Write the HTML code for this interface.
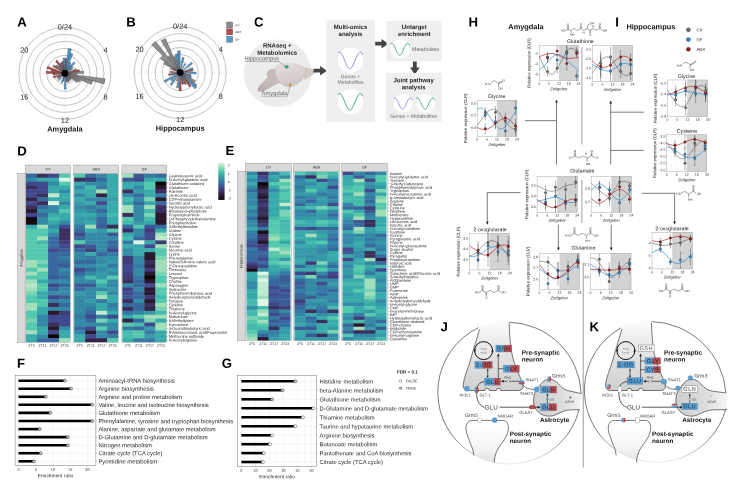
<!DOCTYPE html>
<html lang="en"><head><meta charset="utf-8"><title>Figure</title>
<style>
html,body{margin:0;padding:0;background:#fff;}
body{width:737px;height:491px;overflow:hidden;font-family:"Liberation Sans",sans-serif;}
svg{display:block;font-family:"Liberation Sans",sans-serif;text-rendering:geometricPrecision;}
</style></head><body>
<svg width="737" height="491" viewBox="0 0 737 491" style="will-change:transform">
<rect width="737" height="491" fill="#fff"/>
<line x1="64.9" y1="73.4" x2="64.9" y2="27.4" stroke="#e8e8e8" stroke-width="0.35"/>
<line x1="64.9" y1="73.4" x2="87.9" y2="33.56" stroke="#e8e8e8" stroke-width="0.35"/>
<line x1="64.9" y1="73.4" x2="104.74" y2="50.4" stroke="#e8e8e8" stroke-width="0.35"/>
<line x1="64.9" y1="73.4" x2="110.9" y2="73.4" stroke="#e8e8e8" stroke-width="0.35"/>
<line x1="64.9" y1="73.4" x2="104.74" y2="96.4" stroke="#e8e8e8" stroke-width="0.35"/>
<line x1="64.9" y1="73.4" x2="87.9" y2="113.24" stroke="#e8e8e8" stroke-width="0.35"/>
<line x1="64.9" y1="73.4" x2="64.9" y2="119.4" stroke="#e8e8e8" stroke-width="0.35"/>
<line x1="64.9" y1="73.4" x2="41.9" y2="113.24" stroke="#e8e8e8" stroke-width="0.35"/>
<line x1="64.9" y1="73.4" x2="25.06" y2="96.4" stroke="#e8e8e8" stroke-width="0.35"/>
<line x1="64.9" y1="73.4" x2="18.9" y2="73.4" stroke="#e8e8e8" stroke-width="0.35"/>
<line x1="64.9" y1="73.4" x2="25.06" y2="50.4" stroke="#e8e8e8" stroke-width="0.35"/>
<line x1="64.9" y1="73.4" x2="41.9" y2="33.56" stroke="#e8e8e8" stroke-width="0.35"/>
<circle cx="64.9" cy="73.4" r="11" fill="none" stroke="#555" stroke-width="0.35"/>
<circle cx="64.9" cy="73.4" r="18" fill="none" stroke="#555" stroke-width="0.35"/>
<circle cx="64.9" cy="73.4" r="25" fill="none" stroke="#555" stroke-width="0.35"/>
<circle cx="64.9" cy="73.4" r="32" fill="none" stroke="#555" stroke-width="0.35"/>
<circle cx="64.9" cy="73.4" r="39" fill="none" stroke="#555" stroke-width="0.35"/>
<circle cx="64.9" cy="73.4" r="46" fill="none" stroke="#555" stroke-width="0.35"/>
<path d="M64.9 73.4L105.15 78.7A40.6 40.6 0 0 1 104.12 83.91Z" fill="#8c8c8c" stroke="#222" stroke-width="0.3" stroke-linejoin="round"/>
<path d="M64.9 73.4L92.62 80.83A28.7 28.7 0 0 1 91.42 84.38Z" fill="#8c8c8c" stroke="#222" stroke-width="0.3" stroke-linejoin="round"/>
<path d="M64.9 73.4L80.61 79.91A17 17 0 0 1 79.62 81.9Z" fill="#8c8c8c" stroke="#222" stroke-width="0.3" stroke-linejoin="round"/>
<path d="M64.9 73.4L78.06 81A15.2 15.2 0 0 1 76.96 82.65Z" fill="#8c8c8c" stroke="#222" stroke-width="0.3" stroke-linejoin="round"/>
<path d="M64.9 73.4L83.44 70.96A18.7 18.7 0 0 1 83.6 73.4Z" fill="#8c8c8c" stroke="#222" stroke-width="0.3" stroke-linejoin="round"/>
<path d="M64.9 73.4L76.26 68.69A12.3 12.3 0 0 1 76.78 70.22Z" fill="#8c8c8c" stroke="#222" stroke-width="0.3" stroke-linejoin="round"/>
<path d="M64.9 73.4L76.9 73.4A12 12 0 0 1 76.8 74.97Z" fill="#8c8c8c" stroke="#222" stroke-width="0.3" stroke-linejoin="round"/>
<path d="M64.9 73.4L55.46 66.16A11.9 11.9 0 0 1 56.49 64.99Z" fill="#8c8c8c" stroke="#222" stroke-width="0.3" stroke-linejoin="round"/>
<path d="M64.9 73.4L57.83 66.33A10 10 0 0 1 58.81 65.47Z" fill="#8c8c8c" stroke="#222" stroke-width="0.3" stroke-linejoin="round"/>
<path d="M64.9 73.4L71.26 79.76A9 9 0 0 1 70.38 80.54Z" fill="#8c8c8c" stroke="#222" stroke-width="0.3" stroke-linejoin="round"/>
<path d="M64.9 73.4L72.04 67.92A9 9 0 0 1 72.69 68.9Z" fill="#8c8c8c" stroke="#222" stroke-width="0.3" stroke-linejoin="round"/>
<path d="M64.9 73.4L61.46 65.09A9 9 0 0 1 62.57 64.71Z" fill="#8c8c8c" stroke="#222" stroke-width="0.3" stroke-linejoin="round"/>
<path d="M64.9 73.4L46.74 68.53A18.8 18.8 0 0 1 47.53 66.21Z" fill="#b5494a" stroke="#222" stroke-width="0.3" stroke-linejoin="round"/>
<path d="M64.9 73.4L46.2 73.4A18.7 18.7 0 0 1 46.36 70.96Z" fill="#b5494a" stroke="#222" stroke-width="0.3" stroke-linejoin="round"/>
<path d="M64.9 73.4L51.02 71.57A14 14 0 0 1 51.38 69.78Z" fill="#b5494a" stroke="#222" stroke-width="0.3" stroke-linejoin="round"/>
<path d="M64.9 73.4L53 74.97A12 12 0 0 1 52.9 73.4Z" fill="#b5494a" stroke="#222" stroke-width="0.3" stroke-linejoin="round"/>
<path d="M64.9 73.4L53.54 78.11A12.3 12.3 0 0 1 53.02 76.58Z" fill="#b5494a" stroke="#222" stroke-width="0.3" stroke-linejoin="round"/>
<path d="M64.9 73.4L52.78 66.4A14 14 0 0 1 53.79 64.88Z" fill="#b5494a" stroke="#222" stroke-width="0.3" stroke-linejoin="round"/>
<path d="M64.9 73.4L55.53 61.18A15.4 15.4 0 0 1 57.2 60.06Z" fill="#b5494a" stroke="#222" stroke-width="0.3" stroke-linejoin="round"/>
<path d="M64.9 73.4L61.74 61.62A12.2 12.2 0 0 1 63.31 61.3Z" fill="#b5494a" stroke="#222" stroke-width="0.3" stroke-linejoin="round"/>
<path d="M64.9 73.4L64.9 58.4A15 15 0 0 1 66.86 58.53Z" fill="#b5494a" stroke="#222" stroke-width="0.3" stroke-linejoin="round"/>
<path d="M64.9 73.4L79.2 69.57A14.8 14.8 0 0 1 79.57 71.47Z" fill="#b5494a" stroke="#222" stroke-width="0.3" stroke-linejoin="round"/>
<path d="M64.9 73.4L59.4 63.87A11 11 0 0 1 60.69 63.24Z" fill="#b5494a" stroke="#222" stroke-width="0.3" stroke-linejoin="round"/>
<path d="M64.9 73.4L57.76 78.88A9 9 0 0 1 57.11 77.9Z" fill="#b5494a" stroke="#222" stroke-width="0.3" stroke-linejoin="round"/>
<path d="M64.9 73.4L69.4 81.19A9 9 0 0 1 68.34 81.71Z" fill="#b5494a" stroke="#222" stroke-width="0.3" stroke-linejoin="round"/>
<path d="M64.9 73.4L71.25 78.27A8 8 0 0 1 70.56 79.06Z" fill="#b5494a" stroke="#222" stroke-width="0.3" stroke-linejoin="round"/>
<path d="M64.9 73.4L67.1 81.61A8.5 8.5 0 0 1 66.01 81.83Z" fill="#b5494a" stroke="#222" stroke-width="0.3" stroke-linejoin="round"/>
<path d="M64.9 73.4L68.19 48.42A25.2 25.2 0 0 1 71.42 49.06Z" fill="#4f9ad0" stroke="#222" stroke-width="0.3" stroke-linejoin="round"/>
<path d="M64.9 73.4L70.34 53.12A21 21 0 0 1 72.94 54Z" fill="#4f9ad0" stroke="#222" stroke-width="0.3" stroke-linejoin="round"/>
<path d="M64.9 73.4L62.89 58.13A15.4 15.4 0 0 1 64.9 58Z" fill="#4f9ad0" stroke="#222" stroke-width="0.3" stroke-linejoin="round"/>
<path d="M64.9 73.4L73.73 61.9A14.5 14.5 0 0 1 75.15 63.15Z" fill="#4f9ad0" stroke="#222" stroke-width="0.3" stroke-linejoin="round"/>
<path d="M64.9 73.4L69.9 64.74A10 10 0 0 1 70.99 65.47Z" fill="#4f9ad0" stroke="#222" stroke-width="0.3" stroke-linejoin="round"/>
<path d="M64.9 73.4L71.97 66.33A10 10 0 0 1 72.83 67.31Z" fill="#4f9ad0" stroke="#222" stroke-width="0.3" stroke-linejoin="round"/>
<path d="M64.9 73.4L66.35 89.23A15.9 15.9 0 0 1 64.28 89.29Z" fill="#4f9ad0" stroke="#222" stroke-width="0.3" stroke-linejoin="round"/>
<path d="M64.9 73.4L68.46 81.99A9.3 9.3 0 0 1 67.31 82.38Z" fill="#4f9ad0" stroke="#222" stroke-width="0.3" stroke-linejoin="round"/>
<path d="M64.9 73.4L62.36 82.87A9.8 9.8 0 0 1 61.15 82.45Z" fill="#4f9ad0" stroke="#222" stroke-width="0.3" stroke-linejoin="round"/>
<path d="M64.9 73.4L59.24 80.78A9.3 9.3 0 0 1 58.32 79.98Z" fill="#4f9ad0" stroke="#222" stroke-width="0.3" stroke-linejoin="round"/>
<path d="M64.9 73.4L63.86 81.33A8 8 0 0 1 62.83 81.13Z" fill="#4f9ad0" stroke="#222" stroke-width="0.3" stroke-linejoin="round"/>
<path d="M64.9 73.4L60.69 63.24A11 11 0 0 1 62.05 62.77Z" fill="#4f9ad0" stroke="#222" stroke-width="0.3" stroke-linejoin="round"/>
<path d="M64.9 73.4L69.77 79.75A8 8 0 0 1 68.9 80.33Z" fill="#4f9ad0" stroke="#222" stroke-width="0.3" stroke-linejoin="round"/>
<path d="M64.9 73.4L57.97 77.4A8 8 0 0 1 57.51 76.46Z" fill="#4f9ad0" stroke="#222" stroke-width="0.3" stroke-linejoin="round"/>
<path d="M64.9 73.4L69.49 62.31A12 12 0 0 1 70.9 63.01Z" fill="#4f9ad0" stroke="#222" stroke-width="0.3" stroke-linejoin="round"/>
<circle cx="64.9" cy="73.4" r="3.3" fill="#000"/>
<text transform="translate(64.9 29.5) rotate(0.03)" font-size="7.4" text-anchor="middle" fill="#222">0/24</text>
<text transform="translate(105.5 52.6) rotate(0.03)" font-size="7.4" text-anchor="middle" fill="#222">4</text>
<text transform="translate(105.5 99.6) rotate(0.03)" font-size="7.4" text-anchor="middle" fill="#222">8</text>
<text transform="translate(64.9 122.7) rotate(0.03)" font-size="7.4" text-anchor="middle" fill="#222">12</text>
<text transform="translate(24.3 99.6) rotate(0.03)" font-size="7.4" text-anchor="middle" fill="#222">16</text>
<text transform="translate(24.3 52.6) rotate(0.03)" font-size="7.4" text-anchor="middle" fill="#222">20</text>
<text transform="translate(64.9 131.6) rotate(0.03)" font-size="7.4" text-anchor="middle" font-weight="bold" fill="#111">Amygdala</text>
<line x1="180.2" y1="72.6" x2="180.2" y2="26.6" stroke="#e8e8e8" stroke-width="0.35"/>
<line x1="180.2" y1="72.6" x2="203.2" y2="32.76" stroke="#e8e8e8" stroke-width="0.35"/>
<line x1="180.2" y1="72.6" x2="220.04" y2="49.6" stroke="#e8e8e8" stroke-width="0.35"/>
<line x1="180.2" y1="72.6" x2="226.2" y2="72.6" stroke="#e8e8e8" stroke-width="0.35"/>
<line x1="180.2" y1="72.6" x2="220.04" y2="95.6" stroke="#e8e8e8" stroke-width="0.35"/>
<line x1="180.2" y1="72.6" x2="203.2" y2="112.44" stroke="#e8e8e8" stroke-width="0.35"/>
<line x1="180.2" y1="72.6" x2="180.2" y2="118.6" stroke="#e8e8e8" stroke-width="0.35"/>
<line x1="180.2" y1="72.6" x2="157.2" y2="112.44" stroke="#e8e8e8" stroke-width="0.35"/>
<line x1="180.2" y1="72.6" x2="140.36" y2="95.6" stroke="#e8e8e8" stroke-width="0.35"/>
<line x1="180.2" y1="72.6" x2="134.2" y2="72.6" stroke="#e8e8e8" stroke-width="0.35"/>
<line x1="180.2" y1="72.6" x2="140.36" y2="49.6" stroke="#e8e8e8" stroke-width="0.35"/>
<line x1="180.2" y1="72.6" x2="157.2" y2="32.76" stroke="#e8e8e8" stroke-width="0.35"/>
<circle cx="180.2" cy="72.6" r="11" fill="none" stroke="#555" stroke-width="0.35"/>
<circle cx="180.2" cy="72.6" r="18" fill="none" stroke="#555" stroke-width="0.35"/>
<circle cx="180.2" cy="72.6" r="25" fill="none" stroke="#555" stroke-width="0.35"/>
<circle cx="180.2" cy="72.6" r="32" fill="none" stroke="#555" stroke-width="0.35"/>
<circle cx="180.2" cy="72.6" r="39" fill="none" stroke="#555" stroke-width="0.35"/>
<circle cx="180.2" cy="72.6" r="46" fill="none" stroke="#555" stroke-width="0.35"/>
<path d="M180.2 72.6L151.62 44.76A39.9 39.9 0 0 1 155.5 41.27Z" fill="#8c8c8c" stroke="#222" stroke-width="0.3" stroke-linejoin="round"/>
<path d="M180.2 72.6L161.18 40.63A37.2 37.2 0 0 1 165.52 38.42Z" fill="#8c8c8c" stroke="#222" stroke-width="0.3" stroke-linejoin="round"/>
<path d="M180.2 72.6L160.44 58.63A24.2 24.2 0 0 1 162.43 56.17Z" fill="#8c8c8c" stroke="#222" stroke-width="0.3" stroke-linejoin="round"/>
<path d="M180.2 72.6L163.65 63.89A18.7 18.7 0 0 1 164.93 61.81Z" fill="#8c8c8c" stroke="#222" stroke-width="0.3" stroke-linejoin="round"/>
<path d="M180.2 72.6L167.82 56.89A20 20 0 0 1 169.97 55.41Z" fill="#8c8c8c" stroke="#222" stroke-width="0.3" stroke-linejoin="round"/>
<path d="M180.2 72.6L173.49 56.98A17 17 0 0 1 175.59 56.24Z" fill="#8c8c8c" stroke="#222" stroke-width="0.3" stroke-linejoin="round"/>
<path d="M180.2 72.6L196.95 84.77A20.7 20.7 0 0 1 195.22 86.85Z" fill="#8c8c8c" stroke="#222" stroke-width="0.3" stroke-linejoin="round"/>
<path d="M180.2 72.6L195.24 80.52A17 17 0 0 1 194.08 82.41Z" fill="#8c8c8c" stroke="#222" stroke-width="0.3" stroke-linejoin="round"/>
<path d="M180.2 72.6L190.23 82.37A14 14 0 0 1 188.87 83.59Z" fill="#8c8c8c" stroke="#222" stroke-width="0.3" stroke-linejoin="round"/>
<path d="M180.2 72.6L170.73 69.39A10 10 0 0 1 171.23 68.18Z" fill="#8c8c8c" stroke="#222" stroke-width="0.3" stroke-linejoin="round"/>
<path d="M180.2 72.6L181.4 90.86A18.3 18.3 0 0 1 179 90.86Z" fill="#b5494a" stroke="#222" stroke-width="0.3" stroke-linejoin="round"/>
<path d="M180.2 72.6L191.07 85.67A17 17 0 0 1 189.27 86.98Z" fill="#b5494a" stroke="#222" stroke-width="0.3" stroke-linejoin="round"/>
<path d="M180.2 72.6L186.55 83.94A13 13 0 0 1 185.02 84.67Z" fill="#b5494a" stroke="#222" stroke-width="0.3" stroke-linejoin="round"/>
<path d="M180.2 72.6L168.76 75.5A11.8 11.8 0 0 1 168.48 73.99Z" fill="#b5494a" stroke="#222" stroke-width="0.3" stroke-linejoin="round"/>
<path d="M180.2 72.6L170.2 72.47A10 10 0 0 1 170.3 71.17Z" fill="#b5494a" stroke="#222" stroke-width="0.3" stroke-linejoin="round"/>
<path d="M180.2 72.6L192.8 69.4A13 13 0 0 1 193.11 71.07Z" fill="#b5494a" stroke="#222" stroke-width="0.3" stroke-linejoin="round"/>
<path d="M180.2 72.6L190.99 74.75A11 11 0 0 1 190.62 76.14Z" fill="#b5494a" stroke="#222" stroke-width="0.3" stroke-linejoin="round"/>
<path d="M180.2 72.6L183.46 84.15A12 12 0 0 1 181.92 84.48Z" fill="#b5494a" stroke="#222" stroke-width="0.3" stroke-linejoin="round"/>
<path d="M180.2 72.6L173.03 69.06A8 8 0 0 1 173.55 68.16Z" fill="#b5494a" stroke="#222" stroke-width="0.3" stroke-linejoin="round"/>
<path d="M180.2 72.6L177.31 81.12A9 9 0 0 1 176.22 80.67Z" fill="#b5494a" stroke="#222" stroke-width="0.3" stroke-linejoin="round"/>
<path d="M180.2 72.6L177.35 50.99A21.8 21.8 0 0 1 180.2 50.8Z" fill="#4f9ad0" stroke="#222" stroke-width="0.3" stroke-linejoin="round"/>
<path d="M180.2 72.6L175.28 54.25A19 19 0 0 1 177.72 53.76Z" fill="#4f9ad0" stroke="#222" stroke-width="0.3" stroke-linejoin="round"/>
<path d="M180.2 72.6L182.22 57.23A15.5 15.5 0 0 1 184.21 57.63Z" fill="#4f9ad0" stroke="#222" stroke-width="0.3" stroke-linejoin="round"/>
<path d="M180.2 72.6L191.36 62.28A15.2 15.2 0 0 1 192.61 63.83Z" fill="#4f9ad0" stroke="#222" stroke-width="0.3" stroke-linejoin="round"/>
<path d="M180.2 72.6L196.09 71.98A15.9 15.9 0 0 1 196.03 74.05Z" fill="#4f9ad0" stroke="#222" stroke-width="0.3" stroke-linejoin="round"/>
<path d="M180.2 72.6L192.65 67.63A13.4 13.4 0 0 1 193.19 69.3Z" fill="#4f9ad0" stroke="#222" stroke-width="0.3" stroke-linejoin="round"/>
<path d="M180.2 72.6L165.23 82.6A18 18 0 0 1 164.06 80.56Z" fill="#4f9ad0" stroke="#222" stroke-width="0.3" stroke-linejoin="round"/>
<path d="M180.2 72.6L171.59 85.49A15.5 15.5 0 0 1 169.98 84.25Z" fill="#4f9ad0" stroke="#222" stroke-width="0.3" stroke-linejoin="round"/>
<path d="M180.2 72.6L178.38 87.99A15.5 15.5 0 0 1 176.38 87.62Z" fill="#4f9ad0" stroke="#222" stroke-width="0.3" stroke-linejoin="round"/>
<path d="M180.2 72.6L196.93 86.89A22 22 0 0 1 194.92 88.95Z" fill="#4f9ad0" stroke="#222" stroke-width="0.3" stroke-linejoin="round"/>
<path d="M180.2 72.6L184.62 63.63A10 10 0 0 1 185.76 64.29Z" fill="#4f9ad0" stroke="#222" stroke-width="0.3" stroke-linejoin="round"/>
<path d="M180.2 72.6L191.56 76.46A12 12 0 0 1 190.96 77.91Z" fill="#4f9ad0" stroke="#222" stroke-width="0.3" stroke-linejoin="round"/>
<path d="M180.2 72.6L171.6 80.97A12 12 0 0 1 170.58 79.78Z" fill="#4f9ad0" stroke="#222" stroke-width="0.3" stroke-linejoin="round"/>
<path d="M180.2 72.6L184.28 82.82A11 11 0 0 1 182.91 83.26Z" fill="#4f9ad0" stroke="#222" stroke-width="0.3" stroke-linejoin="round"/>
<path d="M180.2 72.6L171.68 75.49A9 9 0 0 1 171.37 74.36Z" fill="#4f9ad0" stroke="#222" stroke-width="0.3" stroke-linejoin="round"/>
<circle cx="180.2" cy="72.6" r="3.3" fill="#000"/>
<text transform="translate(180.2 28.7) rotate(0.03)" font-size="7.4" text-anchor="middle" fill="#222">0/24</text>
<text transform="translate(220.8 51.8) rotate(0.03)" font-size="7.4" text-anchor="middle" fill="#222">4</text>
<text transform="translate(220.8 98.8) rotate(0.03)" font-size="7.4" text-anchor="middle" fill="#222">8</text>
<text transform="translate(180.2 121.9) rotate(0.03)" font-size="7.4" text-anchor="middle" fill="#222">12</text>
<text transform="translate(139.6 98.8) rotate(0.03)" font-size="7.4" text-anchor="middle" fill="#222">16</text>
<text transform="translate(139.6 51.8) rotate(0.03)" font-size="7.4" text-anchor="middle" fill="#222">20</text>
<text transform="translate(180.2 130.8) rotate(0.03)" font-size="7.4" text-anchor="middle" font-weight="bold" fill="#111">Hippocampus</text>
<rect x="226.6" y="22" width="6.1" height="6" fill="#8c8c8c" stroke="#444" stroke-width="0.3"/>
<text transform="translate(235.2 26.2) rotate(0.03)" font-size="3.1" fill="#222">CV</text>
<rect x="226.6" y="28.9" width="6.1" height="6" fill="#b5494a" stroke="#444" stroke-width="0.3"/>
<text transform="translate(235.2 33.1) rotate(0.03)" font-size="3.1" fill="#222">ABX</text>
<rect x="226.6" y="36.3" width="6.1" height="6" fill="#4f9ad0" stroke="#444" stroke-width="0.3"/>
<text transform="translate(235.2 40.5) rotate(0.03)" font-size="3.1" fill="#222">GF</text>
<circle cx="277.7" cy="73.2" r="33.8" fill="#ececec"/>
<defs><linearGradient id="brn" x1="0" y1="0" x2="0.3" y2="1"><stop offset="0" stop-color="#e6e0de"/><stop offset="1" stop-color="#cfc7c4"/></linearGradient><linearGradient id="brn2" x1="0" y1="0" x2="0" y2="1"><stop offset="0" stop-color="#d3cbc8"/><stop offset="1" stop-color="#b5aca9"/></linearGradient></defs>
<path d="M258 91 C256.5 89.5 258.5 86.5 262 83 C266 79 269 75.5 272 73.5 L281 82.5 C276 84 270 87.5 265 90.5 C262 92.3 259.3 92.3 258 91 Z" fill="url(#brn2)"/>
<path d="M266.8 75 C266.5 71 270 68.6 274 69.2 C278 69.8 280 73 279 77 C278 80.5 273.5 81 270.5 79.8 C268.3 78.9 267 77.2 266.8 75 Z" fill="#c4bbb8"/>
<path d="M303 68 C308 67.2 313 68.5 315 70.6 C316 72 314.5 74 311 76 C308.5 77.5 306 79 304.5 80 Z" fill="#d2cac7"/>
<path d="M275.9 66.5 C279 63.3 285 62.2 290.4 62.4 C296.5 62.6 302.5 64.6 305.6 68 C306.3 72.5 304.4 77.2 301.1 80.8 C298 84.3 294.5 86.8 290.4 87 C285.5 87.2 281 84.3 278.2 80.8 C275.5 77.2 274.3 71 275.9 66.5 Z" fill="url(#brn)"/>
<path d="M275.9 66.5 C274.3 71 275.5 77.2 278.2 80.8 C281 84.3 285.5 87.2 290.4 87" fill="none" stroke="#b5aca9" stroke-width="0.35"/>
<path d="M305.6 68 C306.3 72.5 304.4 77.2 301.1 80.8" fill="none" stroke="#b5aca9" stroke-width="0.35"/>
<ellipse cx="286.6" cy="66.8" rx="2.1" ry="1.6" fill="#2fa07d"/>
<circle cx="290.1" cy="85" r="1.4" fill="#e08a3c"/>
<text transform="translate(277.2 47.6) rotate(0.03)" font-size="6" text-anchor="middle" font-weight="bold" fill="#222">RNAseq +</text>
<text transform="translate(277.2 54.8) rotate(0.03)" font-size="6" text-anchor="middle" font-weight="bold" fill="#222">Metabolomics</text>
<text transform="translate(244.4 60.2) rotate(0.03)" font-size="5.7" fill="#666">Hippocampus</text>
<path d="M244.6 61.4L278.2 61.4L285.6 66.2" fill="none" stroke="#555" stroke-width="0.4"/>
<text transform="translate(261.6 94.9) rotate(0.03)" font-size="5.8" fill="#666">Amygdala</text>
<path d="M261.4 96.2L287.4 96.2L290.1 86.2" fill="none" stroke="#555" stroke-width="0.4"/>
<path d="M313.5 68.8L320.1 68.8L320.1 65.9L327 70.7L320.1 75.5L320.1 72.6L313.5 72.6Z" fill="#444"/>
<rect x="326.2" y="20.3" width="48.8" height="101.4" fill="#efefef"/>
<text transform="translate(350.5 29) rotate(0.03)" font-size="6.05" text-anchor="middle" font-weight="bold" fill="#222">Multi-omics</text>
<text transform="translate(350.5 36) rotate(0.03)" font-size="6.05" text-anchor="middle" font-weight="bold" fill="#222">analysis</text>
<circle cx="350.6" cy="60.2" r="12.7" fill="#fff"/>
<path d="M338.35 52.7C338.52 52.62 339.03 52.24 339.37 52.21C339.71 52.17 340.05 52.27 340.39 52.49C340.73 52.71 341.07 53.07 341.41 53.53C341.75 53.98 342.09 54.57 342.43 55.21C342.77 55.85 343.11 56.61 343.45 57.39C343.79 58.16 344.13 59.02 344.48 59.85C344.82 60.68 345.16 61.56 345.5 62.36C345.84 63.17 346.18 63.98 346.52 64.69C346.86 65.4 347.2 66.07 347.54 66.61C347.88 67.15 348.22 67.62 348.56 67.95C348.9 68.27 349.24 68.49 349.58 68.56C349.92 68.64 350.26 68.59 350.6 68.41C350.94 68.23 351.28 67.91 351.62 67.5C351.96 67.08 352.3 66.53 352.64 65.91C352.98 65.3 353.32 64.56 353.66 63.81C354 63.05 354.34 62.2 354.68 61.38C355.02 60.55 355.36 59.67 355.7 58.86C356.04 58.04 356.38 57.21 356.73 56.48C357.07 55.75 357.41 55.05 357.75 54.48C358.09 53.9 358.43 53.4 358.77 53.03C359.11 52.67 359.45 52.41 359.79 52.29C360.13 52.17 360.47 52.17 360.81 52.31C361.15 52.44 361.49 52.72 361.83 53.1C362.17 53.47 362.68 54.33 362.85 54.58" fill="none" stroke="#8b7fd0" stroke-width="0.9" stroke-linecap="round"/>
<text transform="translate(350.5 78.3) rotate(0.03)" font-size="5.1" text-anchor="middle" fill="#666">Genes +</text>
<text transform="translate(350.5 83.8) rotate(0.03)" font-size="5.1" text-anchor="middle" fill="#666">Metabolites</text>
<circle cx="350.6" cy="101.6" r="12.7" fill="#fff"/>
<path d="M338.35 94.1C338.52 94.02 339.03 93.64 339.37 93.61C339.71 93.57 340.05 93.67 340.39 93.89C340.73 94.11 341.07 94.47 341.41 94.93C341.75 95.38 342.09 95.97 342.43 96.61C342.77 97.25 343.11 98.01 343.45 98.79C343.79 99.56 344.13 100.42 344.48 101.25C344.82 102.08 345.16 102.96 345.5 103.76C345.84 104.57 346.18 105.38 346.52 106.09C346.86 106.8 347.2 107.47 347.54 108.01C347.88 108.55 348.22 109.02 348.56 109.35C348.9 109.67 349.24 109.89 349.58 109.96C349.92 110.04 350.26 109.99 350.6 109.81C350.94 109.63 351.28 109.31 351.62 108.9C351.96 108.48 352.3 107.93 352.64 107.31C352.98 106.7 353.32 105.96 353.66 105.21C354 104.45 354.34 103.6 354.68 102.78C355.02 101.95 355.36 101.07 355.7 100.26C356.04 99.44 356.38 98.61 356.73 97.88C357.07 97.15 357.41 96.45 357.75 95.88C358.09 95.3 358.43 94.8 358.77 94.43C359.11 94.07 359.45 93.81 359.79 93.69C360.13 93.57 360.47 93.57 360.81 93.71C361.15 93.84 361.49 94.12 361.83 94.5C362.17 94.87 362.68 95.73 362.85 95.98" fill="none" stroke="#2fa07d" stroke-width="0.9" stroke-linecap="round"/>
<path d="M375.2 41.8L381.5 41.8L381.5 38.9L388.4 43.7L381.5 48.5L381.5 45.6L375.2 45.6Z" fill="#444"/>
<rect x="386.5" y="21" width="55.2" height="40.3" fill="#efefef"/>
<text transform="translate(414.3 29) rotate(0.03)" font-size="6.05" text-anchor="middle" font-weight="bold" fill="#222">Untarget</text>
<text transform="translate(414.3 36) rotate(0.03)" font-size="6.05" text-anchor="middle" font-weight="bold" fill="#222">enrichment</text>
<circle cx="400.2" cy="49.1" r="9.7" fill="#fff"/>
<path d="M390.95 43.66C391.08 43.6 391.46 43.33 391.72 43.31C391.98 43.28 392.23 43.35 392.49 43.51C392.75 43.67 393.01 43.94 393.26 44.27C393.52 44.6 393.78 45.03 394.03 45.5C394.29 45.97 394.55 46.53 394.8 47.1C395.06 47.66 395.32 48.29 395.57 48.9C395.83 49.5 396.09 50.15 396.35 50.74C396.6 51.33 396.86 51.92 397.12 52.44C397.37 52.96 397.63 53.45 397.89 53.85C398.14 54.24 398.4 54.58 398.66 54.82C398.92 55.06 399.17 55.22 399.43 55.27C399.69 55.33 399.94 55.29 400.2 55.16C400.46 55.03 400.71 54.8 400.97 54.49C401.23 54.19 401.48 53.78 401.74 53.33C402 52.88 402.26 52.35 402.51 51.79C402.77 51.24 403.03 50.62 403.28 50.02C403.54 49.41 403.8 48.77 404.05 48.17C404.31 47.57 404.57 46.97 404.82 46.43C405.08 45.9 405.34 45.39 405.6 44.97C405.85 44.55 406.11 44.18 406.37 43.91C406.62 43.64 406.88 43.45 407.14 43.36C407.39 43.28 407.65 43.28 407.91 43.38C408.17 43.48 408.42 43.68 408.68 43.96C408.94 44.23 409.32 44.86 409.45 45.04" fill="none" stroke="#2fa07d" stroke-width="0.8" stroke-linecap="round"/>
<text transform="translate(412 51) rotate(0.03)" font-size="5.3" fill="#666">Metabolites</text>
<path d="M412.9 61.6L412.9 67.5L410 67.5L414.8 74.4L419.6 67.5L416.7 67.5L416.7 61.6Z" fill="#444"/>
<rect x="386" y="73" width="55.7" height="48.7" fill="#efefef"/>
<text transform="translate(413.6 82.3) rotate(0.03)" font-size="6.05" text-anchor="middle" font-weight="bold" fill="#222">Joint pathway</text>
<text transform="translate(413.6 89.3) rotate(0.03)" font-size="6.05" text-anchor="middle" font-weight="bold" fill="#222">analysis</text>
<circle cx="403.1" cy="103.4" r="9.4" fill="#fff"/>
<path d="M394.1 98.34C394.23 98.28 394.6 98.03 394.85 98C395.1 97.98 395.35 98.05 395.6 98.2C395.85 98.35 396.1 98.6 396.35 98.91C396.6 99.22 396.85 99.62 397.1 100.06C397.35 100.5 397.6 101.01 397.85 101.54C398.1 102.07 398.35 102.66 398.6 103.22C398.85 103.79 399.1 104.39 399.35 104.94C399.6 105.49 399.85 106.05 400.1 106.53C400.35 107.01 400.6 107.47 400.85 107.84C401.1 108.21 401.35 108.53 401.6 108.75C401.85 108.98 402.1 109.12 402.35 109.18C402.6 109.23 402.85 109.19 403.1 109.07C403.35 108.95 403.6 108.73 403.85 108.45C404.1 108.16 404.35 107.79 404.6 107.37C404.85 106.95 405.1 106.44 405.35 105.93C405.6 105.41 405.85 104.83 406.1 104.27C406.35 103.7 406.6 103.1 406.85 102.55C407.1 101.99 407.35 101.42 407.6 100.92C407.85 100.43 408.1 99.95 408.35 99.55C408.6 99.16 408.85 98.82 409.1 98.57C409.35 98.32 409.6 98.14 409.85 98.06C410.1 97.98 410.35 97.98 410.6 98.07C410.85 98.17 411.1 98.35 411.35 98.61C411.6 98.87 411.98 99.45 412.1 99.62" fill="none" stroke="#8b7fd0" stroke-width="0.8" stroke-linecap="round"/>
<circle cx="425.6" cy="103.4" r="9.4" fill="#fff"/>
<path d="M416.6 98.34C416.73 98.28 417.1 98.03 417.35 98C417.6 97.98 417.85 98.05 418.1 98.2C418.35 98.35 418.6 98.6 418.85 98.91C419.1 99.22 419.35 99.62 419.6 100.06C419.85 100.5 420.1 101.01 420.35 101.54C420.6 102.07 420.85 102.66 421.1 103.22C421.35 103.79 421.6 104.39 421.85 104.94C422.1 105.49 422.35 106.05 422.6 106.53C422.85 107.01 423.1 107.47 423.35 107.84C423.6 108.21 423.85 108.53 424.1 108.75C424.35 108.98 424.6 109.12 424.85 109.18C425.1 109.23 425.35 109.19 425.6 109.07C425.85 108.95 426.1 108.73 426.35 108.45C426.6 108.16 426.85 107.79 427.1 107.37C427.35 106.95 427.6 106.44 427.85 105.93C428.1 105.41 428.35 104.83 428.6 104.27C428.85 103.7 429.1 103.1 429.35 102.55C429.6 101.99 429.85 101.42 430.1 100.92C430.35 100.43 430.6 99.95 430.85 99.55C431.1 99.16 431.35 98.82 431.6 98.57C431.85 98.32 432.1 98.14 432.35 98.06C432.6 97.98 432.85 97.98 433.1 98.07C433.35 98.17 433.6 98.35 433.85 98.61C434.1 98.87 434.48 99.45 434.6 99.62" fill="none" stroke="#2fa07d" stroke-width="0.8" stroke-linecap="round"/>
<text transform="translate(413.6 117.8) rotate(0.03)" font-size="5.1" text-anchor="middle" fill="#666">Genes + Metabolites</text>
<rect x="17.6" y="173.5" width="7.5" height="168.94" fill="#d9d9d9" stroke="#7a7a7a" stroke-width="0.35"/>
<text transform="translate(22.65 257.97) rotate(-89.97)" font-size="3.9" text-anchor="middle" fill="#222">Amygdala</text>
<rect x="25.5" y="165" width="45.1" height="8.5" fill="#d9d9d9" stroke="#7a7a7a" stroke-width="0.35"/>
<text transform="translate(48.05 170.5) rotate(0.03)" font-size="3.7" text-anchor="middle" fill="#222">CV</text>
<rect x="25.5" y="173.5" width="45.1" height="168.94" fill="#fff" stroke="#7a7a7a" stroke-width="0.35"/>
<rect x="25.95" y="173.8" width="11.45" height="4.32" fill="#366a9f"/>
<rect x="37" y="173.8" width="11.45" height="4.32" fill="#3b2f5e"/>
<rect x="48.05" y="173.8" width="11.45" height="4.32" fill="#40498e"/>
<rect x="59.1" y="173.8" width="11.05" height="4.32" fill="#54c9ad"/>
<rect x="25.95" y="177.72" width="11.45" height="4.32" fill="#348aa6"/>
<rect x="37" y="177.72" width="11.45" height="4.32" fill="#38aaac"/>
<rect x="48.05" y="177.72" width="11.45" height="4.32" fill="#38aaac"/>
<rect x="59.1" y="177.72" width="11.05" height="4.32" fill="#DEF5E5"/>
<rect x="25.95" y="181.63" width="11.45" height="4.32" fill="#40498e"/>
<rect x="37" y="181.63" width="11.45" height="4.32" fill="#40498e"/>
<rect x="48.05" y="181.63" width="11.45" height="4.32" fill="#348aa6"/>
<rect x="59.1" y="181.63" width="11.05" height="4.32" fill="#54c9ad"/>
<rect x="25.95" y="185.55" width="11.45" height="4.32" fill="#3b2f5e"/>
<rect x="37" y="185.55" width="11.45" height="4.32" fill="#40498e"/>
<rect x="48.05" y="185.55" width="11.45" height="4.32" fill="#38aaac"/>
<rect x="59.1" y="185.55" width="11.05" height="4.32" fill="#38aaac"/>
<rect x="25.95" y="189.46" width="11.45" height="4.32" fill="#40498e"/>
<rect x="37" y="189.46" width="11.45" height="4.32" fill="#40498e"/>
<rect x="48.05" y="189.46" width="11.45" height="4.32" fill="#38aaac"/>
<rect x="59.1" y="189.46" width="11.05" height="4.32" fill="#348aa6"/>
<rect x="25.95" y="193.38" width="11.45" height="4.32" fill="#40498e"/>
<rect x="37" y="193.38" width="11.45" height="4.32" fill="#3b2f5e"/>
<rect x="48.05" y="193.38" width="11.45" height="4.32" fill="#bfeacf"/>
<rect x="59.1" y="193.38" width="11.05" height="4.32" fill="#38aaac"/>
<rect x="25.95" y="197.29" width="11.45" height="4.32" fill="#322446"/>
<rect x="37" y="197.29" width="11.45" height="4.32" fill="#366a9f"/>
<rect x="48.05" y="197.29" width="11.45" height="4.32" fill="#38aaac"/>
<rect x="59.1" y="197.29" width="11.05" height="4.32" fill="#38aaac"/>
<rect x="25.95" y="201.21" width="11.45" height="4.32" fill="#40498e"/>
<rect x="37" y="201.21" width="11.45" height="4.32" fill="#3b2f5e"/>
<rect x="48.05" y="201.21" width="11.45" height="4.32" fill="#DEF5E5"/>
<rect x="59.1" y="201.21" width="11.05" height="4.32" fill="#348aa6"/>
<rect x="25.95" y="205.12" width="11.45" height="4.32" fill="#3b2f5e"/>
<rect x="37" y="205.12" width="11.45" height="4.32" fill="#366a9f"/>
<rect x="48.05" y="205.12" width="11.45" height="4.32" fill="#348aa6"/>
<rect x="59.1" y="205.12" width="11.05" height="4.32" fill="#38aaac"/>
<rect x="25.95" y="209.04" width="11.45" height="4.32" fill="#28192f"/>
<rect x="37" y="209.04" width="11.45" height="4.32" fill="#348aa6"/>
<rect x="48.05" y="209.04" width="11.45" height="4.32" fill="#348aa6"/>
<rect x="59.1" y="209.04" width="11.05" height="4.32" fill="#54c9ad"/>
<rect x="25.95" y="212.95" width="11.45" height="4.32" fill="#40498e"/>
<rect x="37" y="212.95" width="11.45" height="4.32" fill="#366a9f"/>
<rect x="48.05" y="212.95" width="11.45" height="4.32" fill="#38aaac"/>
<rect x="59.1" y="212.95" width="11.05" height="4.32" fill="#38aaac"/>
<rect x="25.95" y="216.87" width="11.45" height="4.32" fill="#140a12"/>
<rect x="37" y="216.87" width="11.45" height="4.32" fill="#348aa6"/>
<rect x="48.05" y="216.87" width="11.45" height="4.32" fill="#46baac"/>
<rect x="59.1" y="216.87" width="11.05" height="4.32" fill="#38aaac"/>
<rect x="25.95" y="220.78" width="11.45" height="4.32" fill="#140a12"/>
<rect x="37" y="220.78" width="11.45" height="4.32" fill="#348aa6"/>
<rect x="48.05" y="220.78" width="11.45" height="4.32" fill="#38aaac"/>
<rect x="59.1" y="220.78" width="11.05" height="4.32" fill="#348aa6"/>
<rect x="25.95" y="224.7" width="11.45" height="4.32" fill="#38aaac"/>
<rect x="37" y="224.7" width="11.45" height="4.32" fill="#a0dfb9"/>
<rect x="48.05" y="224.7" width="11.45" height="4.32" fill="#348aa6"/>
<rect x="59.1" y="224.7" width="11.05" height="4.32" fill="#40498e"/>
<rect x="25.95" y="228.61" width="11.45" height="4.32" fill="#54c9ad"/>
<rect x="37" y="228.61" width="11.45" height="4.32" fill="#54c9ad"/>
<rect x="48.05" y="228.61" width="11.45" height="4.32" fill="#38aaac"/>
<rect x="59.1" y="228.61" width="11.05" height="4.32" fill="#3b2f5e"/>
<rect x="25.95" y="232.53" width="11.45" height="4.32" fill="#54c9ad"/>
<rect x="37" y="232.53" width="11.45" height="4.32" fill="#54c9ad"/>
<rect x="48.05" y="232.53" width="11.45" height="4.32" fill="#348aa6"/>
<rect x="59.1" y="232.53" width="11.05" height="4.32" fill="#3b2f5e"/>
<rect x="25.95" y="236.44" width="11.45" height="4.32" fill="#54c9ad"/>
<rect x="37" y="236.44" width="11.45" height="4.32" fill="#a0dfb9"/>
<rect x="48.05" y="236.44" width="11.45" height="4.32" fill="#366a9f"/>
<rect x="59.1" y="236.44" width="11.05" height="4.32" fill="#3b2f5e"/>
<rect x="25.95" y="240.36" width="11.45" height="4.32" fill="#54c9ad"/>
<rect x="37" y="240.36" width="11.45" height="4.32" fill="#46baac"/>
<rect x="48.05" y="240.36" width="11.45" height="4.32" fill="#366a9f"/>
<rect x="59.1" y="240.36" width="11.05" height="4.32" fill="#3e3c76"/>
<rect x="25.95" y="244.27" width="11.45" height="4.32" fill="#54c9ad"/>
<rect x="37" y="244.27" width="11.45" height="4.32" fill="#54c9ad"/>
<rect x="48.05" y="244.27" width="11.45" height="4.32" fill="#366a9f"/>
<rect x="59.1" y="244.27" width="11.05" height="4.32" fill="#40498e"/>
<rect x="25.95" y="248.19" width="11.45" height="4.32" fill="#54c9ad"/>
<rect x="37" y="248.19" width="11.45" height="4.32" fill="#54c9ad"/>
<rect x="48.05" y="248.19" width="11.45" height="4.32" fill="#40498e"/>
<rect x="59.1" y="248.19" width="11.05" height="4.32" fill="#3b5a96"/>
<rect x="25.95" y="252.1" width="11.45" height="4.32" fill="#54c9ad"/>
<rect x="37" y="252.1" width="11.45" height="4.32" fill="#54c9ad"/>
<rect x="48.05" y="252.1" width="11.45" height="4.32" fill="#366a9f"/>
<rect x="59.1" y="252.1" width="11.05" height="4.32" fill="#366a9f"/>
<rect x="25.95" y="256.01" width="11.45" height="4.32" fill="#54c9ad"/>
<rect x="37" y="256.01" width="11.45" height="4.32" fill="#54c9ad"/>
<rect x="48.05" y="256.01" width="11.45" height="4.32" fill="#366a9f"/>
<rect x="59.1" y="256.01" width="11.05" height="4.32" fill="#357aa2"/>
<rect x="25.95" y="259.93" width="11.45" height="4.32" fill="#a0dfb9"/>
<rect x="37" y="259.93" width="11.45" height="4.32" fill="#7ad4b3"/>
<rect x="48.05" y="259.93" width="11.45" height="4.32" fill="#366a9f"/>
<rect x="59.1" y="259.93" width="11.05" height="4.32" fill="#366a9f"/>
<rect x="25.95" y="263.85" width="11.45" height="4.32" fill="#a0dfb9"/>
<rect x="37" y="263.85" width="11.45" height="4.32" fill="#54c9ad"/>
<rect x="48.05" y="263.85" width="11.45" height="4.32" fill="#366a9f"/>
<rect x="59.1" y="263.85" width="11.05" height="4.32" fill="#3b5a96"/>
<rect x="25.95" y="267.76" width="11.45" height="4.32" fill="#54c9ad"/>
<rect x="37" y="267.76" width="11.45" height="4.32" fill="#a0dfb9"/>
<rect x="48.05" y="267.76" width="11.45" height="4.32" fill="#366a9f"/>
<rect x="59.1" y="267.76" width="11.05" height="4.32" fill="#348aa6"/>
<rect x="25.95" y="271.68" width="11.45" height="4.32" fill="#a0dfb9"/>
<rect x="37" y="271.68" width="11.45" height="4.32" fill="#54c9ad"/>
<rect x="48.05" y="271.68" width="11.45" height="4.32" fill="#366a9f"/>
<rect x="59.1" y="271.68" width="11.05" height="4.32" fill="#357aa2"/>
<rect x="25.95" y="275.59" width="11.45" height="4.32" fill="#54c9ad"/>
<rect x="37" y="275.59" width="11.45" height="4.32" fill="#54c9ad"/>
<rect x="48.05" y="275.59" width="11.45" height="4.32" fill="#3b5a96"/>
<rect x="59.1" y="275.59" width="11.05" height="4.32" fill="#366a9f"/>
<rect x="25.95" y="279.5" width="11.45" height="4.32" fill="#a0dfb9"/>
<rect x="37" y="279.5" width="11.45" height="4.32" fill="#38aaac"/>
<rect x="48.05" y="279.5" width="11.45" height="4.32" fill="#348aa6"/>
<rect x="59.1" y="279.5" width="11.05" height="4.32" fill="#348aa6"/>
<rect x="25.95" y="283.42" width="11.45" height="4.32" fill="#b3e6c6"/>
<rect x="37" y="283.42" width="11.45" height="4.32" fill="#54c9ad"/>
<rect x="48.05" y="283.42" width="11.45" height="4.32" fill="#40498e"/>
<rect x="59.1" y="283.42" width="11.05" height="4.32" fill="#366a9f"/>
<rect x="25.95" y="287.34" width="11.45" height="4.32" fill="#a0dfb9"/>
<rect x="37" y="287.34" width="11.45" height="4.32" fill="#54c9ad"/>
<rect x="48.05" y="287.34" width="11.45" height="4.32" fill="#366a9f"/>
<rect x="59.1" y="287.34" width="11.05" height="4.32" fill="#348aa6"/>
<rect x="25.95" y="291.25" width="11.45" height="4.32" fill="#7ad4b3"/>
<rect x="37" y="291.25" width="11.45" height="4.32" fill="#38aaac"/>
<rect x="48.05" y="291.25" width="11.45" height="4.32" fill="#348aa6"/>
<rect x="59.1" y="291.25" width="11.05" height="4.32" fill="#348aa6"/>
<rect x="25.95" y="295.17" width="11.45" height="4.32" fill="#54c9ad"/>
<rect x="37" y="295.17" width="11.45" height="4.32" fill="#38aaac"/>
<rect x="48.05" y="295.17" width="11.45" height="4.32" fill="#40498e"/>
<rect x="59.1" y="295.17" width="11.05" height="4.32" fill="#3b5a96"/>
<rect x="25.95" y="299.08" width="11.45" height="4.32" fill="#54c9ad"/>
<rect x="37" y="299.08" width="11.45" height="4.32" fill="#54c9ad"/>
<rect x="48.05" y="299.08" width="11.45" height="4.32" fill="#357aa2"/>
<rect x="59.1" y="299.08" width="11.05" height="4.32" fill="#348aa6"/>
<rect x="25.95" y="303" width="11.45" height="4.32" fill="#a0dfb9"/>
<rect x="37" y="303" width="11.45" height="4.32" fill="#54c9ad"/>
<rect x="48.05" y="303" width="11.45" height="4.32" fill="#3b2f5e"/>
<rect x="59.1" y="303" width="11.05" height="4.32" fill="#366a9f"/>
<rect x="25.95" y="306.91" width="11.45" height="4.32" fill="#a0dfb9"/>
<rect x="37" y="306.91" width="11.45" height="4.32" fill="#38aaac"/>
<rect x="48.05" y="306.91" width="11.45" height="4.32" fill="#348aa6"/>
<rect x="59.1" y="306.91" width="11.05" height="4.32" fill="#348aa6"/>
<rect x="25.95" y="310.83" width="11.45" height="4.32" fill="#54c9ad"/>
<rect x="37" y="310.83" width="11.45" height="4.32" fill="#38aaac"/>
<rect x="48.05" y="310.83" width="11.45" height="4.32" fill="#28192f"/>
<rect x="59.1" y="310.83" width="11.05" height="4.32" fill="#3e3c76"/>
<rect x="25.95" y="314.74" width="11.45" height="4.32" fill="#54c9ad"/>
<rect x="37" y="314.74" width="11.45" height="4.32" fill="#348aa6"/>
<rect x="48.05" y="314.74" width="11.45" height="4.32" fill="#40498e"/>
<rect x="59.1" y="314.74" width="11.05" height="4.32" fill="#40498e"/>
<rect x="25.95" y="318.65" width="11.45" height="4.32" fill="#7ad4b3"/>
<rect x="37" y="318.65" width="11.45" height="4.32" fill="#348aa6"/>
<rect x="48.05" y="318.65" width="11.45" height="4.32" fill="#40498e"/>
<rect x="59.1" y="318.65" width="11.05" height="4.32" fill="#40498e"/>
<rect x="25.95" y="322.57" width="11.45" height="4.32" fill="#54c9ad"/>
<rect x="37" y="322.57" width="11.45" height="4.32" fill="#348aa6"/>
<rect x="48.05" y="322.57" width="11.45" height="4.32" fill="#3b2f5e"/>
<rect x="59.1" y="322.57" width="11.05" height="4.32" fill="#40498e"/>
<rect x="25.95" y="326.49" width="11.45" height="4.32" fill="#54c9ad"/>
<rect x="37" y="326.49" width="11.45" height="4.32" fill="#38aaac"/>
<rect x="48.05" y="326.49" width="11.45" height="4.32" fill="#28192f"/>
<rect x="59.1" y="326.49" width="11.05" height="4.32" fill="#348aa6"/>
<rect x="25.95" y="330.4" width="11.45" height="4.32" fill="#a0dfb9"/>
<rect x="37" y="330.4" width="11.45" height="4.32" fill="#38aaac"/>
<rect x="48.05" y="330.4" width="11.45" height="4.32" fill="#40498e"/>
<rect x="59.1" y="330.4" width="11.05" height="4.32" fill="#38aaac"/>
<rect x="25.95" y="334.32" width="11.45" height="4.32" fill="#38aaac"/>
<rect x="37" y="334.32" width="11.45" height="4.32" fill="#348aa6"/>
<rect x="48.05" y="334.32" width="11.45" height="4.32" fill="#0b0405"/>
<rect x="59.1" y="334.32" width="11.05" height="4.32" fill="#38aaac"/>
<rect x="25.95" y="338.23" width="11.45" height="3.92" fill="#38aaac"/>
<rect x="37" y="338.23" width="11.45" height="3.92" fill="#366a9f"/>
<rect x="48.05" y="338.23" width="11.45" height="3.92" fill="#366a9f"/>
<rect x="59.1" y="338.23" width="11.05" height="3.92" fill="#a0dfb9"/>
<line x1="31.47" y1="342.44" x2="31.47" y2="343.34" stroke="#333" stroke-width="0.3"/>
<text transform="translate(31.47 346.75) rotate(0.03)" font-size="3.5" text-anchor="middle" fill="#333">ZT5</text>
<line x1="42.52" y1="342.44" x2="42.52" y2="343.34" stroke="#333" stroke-width="0.3"/>
<text transform="translate(42.52 346.75) rotate(0.03)" font-size="3.5" text-anchor="middle" fill="#333">ZT11</text>
<line x1="53.57" y1="342.44" x2="53.57" y2="343.34" stroke="#333" stroke-width="0.3"/>
<text transform="translate(53.57 346.75) rotate(0.03)" font-size="3.5" text-anchor="middle" fill="#333">ZT17</text>
<line x1="64.62" y1="342.44" x2="64.62" y2="343.34" stroke="#333" stroke-width="0.3"/>
<text transform="translate(64.62 346.75) rotate(0.03)" font-size="3.5" text-anchor="middle" fill="#333">ZT23</text>
<rect x="73.7" y="165" width="44.9" height="8.5" fill="#d9d9d9" stroke="#7a7a7a" stroke-width="0.35"/>
<text transform="translate(96.15 170.5) rotate(0.03)" font-size="3.7" text-anchor="middle" fill="#222">ABX</text>
<rect x="73.7" y="173.5" width="44.9" height="168.94" fill="#fff" stroke="#7a7a7a" stroke-width="0.35"/>
<rect x="74.15" y="173.8" width="11.4" height="4.32" fill="#54c9ad"/>
<rect x="85.15" y="173.8" width="11.4" height="4.32" fill="#366a9f"/>
<rect x="96.15" y="173.8" width="11.4" height="4.32" fill="#348aa6"/>
<rect x="107.15" y="173.8" width="11" height="4.32" fill="#38aaac"/>
<rect x="74.15" y="177.72" width="11.4" height="4.32" fill="#3b2f5e"/>
<rect x="85.15" y="177.72" width="11.4" height="4.32" fill="#3e3c76"/>
<rect x="96.15" y="177.72" width="11.4" height="4.32" fill="#366a9f"/>
<rect x="107.15" y="177.72" width="11" height="4.32" fill="#38aaac"/>
<rect x="74.15" y="181.63" width="11.4" height="4.32" fill="#38aaac"/>
<rect x="85.15" y="181.63" width="11.4" height="4.32" fill="#348aa6"/>
<rect x="96.15" y="181.63" width="11.4" height="4.32" fill="#348aa6"/>
<rect x="107.15" y="181.63" width="11" height="4.32" fill="#38aaac"/>
<rect x="74.15" y="185.55" width="11.4" height="4.32" fill="#348aa6"/>
<rect x="85.15" y="185.55" width="11.4" height="4.32" fill="#46baac"/>
<rect x="96.15" y="185.55" width="11.4" height="4.32" fill="#357aa2"/>
<rect x="107.15" y="185.55" width="11" height="4.32" fill="#38aaac"/>
<rect x="74.15" y="189.46" width="11.4" height="4.32" fill="#38aaac"/>
<rect x="85.15" y="189.46" width="11.4" height="4.32" fill="#38aaac"/>
<rect x="96.15" y="189.46" width="11.4" height="4.32" fill="#a0dfb9"/>
<rect x="107.15" y="189.46" width="11" height="4.32" fill="#38aaac"/>
<rect x="74.15" y="193.38" width="11.4" height="4.32" fill="#348aa6"/>
<rect x="85.15" y="193.38" width="11.4" height="4.32" fill="#38aaac"/>
<rect x="96.15" y="193.38" width="11.4" height="4.32" fill="#322446"/>
<rect x="107.15" y="193.38" width="11" height="4.32" fill="#38aaac"/>
<rect x="74.15" y="197.29" width="11.4" height="4.32" fill="#38aaac"/>
<rect x="85.15" y="197.29" width="11.4" height="4.32" fill="#348aa6"/>
<rect x="96.15" y="197.29" width="11.4" height="4.32" fill="#348aa6"/>
<rect x="107.15" y="197.29" width="11" height="4.32" fill="#369aa9"/>
<rect x="74.15" y="201.21" width="11.4" height="4.32" fill="#369aa9"/>
<rect x="85.15" y="201.21" width="11.4" height="4.32" fill="#38aaac"/>
<rect x="96.15" y="201.21" width="11.4" height="4.32" fill="#40498e"/>
<rect x="107.15" y="201.21" width="11" height="4.32" fill="#38aaac"/>
<rect x="74.15" y="205.12" width="11.4" height="4.32" fill="#348aa6"/>
<rect x="85.15" y="205.12" width="11.4" height="4.32" fill="#357aa2"/>
<rect x="96.15" y="205.12" width="11.4" height="4.32" fill="#348aa6"/>
<rect x="107.15" y="205.12" width="11" height="4.32" fill="#38aaac"/>
<rect x="74.15" y="209.04" width="11.4" height="4.32" fill="#369aa9"/>
<rect x="85.15" y="209.04" width="11.4" height="4.32" fill="#348aa6"/>
<rect x="96.15" y="209.04" width="11.4" height="4.32" fill="#366a9f"/>
<rect x="107.15" y="209.04" width="11" height="4.32" fill="#38aaac"/>
<rect x="74.15" y="212.95" width="11.4" height="4.32" fill="#38aaac"/>
<rect x="85.15" y="212.95" width="11.4" height="4.32" fill="#38aaac"/>
<rect x="96.15" y="212.95" width="11.4" height="4.32" fill="#348aa6"/>
<rect x="107.15" y="212.95" width="11" height="4.32" fill="#46baac"/>
<rect x="74.15" y="216.87" width="11.4" height="4.32" fill="#369aa9"/>
<rect x="85.15" y="216.87" width="11.4" height="4.32" fill="#369aa9"/>
<rect x="96.15" y="216.87" width="11.4" height="4.32" fill="#366a9f"/>
<rect x="107.15" y="216.87" width="11" height="4.32" fill="#38aaac"/>
<rect x="74.15" y="220.78" width="11.4" height="4.32" fill="#369aa9"/>
<rect x="85.15" y="220.78" width="11.4" height="4.32" fill="#38aaac"/>
<rect x="96.15" y="220.78" width="11.4" height="4.32" fill="#366a9f"/>
<rect x="107.15" y="220.78" width="11" height="4.32" fill="#38aaac"/>
<rect x="74.15" y="224.7" width="11.4" height="4.32" fill="#357aa2"/>
<rect x="85.15" y="224.7" width="11.4" height="4.32" fill="#a0dfb9"/>
<rect x="96.15" y="224.7" width="11.4" height="4.32" fill="#3b5a96"/>
<rect x="107.15" y="224.7" width="11" height="4.32" fill="#3b2f5e"/>
<rect x="74.15" y="228.61" width="11.4" height="4.32" fill="#366a9f"/>
<rect x="85.15" y="228.61" width="11.4" height="4.32" fill="#38aaac"/>
<rect x="96.15" y="228.61" width="11.4" height="4.32" fill="#369aa9"/>
<rect x="107.15" y="228.61" width="11" height="4.32" fill="#54c9ad"/>
<rect x="74.15" y="232.53" width="11.4" height="4.32" fill="#40498e"/>
<rect x="85.15" y="232.53" width="11.4" height="4.32" fill="#348aa6"/>
<rect x="96.15" y="232.53" width="11.4" height="4.32" fill="#348aa6"/>
<rect x="107.15" y="232.53" width="11" height="4.32" fill="#3b5a96"/>
<rect x="74.15" y="236.44" width="11.4" height="4.32" fill="#366a9f"/>
<rect x="85.15" y="236.44" width="11.4" height="4.32" fill="#348aa6"/>
<rect x="96.15" y="236.44" width="11.4" height="4.32" fill="#348aa6"/>
<rect x="107.15" y="236.44" width="11" height="4.32" fill="#348aa6"/>
<rect x="74.15" y="240.36" width="11.4" height="4.32" fill="#54c9ad"/>
<rect x="85.15" y="240.36" width="11.4" height="4.32" fill="#348aa6"/>
<rect x="96.15" y="240.36" width="11.4" height="4.32" fill="#348aa6"/>
<rect x="107.15" y="240.36" width="11" height="4.32" fill="#366a9f"/>
<rect x="74.15" y="244.27" width="11.4" height="4.32" fill="#40498e"/>
<rect x="85.15" y="244.27" width="11.4" height="4.32" fill="#3b5a96"/>
<rect x="96.15" y="244.27" width="11.4" height="4.32" fill="#348aa6"/>
<rect x="107.15" y="244.27" width="11" height="4.32" fill="#366a9f"/>
<rect x="74.15" y="248.19" width="11.4" height="4.32" fill="#366a9f"/>
<rect x="85.15" y="248.19" width="11.4" height="4.32" fill="#3e4180"/>
<rect x="96.15" y="248.19" width="11.4" height="4.32" fill="#348aa6"/>
<rect x="107.15" y="248.19" width="11" height="4.32" fill="#40498e"/>
<rect x="74.15" y="252.1" width="11.4" height="4.32" fill="#348aa6"/>
<rect x="85.15" y="252.1" width="11.4" height="4.32" fill="#38aaac"/>
<rect x="96.15" y="252.1" width="11.4" height="4.32" fill="#366a9f"/>
<rect x="107.15" y="252.1" width="11" height="4.32" fill="#357aa2"/>
<rect x="74.15" y="256.01" width="11.4" height="4.32" fill="#348aa6"/>
<rect x="85.15" y="256.01" width="11.4" height="4.32" fill="#357aa2"/>
<rect x="96.15" y="256.01" width="11.4" height="4.32" fill="#3590a7"/>
<rect x="107.15" y="256.01" width="11" height="4.32" fill="#3590a7"/>
<rect x="74.15" y="259.93" width="11.4" height="4.32" fill="#366a9f"/>
<rect x="85.15" y="259.93" width="11.4" height="4.32" fill="#366a9f"/>
<rect x="96.15" y="259.93" width="11.4" height="4.32" fill="#348aa6"/>
<rect x="107.15" y="259.93" width="11" height="4.32" fill="#369aa9"/>
<rect x="74.15" y="263.85" width="11.4" height="4.32" fill="#348aa6"/>
<rect x="85.15" y="263.85" width="11.4" height="4.32" fill="#348aa6"/>
<rect x="96.15" y="263.85" width="11.4" height="4.32" fill="#369aa9"/>
<rect x="107.15" y="263.85" width="11" height="4.32" fill="#357aa2"/>
<rect x="74.15" y="267.76" width="11.4" height="4.32" fill="#40498e"/>
<rect x="85.15" y="267.76" width="11.4" height="4.32" fill="#366a9f"/>
<rect x="96.15" y="267.76" width="11.4" height="4.32" fill="#348aa6"/>
<rect x="107.15" y="267.76" width="11" height="4.32" fill="#369aa9"/>
<rect x="74.15" y="271.68" width="11.4" height="4.32" fill="#366a9f"/>
<rect x="85.15" y="271.68" width="11.4" height="4.32" fill="#348aa6"/>
<rect x="96.15" y="271.68" width="11.4" height="4.32" fill="#369aa9"/>
<rect x="107.15" y="271.68" width="11" height="4.32" fill="#348aa6"/>
<rect x="74.15" y="275.59" width="11.4" height="4.32" fill="#348aa6"/>
<rect x="85.15" y="275.59" width="11.4" height="4.32" fill="#46baac"/>
<rect x="96.15" y="275.59" width="11.4" height="4.32" fill="#369aa9"/>
<rect x="107.15" y="275.59" width="11" height="4.32" fill="#54c9ad"/>
<rect x="74.15" y="279.5" width="11.4" height="4.32" fill="#348aa6"/>
<rect x="85.15" y="279.5" width="11.4" height="4.32" fill="#348aa6"/>
<rect x="96.15" y="279.5" width="11.4" height="4.32" fill="#54c9ad"/>
<rect x="107.15" y="279.5" width="11" height="4.32" fill="#348aa6"/>
<rect x="74.15" y="283.42" width="11.4" height="4.32" fill="#3b5a96"/>
<rect x="85.15" y="283.42" width="11.4" height="4.32" fill="#3b5a96"/>
<rect x="96.15" y="283.42" width="11.4" height="4.32" fill="#38aaac"/>
<rect x="107.15" y="283.42" width="11" height="4.32" fill="#348aa6"/>
<rect x="74.15" y="287.34" width="11.4" height="4.32" fill="#366a9f"/>
<rect x="85.15" y="287.34" width="11.4" height="4.32" fill="#348aa6"/>
<rect x="96.15" y="287.34" width="11.4" height="4.32" fill="#348aa6"/>
<rect x="107.15" y="287.34" width="11" height="4.32" fill="#369aa9"/>
<rect x="74.15" y="291.25" width="11.4" height="4.32" fill="#369aa9"/>
<rect x="85.15" y="291.25" width="11.4" height="4.32" fill="#348aa6"/>
<rect x="96.15" y="291.25" width="11.4" height="4.32" fill="#54c9ad"/>
<rect x="107.15" y="291.25" width="11" height="4.32" fill="#348aa6"/>
<rect x="74.15" y="295.17" width="11.4" height="4.32" fill="#348aa6"/>
<rect x="85.15" y="295.17" width="11.4" height="4.32" fill="#348aa6"/>
<rect x="96.15" y="295.17" width="11.4" height="4.32" fill="#a0dfb9"/>
<rect x="107.15" y="295.17" width="11" height="4.32" fill="#38aaac"/>
<rect x="74.15" y="299.08" width="11.4" height="4.32" fill="#348aa6"/>
<rect x="85.15" y="299.08" width="11.4" height="4.32" fill="#369aa9"/>
<rect x="96.15" y="299.08" width="11.4" height="4.32" fill="#357aa2"/>
<rect x="107.15" y="299.08" width="11" height="4.32" fill="#38aaac"/>
<rect x="74.15" y="303" width="11.4" height="4.32" fill="#348aa6"/>
<rect x="85.15" y="303" width="11.4" height="4.32" fill="#348aa6"/>
<rect x="96.15" y="303" width="11.4" height="4.32" fill="#38aaac"/>
<rect x="107.15" y="303" width="11" height="4.32" fill="#357aa2"/>
<rect x="74.15" y="306.91" width="11.4" height="4.32" fill="#348aa6"/>
<rect x="85.15" y="306.91" width="11.4" height="4.32" fill="#357aa2"/>
<rect x="96.15" y="306.91" width="11.4" height="4.32" fill="#38aaac"/>
<rect x="107.15" y="306.91" width="11" height="4.32" fill="#348aa6"/>
<rect x="74.15" y="310.83" width="11.4" height="4.32" fill="#348aa6"/>
<rect x="85.15" y="310.83" width="11.4" height="4.32" fill="#366a9f"/>
<rect x="96.15" y="310.83" width="11.4" height="4.32" fill="#bfeacf"/>
<rect x="107.15" y="310.83" width="11" height="4.32" fill="#38aaac"/>
<rect x="74.15" y="314.74" width="11.4" height="4.32" fill="#357aa2"/>
<rect x="85.15" y="314.74" width="11.4" height="4.32" fill="#40498e"/>
<rect x="96.15" y="314.74" width="11.4" height="4.32" fill="#357aa2"/>
<rect x="107.15" y="314.74" width="11" height="4.32" fill="#40498e"/>
<rect x="74.15" y="318.65" width="11.4" height="4.32" fill="#348aa6"/>
<rect x="85.15" y="318.65" width="11.4" height="4.32" fill="#366a9f"/>
<rect x="96.15" y="318.65" width="11.4" height="4.32" fill="#7ad4b3"/>
<rect x="107.15" y="318.65" width="11" height="4.32" fill="#38aaac"/>
<rect x="74.15" y="322.57" width="11.4" height="4.32" fill="#348aa6"/>
<rect x="85.15" y="322.57" width="11.4" height="4.32" fill="#348aa6"/>
<rect x="96.15" y="322.57" width="11.4" height="4.32" fill="#348aa6"/>
<rect x="107.15" y="322.57" width="11" height="4.32" fill="#348aa6"/>
<rect x="74.15" y="326.49" width="11.4" height="4.32" fill="#366a9f"/>
<rect x="85.15" y="326.49" width="11.4" height="4.32" fill="#40498e"/>
<rect x="96.15" y="326.49" width="11.4" height="4.32" fill="#54c9ad"/>
<rect x="107.15" y="326.49" width="11" height="4.32" fill="#348aa6"/>
<rect x="74.15" y="330.4" width="11.4" height="4.32" fill="#348aa6"/>
<rect x="85.15" y="330.4" width="11.4" height="4.32" fill="#28192f"/>
<rect x="96.15" y="330.4" width="11.4" height="4.32" fill="#348aa6"/>
<rect x="107.15" y="330.4" width="11" height="4.32" fill="#40498e"/>
<rect x="74.15" y="334.32" width="11.4" height="4.32" fill="#38aaac"/>
<rect x="85.15" y="334.32" width="11.4" height="4.32" fill="#40498e"/>
<rect x="96.15" y="334.32" width="11.4" height="4.32" fill="#348aa6"/>
<rect x="107.15" y="334.32" width="11" height="4.32" fill="#357aa2"/>
<rect x="74.15" y="338.23" width="11.4" height="3.92" fill="#38aaac"/>
<rect x="85.15" y="338.23" width="11.4" height="3.92" fill="#322446"/>
<rect x="96.15" y="338.23" width="11.4" height="3.92" fill="#322446"/>
<rect x="107.15" y="338.23" width="11" height="3.92" fill="#54c9ad"/>
<line x1="79.65" y1="342.44" x2="79.65" y2="343.34" stroke="#333" stroke-width="0.3"/>
<text transform="translate(79.65 346.75) rotate(0.03)" font-size="3.5" text-anchor="middle" fill="#333">ZT5</text>
<line x1="90.65" y1="342.44" x2="90.65" y2="343.34" stroke="#333" stroke-width="0.3"/>
<text transform="translate(90.65 346.75) rotate(0.03)" font-size="3.5" text-anchor="middle" fill="#333">ZT11</text>
<line x1="101.65" y1="342.44" x2="101.65" y2="343.34" stroke="#333" stroke-width="0.3"/>
<text transform="translate(101.65 346.75) rotate(0.03)" font-size="3.5" text-anchor="middle" fill="#333">ZT17</text>
<line x1="112.65" y1="342.44" x2="112.65" y2="343.34" stroke="#333" stroke-width="0.3"/>
<text transform="translate(112.65 346.75) rotate(0.03)" font-size="3.5" text-anchor="middle" fill="#333">ZT23</text>
<rect x="121.9" y="165" width="44.9" height="8.5" fill="#d9d9d9" stroke="#7a7a7a" stroke-width="0.35"/>
<text transform="translate(144.35 170.5) rotate(0.03)" font-size="3.7" text-anchor="middle" fill="#222">GF</text>
<rect x="121.9" y="173.5" width="44.9" height="168.94" fill="#fff" stroke="#7a7a7a" stroke-width="0.35"/>
<rect x="122.35" y="173.8" width="11.4" height="4.32" fill="#a0dfb9"/>
<rect x="133.35" y="173.8" width="11.4" height="4.32" fill="#3b5a96"/>
<rect x="144.35" y="173.8" width="11.4" height="4.32" fill="#357aa2"/>
<rect x="155.35" y="173.8" width="11" height="4.32" fill="#366a9f"/>
<rect x="122.35" y="177.72" width="11.4" height="4.32" fill="#3b5a96"/>
<rect x="133.35" y="177.72" width="11.4" height="4.32" fill="#40498e"/>
<rect x="144.35" y="177.72" width="11.4" height="4.32" fill="#38aaac"/>
<rect x="155.35" y="177.72" width="11" height="4.32" fill="#38aaac"/>
<rect x="122.35" y="181.63" width="11.4" height="4.32" fill="#38aaac"/>
<rect x="133.35" y="181.63" width="11.4" height="4.32" fill="#38aaac"/>
<rect x="144.35" y="181.63" width="11.4" height="4.32" fill="#54c9ad"/>
<rect x="155.35" y="181.63" width="11" height="4.32" fill="#0b0405"/>
<rect x="122.35" y="185.55" width="11.4" height="4.32" fill="#38aaac"/>
<rect x="133.35" y="185.55" width="11.4" height="4.32" fill="#348aa6"/>
<rect x="144.35" y="185.55" width="11.4" height="4.32" fill="#54c9ad"/>
<rect x="155.35" y="185.55" width="11" height="4.32" fill="#28192f"/>
<rect x="122.35" y="189.46" width="11.4" height="4.32" fill="#3b2f5e"/>
<rect x="133.35" y="189.46" width="11.4" height="4.32" fill="#369aa9"/>
<rect x="144.35" y="189.46" width="11.4" height="4.32" fill="#38aaac"/>
<rect x="155.35" y="189.46" width="11" height="4.32" fill="#3b2f5e"/>
<rect x="122.35" y="193.38" width="11.4" height="4.32" fill="#348aa6"/>
<rect x="133.35" y="193.38" width="11.4" height="4.32" fill="#366a9f"/>
<rect x="144.35" y="193.38" width="11.4" height="4.32" fill="#38aaac"/>
<rect x="155.35" y="193.38" width="11" height="4.32" fill="#357aa2"/>
<rect x="122.35" y="197.29" width="11.4" height="4.32" fill="#46baac"/>
<rect x="133.35" y="197.29" width="11.4" height="4.32" fill="#348aa6"/>
<rect x="144.35" y="197.29" width="11.4" height="4.32" fill="#7ad4b3"/>
<rect x="155.35" y="197.29" width="11" height="4.32" fill="#28192f"/>
<rect x="122.35" y="201.21" width="11.4" height="4.32" fill="#38aaac"/>
<rect x="133.35" y="201.21" width="11.4" height="4.32" fill="#366a9f"/>
<rect x="144.35" y="201.21" width="11.4" height="4.32" fill="#38aaac"/>
<rect x="155.35" y="201.21" width="11" height="4.32" fill="#366a9f"/>
<rect x="122.35" y="205.12" width="11.4" height="4.32" fill="#a0dfb9"/>
<rect x="133.35" y="205.12" width="11.4" height="4.32" fill="#348aa6"/>
<rect x="144.35" y="205.12" width="11.4" height="4.32" fill="#a0dfb9"/>
<rect x="155.35" y="205.12" width="11" height="4.32" fill="#3b2f5e"/>
<rect x="122.35" y="209.04" width="11.4" height="4.32" fill="#a0dfb9"/>
<rect x="133.35" y="209.04" width="11.4" height="4.32" fill="#348aa6"/>
<rect x="144.35" y="209.04" width="11.4" height="4.32" fill="#46baac"/>
<rect x="155.35" y="209.04" width="11" height="4.32" fill="#3b2f5e"/>
<rect x="122.35" y="212.95" width="11.4" height="4.32" fill="#3b2f5e"/>
<rect x="133.35" y="212.95" width="11.4" height="4.32" fill="#348aa6"/>
<rect x="144.35" y="212.95" width="11.4" height="4.32" fill="#7ad4b3"/>
<rect x="155.35" y="212.95" width="11" height="4.32" fill="#28192f"/>
<rect x="122.35" y="216.87" width="11.4" height="4.32" fill="#54c9ad"/>
<rect x="133.35" y="216.87" width="11.4" height="4.32" fill="#348aa6"/>
<rect x="144.35" y="216.87" width="11.4" height="4.32" fill="#46baac"/>
<rect x="155.35" y="216.87" width="11" height="4.32" fill="#28192f"/>
<rect x="122.35" y="220.78" width="11.4" height="4.32" fill="#46baac"/>
<rect x="133.35" y="220.78" width="11.4" height="4.32" fill="#369aa9"/>
<rect x="144.35" y="220.78" width="11.4" height="4.32" fill="#38aaac"/>
<rect x="155.35" y="220.78" width="11" height="4.32" fill="#28192f"/>
<rect x="122.35" y="224.7" width="11.4" height="4.32" fill="#366a9f"/>
<rect x="133.35" y="224.7" width="11.4" height="4.32" fill="#54c9ad"/>
<rect x="144.35" y="224.7" width="11.4" height="4.32" fill="#3b5a96"/>
<rect x="155.35" y="224.7" width="11" height="4.32" fill="#366a9f"/>
<rect x="122.35" y="228.61" width="11.4" height="4.32" fill="#3b2f5e"/>
<rect x="133.35" y="228.61" width="11.4" height="4.32" fill="#348aa6"/>
<rect x="144.35" y="228.61" width="11.4" height="4.32" fill="#3e3c76"/>
<rect x="155.35" y="228.61" width="11" height="4.32" fill="#38aaac"/>
<rect x="122.35" y="232.53" width="11.4" height="4.32" fill="#38aaac"/>
<rect x="133.35" y="232.53" width="11.4" height="4.32" fill="#348aa6"/>
<rect x="144.35" y="232.53" width="11.4" height="4.32" fill="#40498e"/>
<rect x="155.35" y="232.53" width="11" height="4.32" fill="#a0dfb9"/>
<rect x="122.35" y="236.44" width="11.4" height="4.32" fill="#46baac"/>
<rect x="133.35" y="236.44" width="11.4" height="4.32" fill="#366a9f"/>
<rect x="144.35" y="236.44" width="11.4" height="4.32" fill="#40498e"/>
<rect x="155.35" y="236.44" width="11" height="4.32" fill="#bfeacf"/>
<rect x="122.35" y="240.36" width="11.4" height="4.32" fill="#357aa2"/>
<rect x="133.35" y="240.36" width="11.4" height="4.32" fill="#DEF5E5"/>
<rect x="144.35" y="240.36" width="11.4" height="4.32" fill="#38aaac"/>
<rect x="155.35" y="240.36" width="11" height="4.32" fill="#3e3c76"/>
<rect x="122.35" y="244.27" width="11.4" height="4.32" fill="#38aaac"/>
<rect x="133.35" y="244.27" width="11.4" height="4.32" fill="#38aaac"/>
<rect x="144.35" y="244.27" width="11.4" height="4.32" fill="#40498e"/>
<rect x="155.35" y="244.27" width="11" height="4.32" fill="#a0dfb9"/>
<rect x="122.35" y="248.19" width="11.4" height="4.32" fill="#348aa6"/>
<rect x="133.35" y="248.19" width="11.4" height="4.32" fill="#38aaac"/>
<rect x="144.35" y="248.19" width="11.4" height="4.32" fill="#38aaac"/>
<rect x="155.35" y="248.19" width="11" height="4.32" fill="#54c9ad"/>
<rect x="122.35" y="252.1" width="11.4" height="4.32" fill="#348aa6"/>
<rect x="133.35" y="252.1" width="11.4" height="4.32" fill="#38aaac"/>
<rect x="144.35" y="252.1" width="11.4" height="4.32" fill="#28192f"/>
<rect x="155.35" y="252.1" width="11" height="4.32" fill="#54c9ad"/>
<rect x="122.35" y="256.01" width="11.4" height="4.32" fill="#3e3c76"/>
<rect x="133.35" y="256.01" width="11.4" height="4.32" fill="#348aa6"/>
<rect x="144.35" y="256.01" width="11.4" height="4.32" fill="#28192f"/>
<rect x="155.35" y="256.01" width="11" height="4.32" fill="#7ad4b3"/>
<rect x="122.35" y="259.93" width="11.4" height="4.32" fill="#3e3c76"/>
<rect x="133.35" y="259.93" width="11.4" height="4.32" fill="#348aa6"/>
<rect x="144.35" y="259.93" width="11.4" height="4.32" fill="#3b2f5e"/>
<rect x="155.35" y="259.93" width="11" height="4.32" fill="#a0dfb9"/>
<rect x="122.35" y="263.85" width="11.4" height="4.32" fill="#40498e"/>
<rect x="133.35" y="263.85" width="11.4" height="4.32" fill="#357aa2"/>
<rect x="144.35" y="263.85" width="11.4" height="4.32" fill="#322446"/>
<rect x="155.35" y="263.85" width="11" height="4.32" fill="#a0dfb9"/>
<rect x="122.35" y="267.76" width="11.4" height="4.32" fill="#40498e"/>
<rect x="133.35" y="267.76" width="11.4" height="4.32" fill="#348aa6"/>
<rect x="144.35" y="267.76" width="11.4" height="4.32" fill="#3e3c76"/>
<rect x="155.35" y="267.76" width="11" height="4.32" fill="#a0dfb9"/>
<rect x="122.35" y="271.68" width="11.4" height="4.32" fill="#3e4180"/>
<rect x="133.35" y="271.68" width="11.4" height="4.32" fill="#348aa6"/>
<rect x="144.35" y="271.68" width="11.4" height="4.32" fill="#28192f"/>
<rect x="155.35" y="271.68" width="11" height="4.32" fill="#7ad4b3"/>
<rect x="122.35" y="275.59" width="11.4" height="4.32" fill="#3e3c76"/>
<rect x="133.35" y="275.59" width="11.4" height="4.32" fill="#357aa2"/>
<rect x="144.35" y="275.59" width="11.4" height="4.32" fill="#0b0405"/>
<rect x="155.35" y="275.59" width="11" height="4.32" fill="#54c9ad"/>
<rect x="122.35" y="279.5" width="11.4" height="4.32" fill="#3b2f5e"/>
<rect x="133.35" y="279.5" width="11.4" height="4.32" fill="#366a9f"/>
<rect x="144.35" y="279.5" width="11.4" height="4.32" fill="#28192f"/>
<rect x="155.35" y="279.5" width="11" height="4.32" fill="#54c9ad"/>
<rect x="122.35" y="283.42" width="11.4" height="4.32" fill="#348aa6"/>
<rect x="133.35" y="283.42" width="11.4" height="4.32" fill="#366a9f"/>
<rect x="144.35" y="283.42" width="11.4" height="4.32" fill="#40498e"/>
<rect x="155.35" y="283.42" width="11" height="4.32" fill="#a0dfb9"/>
<rect x="122.35" y="287.34" width="11.4" height="4.32" fill="#3e4180"/>
<rect x="133.35" y="287.34" width="11.4" height="4.32" fill="#348aa6"/>
<rect x="144.35" y="287.34" width="11.4" height="4.32" fill="#28192f"/>
<rect x="155.35" y="287.34" width="11" height="4.32" fill="#54c9ad"/>
<rect x="122.35" y="291.25" width="11.4" height="4.32" fill="#40498e"/>
<rect x="133.35" y="291.25" width="11.4" height="4.32" fill="#366a9f"/>
<rect x="144.35" y="291.25" width="11.4" height="4.32" fill="#28192f"/>
<rect x="155.35" y="291.25" width="11" height="4.32" fill="#54c9ad"/>
<rect x="122.35" y="295.17" width="11.4" height="4.32" fill="#3b5a96"/>
<rect x="133.35" y="295.17" width="11.4" height="4.32" fill="#366a9f"/>
<rect x="144.35" y="295.17" width="11.4" height="4.32" fill="#3e3c76"/>
<rect x="155.35" y="295.17" width="11" height="4.32" fill="#46baac"/>
<rect x="122.35" y="299.08" width="11.4" height="4.32" fill="#3b2f5e"/>
<rect x="133.35" y="299.08" width="11.4" height="4.32" fill="#348aa6"/>
<rect x="144.35" y="299.08" width="11.4" height="4.32" fill="#28192f"/>
<rect x="155.35" y="299.08" width="11" height="4.32" fill="#54c9ad"/>
<rect x="122.35" y="303" width="11.4" height="4.32" fill="#366a9f"/>
<rect x="133.35" y="303" width="11.4" height="4.32" fill="#366a9f"/>
<rect x="144.35" y="303" width="11.4" height="4.32" fill="#3b2f5e"/>
<rect x="155.35" y="303" width="11" height="4.32" fill="#a0dfb9"/>
<rect x="122.35" y="306.91" width="11.4" height="4.32" fill="#3b2f5e"/>
<rect x="133.35" y="306.91" width="11.4" height="4.32" fill="#366a9f"/>
<rect x="144.35" y="306.91" width="11.4" height="4.32" fill="#322446"/>
<rect x="155.35" y="306.91" width="11" height="4.32" fill="#7ad4b3"/>
<rect x="122.35" y="310.83" width="11.4" height="4.32" fill="#357aa2"/>
<rect x="133.35" y="310.83" width="11.4" height="4.32" fill="#348aa6"/>
<rect x="144.35" y="310.83" width="11.4" height="4.32" fill="#369aa9"/>
<rect x="155.35" y="310.83" width="11" height="4.32" fill="#46baac"/>
<rect x="122.35" y="314.74" width="11.4" height="4.32" fill="#38aaac"/>
<rect x="133.35" y="314.74" width="11.4" height="4.32" fill="#54c9ad"/>
<rect x="144.35" y="314.74" width="11.4" height="4.32" fill="#a0dfb9"/>
<rect x="155.35" y="314.74" width="11" height="4.32" fill="#a0dfb9"/>
<rect x="122.35" y="318.65" width="11.4" height="4.32" fill="#322446"/>
<rect x="133.35" y="318.65" width="11.4" height="4.32" fill="#366a9f"/>
<rect x="144.35" y="318.65" width="11.4" height="4.32" fill="#7ad4b3"/>
<rect x="155.35" y="318.65" width="11" height="4.32" fill="#38aaac"/>
<rect x="122.35" y="322.57" width="11.4" height="4.32" fill="#54c9ad"/>
<rect x="133.35" y="322.57" width="11.4" height="4.32" fill="#46baac"/>
<rect x="144.35" y="322.57" width="11.4" height="4.32" fill="#40498e"/>
<rect x="155.35" y="322.57" width="11" height="4.32" fill="#a0dfb9"/>
<rect x="122.35" y="326.49" width="11.4" height="4.32" fill="#357aa2"/>
<rect x="133.35" y="326.49" width="11.4" height="4.32" fill="#366a9f"/>
<rect x="144.35" y="326.49" width="11.4" height="4.32" fill="#369aa9"/>
<rect x="155.35" y="326.49" width="11" height="4.32" fill="#a0dfb9"/>
<rect x="122.35" y="330.4" width="11.4" height="4.32" fill="#46baac"/>
<rect x="133.35" y="330.4" width="11.4" height="4.32" fill="#54c9ad"/>
<rect x="144.35" y="330.4" width="11.4" height="4.32" fill="#357aa2"/>
<rect x="155.35" y="330.4" width="11" height="4.32" fill="#38aaac"/>
<rect x="122.35" y="334.32" width="11.4" height="4.32" fill="#46baac"/>
<rect x="133.35" y="334.32" width="11.4" height="4.32" fill="#54c9ad"/>
<rect x="144.35" y="334.32" width="11.4" height="4.32" fill="#369aa9"/>
<rect x="155.35" y="334.32" width="11" height="4.32" fill="#38aaac"/>
<rect x="122.35" y="338.23" width="11.4" height="3.92" fill="#38aaac"/>
<rect x="133.35" y="338.23" width="11.4" height="3.92" fill="#357aa2"/>
<rect x="144.35" y="338.23" width="11.4" height="3.92" fill="#357aa2"/>
<rect x="155.35" y="338.23" width="11" height="3.92" fill="#38aaac"/>
<line x1="127.85" y1="342.44" x2="127.85" y2="343.34" stroke="#333" stroke-width="0.3"/>
<text transform="translate(127.85 346.75) rotate(0.03)" font-size="3.5" text-anchor="middle" fill="#333">ZT5</text>
<line x1="138.85" y1="342.44" x2="138.85" y2="343.34" stroke="#333" stroke-width="0.3"/>
<text transform="translate(138.85 346.75) rotate(0.03)" font-size="3.5" text-anchor="middle" fill="#333">ZT11</text>
<line x1="149.85" y1="342.44" x2="149.85" y2="343.34" stroke="#333" stroke-width="0.3"/>
<text transform="translate(149.85 346.75) rotate(0.03)" font-size="3.5" text-anchor="middle" fill="#333">ZT17</text>
<line x1="160.85" y1="342.44" x2="160.85" y2="343.34" stroke="#333" stroke-width="0.3"/>
<text transform="translate(160.85 346.75) rotate(0.03)" font-size="3.5" text-anchor="middle" fill="#333">ZT23</text>
<line x1="166.8" y1="175.76" x2="168" y2="175.76" stroke="#333" stroke-width="0.3"/>
<text transform="translate(168.8 177.16) rotate(0.03)" font-size="3.9" fill="#222">Guanidoacetic acid</text>
<line x1="166.8" y1="179.67" x2="168" y2="179.67" stroke="#333" stroke-width="0.3"/>
<text transform="translate(168.8 181.08) rotate(0.03)" font-size="3.9" fill="#222">N-Acetyl-glutamic acid</text>
<line x1="166.8" y1="183.59" x2="168" y2="183.59" stroke="#333" stroke-width="0.3"/>
<text transform="translate(168.8 184.99) rotate(0.03)" font-size="3.9" fill="#222">Glutathione oxidized</text>
<line x1="166.8" y1="187.5" x2="168" y2="187.5" stroke="#333" stroke-width="0.3"/>
<text transform="translate(168.8 188.91) rotate(0.03)" font-size="3.9" fill="#222">Glutathione</text>
<line x1="166.8" y1="191.42" x2="168" y2="191.42" stroke="#333" stroke-width="0.3"/>
<text transform="translate(168.8 192.82) rotate(0.03)" font-size="3.9" fill="#222">Adenine</text>
<line x1="166.8" y1="195.33" x2="168" y2="195.33" stroke="#333" stroke-width="0.3"/>
<text transform="translate(168.8 196.74) rotate(0.03)" font-size="3.9" fill="#222">cis-Aconitic acid</text>
<line x1="166.8" y1="199.25" x2="168" y2="199.25" stroke="#333" stroke-width="0.3"/>
<text transform="translate(168.8 200.65) rotate(0.03)" font-size="3.9" fill="#222">CDP-ethanolamine</text>
<line x1="166.8" y1="203.16" x2="168" y2="203.16" stroke="#333" stroke-width="0.3"/>
<text transform="translate(168.8 204.57) rotate(0.03)" font-size="3.9" fill="#222">Isocitric acid</text>
<line x1="166.8" y1="207.08" x2="168" y2="207.08" stroke="#333" stroke-width="0.3"/>
<text transform="translate(168.8 208.48) rotate(0.03)" font-size="3.9" fill="#222">Hydroxyphenyllactic acid</text>
<line x1="166.8" y1="210.99" x2="168" y2="210.99" stroke="#333" stroke-width="0.3"/>
<text transform="translate(168.8 212.4) rotate(0.03)" font-size="3.9" fill="#222">Ribulose-5-phosphate</text>
<line x1="166.8" y1="214.91" x2="168" y2="214.91" stroke="#333" stroke-width="0.3"/>
<text transform="translate(168.8 216.31) rotate(0.03)" font-size="3.9" fill="#222">Propionylcarnitine</text>
<line x1="166.8" y1="218.82" x2="168" y2="218.82" stroke="#333" stroke-width="0.3"/>
<text transform="translate(168.8 220.23) rotate(0.03)" font-size="3.9" fill="#222">O-Phosphorylethanolamine</text>
<line x1="166.8" y1="222.74" x2="168" y2="222.74" stroke="#333" stroke-width="0.3"/>
<text transform="translate(168.8 224.14) rotate(0.03)" font-size="3.9" fill="#222">Phosphocholine</text>
<line x1="166.8" y1="226.65" x2="168" y2="226.65" stroke="#333" stroke-width="0.3"/>
<text transform="translate(168.8 228.06) rotate(0.03)" font-size="3.9" fill="#222">3-Methylhistidine</text>
<line x1="166.8" y1="230.57" x2="168" y2="230.57" stroke="#333" stroke-width="0.3"/>
<text transform="translate(168.8 231.97) rotate(0.03)" font-size="3.9" fill="#222">Uridine</text>
<line x1="166.8" y1="234.48" x2="168" y2="234.48" stroke="#333" stroke-width="0.3"/>
<text transform="translate(168.8 235.89) rotate(0.03)" font-size="3.9" fill="#222">Glycine</text>
<line x1="166.8" y1="238.4" x2="168" y2="238.4" stroke="#333" stroke-width="0.3"/>
<text transform="translate(168.8 239.8) rotate(0.03)" font-size="3.9" fill="#222">Cystine</text>
<line x1="166.8" y1="242.31" x2="168" y2="242.31" stroke="#333" stroke-width="0.3"/>
<text transform="translate(168.8 243.72) rotate(0.03)" font-size="3.9" fill="#222">Citrulline</text>
<line x1="166.8" y1="246.23" x2="168" y2="246.23" stroke="#333" stroke-width="0.3"/>
<text transform="translate(168.8 247.63) rotate(0.03)" font-size="3.9" fill="#222">Serine</text>
<line x1="166.8" y1="250.14" x2="168" y2="250.14" stroke="#333" stroke-width="0.3"/>
<text transform="translate(168.8 251.55) rotate(0.03)" font-size="3.9" fill="#222">Nicotinic acid</text>
<line x1="166.8" y1="254.06" x2="168" y2="254.06" stroke="#333" stroke-width="0.3"/>
<text transform="translate(168.8 255.46) rotate(0.03)" font-size="3.9" fill="#222">Lysine</text>
<line x1="166.8" y1="257.97" x2="168" y2="257.97" stroke="#333" stroke-width="0.3"/>
<text transform="translate(168.8 259.38) rotate(0.03)" font-size="3.9" fill="#222">Phenylalanine</text>
<line x1="166.8" y1="261.89" x2="168" y2="261.89" stroke="#333" stroke-width="0.3"/>
<text transform="translate(168.8 263.29) rotate(0.03)" font-size="3.9" fill="#222">Valine/5-Amino valeric acid</text>
<line x1="166.8" y1="265.8" x2="168" y2="265.8" stroke="#333" stroke-width="0.3"/>
<text transform="translate(168.8 267.21) rotate(0.03)" font-size="3.9" fill="#222">2'-Deoxycytidine</text>
<line x1="166.8" y1="269.72" x2="168" y2="269.72" stroke="#333" stroke-width="0.3"/>
<text transform="translate(168.8 271.12) rotate(0.03)" font-size="3.9" fill="#222">Threonine</text>
<line x1="166.8" y1="273.63" x2="168" y2="273.63" stroke="#333" stroke-width="0.3"/>
<text transform="translate(168.8 275.04) rotate(0.03)" font-size="3.9" fill="#222">Leucine</text>
<line x1="166.8" y1="277.55" x2="168" y2="277.55" stroke="#333" stroke-width="0.3"/>
<text transform="translate(168.8 278.95) rotate(0.03)" font-size="3.9" fill="#222">Tryptophan</text>
<line x1="166.8" y1="281.46" x2="168" y2="281.46" stroke="#333" stroke-width="0.3"/>
<text transform="translate(168.8 282.87) rotate(0.03)" font-size="3.9" fill="#222">Choline</text>
<line x1="166.8" y1="285.38" x2="168" y2="285.38" stroke="#333" stroke-width="0.3"/>
<text transform="translate(168.8 286.78) rotate(0.03)" font-size="3.9" fill="#222">Asparagine</text>
<line x1="166.8" y1="289.29" x2="168" y2="289.29" stroke="#333" stroke-width="0.3"/>
<text transform="translate(168.8 290.7) rotate(0.03)" font-size="3.9" fill="#222">Isoleucine</text>
<line x1="166.8" y1="293.21" x2="168" y2="293.21" stroke="#333" stroke-width="0.3"/>
<text transform="translate(168.8 294.61) rotate(0.03)" font-size="3.9" fill="#222">Phosphoenolpyruvic acid</text>
<line x1="166.8" y1="297.12" x2="168" y2="297.12" stroke="#333" stroke-width="0.3"/>
<text transform="translate(168.8 298.53) rotate(0.03)" font-size="3.9" fill="#222">4-Hydroxybenzaldehyde</text>
<line x1="166.8" y1="301.04" x2="168" y2="301.04" stroke="#333" stroke-width="0.3"/>
<text transform="translate(168.8 302.44) rotate(0.03)" font-size="3.9" fill="#222">Tyrosine</text>
<line x1="166.8" y1="304.95" x2="168" y2="304.95" stroke="#333" stroke-width="0.3"/>
<text transform="translate(168.8 306.36) rotate(0.03)" font-size="3.9" fill="#222">Cytidine</text>
<line x1="166.8" y1="308.87" x2="168" y2="308.87" stroke="#333" stroke-width="0.3"/>
<text transform="translate(168.8 310.27) rotate(0.03)" font-size="3.9" fill="#222">Thiamine</text>
<line x1="166.8" y1="312.78" x2="168" y2="312.78" stroke="#333" stroke-width="0.3"/>
<text transform="translate(168.8 314.19) rotate(0.03)" font-size="3.9" fill="#222">N-Acetyl-glycine</text>
<line x1="166.8" y1="316.7" x2="168" y2="316.7" stroke="#333" stroke-width="0.3"/>
<text transform="translate(168.8 318.1) rotate(0.03)" font-size="3.9" fill="#222">Maltotriose</text>
<line x1="166.8" y1="320.61" x2="168" y2="320.61" stroke="#333" stroke-width="0.3"/>
<text transform="translate(168.8 322.02) rotate(0.03)" font-size="3.9" fill="#222">6-Methyllysine</text>
<line x1="166.8" y1="324.53" x2="168" y2="324.53" stroke="#333" stroke-width="0.3"/>
<text transform="translate(168.8 325.93) rotate(0.03)" font-size="3.9" fill="#222">Kynurenine</text>
<line x1="166.8" y1="328.44" x2="168" y2="328.44" stroke="#333" stroke-width="0.3"/>
<text transform="translate(168.8 329.85) rotate(0.03)" font-size="3.9" fill="#222">4-Guanidinobutyric acid</text>
<line x1="166.8" y1="332.36" x2="168" y2="332.36" stroke="#333" stroke-width="0.3"/>
<text transform="translate(168.8 333.76) rotate(0.03)" font-size="3.9" fill="#222">8-Aminooctanoic acid/Propranolol</text>
<line x1="166.8" y1="336.27" x2="168" y2="336.27" stroke="#333" stroke-width="0.3"/>
<text transform="translate(168.8 337.68) rotate(0.03)" font-size="3.9" fill="#222">Methionine sulfoxide</text>
<line x1="166.8" y1="340.19" x2="168" y2="340.19" stroke="#333" stroke-width="0.3"/>
<text transform="translate(168.8 341.59) rotate(0.03)" font-size="3.9" fill="#222">N-Acetylarginine</text>
<rect x="237.3" y="171.5" width="7.8" height="169.31" fill="#d9d9d9" stroke="#7a7a7a" stroke-width="0.35"/>
<text transform="translate(242.5 256.15) rotate(-89.97)" font-size="3.9" text-anchor="middle" fill="#222">Hippocampus</text>
<rect x="245.6" y="163.2" width="45.8" height="8.3" fill="#d9d9d9" stroke="#7a7a7a" stroke-width="0.35"/>
<text transform="translate(268.5 168.6) rotate(0.03)" font-size="3.7" text-anchor="middle" fill="#222">CV</text>
<rect x="245.6" y="171.5" width="45.8" height="169.31" fill="#fff" stroke="#7a7a7a" stroke-width="0.35"/>
<rect x="246.5" y="171.8" width="11.4" height="3.84" fill="#348aa6"/>
<rect x="257.5" y="171.8" width="11.4" height="3.84" fill="#3b2f5e"/>
<rect x="268.5" y="171.8" width="11.4" height="3.84" fill="#348aa6"/>
<rect x="279.5" y="171.8" width="11" height="3.84" fill="#46baac"/>
<rect x="246.5" y="175.24" width="11.4" height="3.84" fill="#38aaac"/>
<rect x="257.5" y="175.24" width="11.4" height="3.84" fill="#40498e"/>
<rect x="268.5" y="175.24" width="11.4" height="3.84" fill="#38aaac"/>
<rect x="279.5" y="175.24" width="11" height="3.84" fill="#348aa6"/>
<rect x="246.5" y="178.69" width="11.4" height="3.84" fill="#348aa6"/>
<rect x="257.5" y="178.69" width="11.4" height="3.84" fill="#3b5a96"/>
<rect x="268.5" y="178.69" width="11.4" height="3.84" fill="#369aa9"/>
<rect x="279.5" y="178.69" width="11" height="3.84" fill="#a0dfb9"/>
<rect x="246.5" y="182.13" width="11.4" height="3.84" fill="#38aaac"/>
<rect x="257.5" y="182.13" width="11.4" height="3.84" fill="#0b0405"/>
<rect x="268.5" y="182.13" width="11.4" height="3.84" fill="#54c9ad"/>
<rect x="279.5" y="182.13" width="11" height="3.84" fill="#54c9ad"/>
<rect x="246.5" y="185.57" width="11.4" height="3.84" fill="#348aa6"/>
<rect x="257.5" y="185.57" width="11.4" height="3.84" fill="#28192f"/>
<rect x="268.5" y="185.57" width="11.4" height="3.84" fill="#38aaac"/>
<rect x="279.5" y="185.57" width="11" height="3.84" fill="#7ad4b3"/>
<rect x="246.5" y="189.02" width="11.4" height="3.84" fill="#366a9f"/>
<rect x="257.5" y="189.02" width="11.4" height="3.84" fill="#3b2f5e"/>
<rect x="268.5" y="189.02" width="11.4" height="3.84" fill="#348aa6"/>
<rect x="279.5" y="189.02" width="11" height="3.84" fill="#46baac"/>
<rect x="246.5" y="192.46" width="11.4" height="3.84" fill="#348aa6"/>
<rect x="257.5" y="192.46" width="11.4" height="3.84" fill="#322446"/>
<rect x="268.5" y="192.46" width="11.4" height="3.84" fill="#38aaac"/>
<rect x="279.5" y="192.46" width="11" height="3.84" fill="#54c9ad"/>
<rect x="246.5" y="195.9" width="11.4" height="3.84" fill="#348aa6"/>
<rect x="257.5" y="195.9" width="11.4" height="3.84" fill="#28192f"/>
<rect x="268.5" y="195.9" width="11.4" height="3.84" fill="#38aaac"/>
<rect x="279.5" y="195.9" width="11" height="3.84" fill="#54c9ad"/>
<rect x="246.5" y="199.34" width="11.4" height="3.84" fill="#348aa6"/>
<rect x="257.5" y="199.34" width="11.4" height="3.84" fill="#3b2f5e"/>
<rect x="268.5" y="199.34" width="11.4" height="3.84" fill="#38aaac"/>
<rect x="279.5" y="199.34" width="11" height="3.84" fill="#46baac"/>
<rect x="246.5" y="202.79" width="11.4" height="3.84" fill="#348aa6"/>
<rect x="257.5" y="202.79" width="11.4" height="3.84" fill="#3e3c76"/>
<rect x="268.5" y="202.79" width="11.4" height="3.84" fill="#38aaac"/>
<rect x="279.5" y="202.79" width="11" height="3.84" fill="#bfeacf"/>
<rect x="246.5" y="206.23" width="11.4" height="3.84" fill="#369aa9"/>
<rect x="257.5" y="206.23" width="11.4" height="3.84" fill="#3b2f5e"/>
<rect x="268.5" y="206.23" width="11.4" height="3.84" fill="#38aaac"/>
<rect x="279.5" y="206.23" width="11" height="3.84" fill="#38aaac"/>
<rect x="246.5" y="209.67" width="11.4" height="3.84" fill="#357aa2"/>
<rect x="257.5" y="209.67" width="11.4" height="3.84" fill="#3b2f5e"/>
<rect x="268.5" y="209.67" width="11.4" height="3.84" fill="#38aaac"/>
<rect x="279.5" y="209.67" width="11" height="3.84" fill="#7ad4b3"/>
<rect x="246.5" y="213.12" width="11.4" height="3.84" fill="#348aa6"/>
<rect x="257.5" y="213.12" width="11.4" height="3.84" fill="#3b2f5e"/>
<rect x="268.5" y="213.12" width="11.4" height="3.84" fill="#38aaac"/>
<rect x="279.5" y="213.12" width="11" height="3.84" fill="#7ad4b3"/>
<rect x="246.5" y="216.56" width="11.4" height="3.84" fill="#366a9f"/>
<rect x="257.5" y="216.56" width="11.4" height="3.84" fill="#28192f"/>
<rect x="268.5" y="216.56" width="11.4" height="3.84" fill="#46baac"/>
<rect x="279.5" y="216.56" width="11" height="3.84" fill="#54c9ad"/>
<rect x="246.5" y="220" width="11.4" height="3.84" fill="#348aa6"/>
<rect x="257.5" y="220" width="11.4" height="3.84" fill="#3b2f5e"/>
<rect x="268.5" y="220" width="11.4" height="3.84" fill="#54c9ad"/>
<rect x="279.5" y="220" width="11" height="3.84" fill="#46baac"/>
<rect x="246.5" y="223.45" width="11.4" height="3.84" fill="#348aa6"/>
<rect x="257.5" y="223.45" width="11.4" height="3.84" fill="#3e3c76"/>
<rect x="268.5" y="223.45" width="11.4" height="3.84" fill="#54c9ad"/>
<rect x="279.5" y="223.45" width="11" height="3.84" fill="#46baac"/>
<rect x="246.5" y="226.89" width="11.4" height="3.84" fill="#38aaac"/>
<rect x="257.5" y="226.89" width="11.4" height="3.84" fill="#357aa2"/>
<rect x="268.5" y="226.89" width="11.4" height="3.84" fill="#54c9ad"/>
<rect x="279.5" y="226.89" width="11" height="3.84" fill="#46baac"/>
<rect x="246.5" y="230.33" width="11.4" height="3.84" fill="#357aa2"/>
<rect x="257.5" y="230.33" width="11.4" height="3.84" fill="#1a0e1a"/>
<rect x="268.5" y="230.33" width="11.4" height="3.84" fill="#54c9ad"/>
<rect x="279.5" y="230.33" width="11" height="3.84" fill="#46baac"/>
<rect x="246.5" y="233.77" width="11.4" height="3.84" fill="#357aa2"/>
<rect x="257.5" y="233.77" width="11.4" height="3.84" fill="#3b2f5e"/>
<rect x="268.5" y="233.77" width="11.4" height="3.84" fill="#7ad4b3"/>
<rect x="279.5" y="233.77" width="11" height="3.84" fill="#54c9ad"/>
<rect x="246.5" y="237.22" width="11.4" height="3.84" fill="#366a9f"/>
<rect x="257.5" y="237.22" width="11.4" height="3.84" fill="#3b2f5e"/>
<rect x="268.5" y="237.22" width="11.4" height="3.84" fill="#a0dfb9"/>
<rect x="279.5" y="237.22" width="11" height="3.84" fill="#54c9ad"/>
<rect x="246.5" y="240.66" width="11.4" height="3.84" fill="#3b5a96"/>
<rect x="257.5" y="240.66" width="11.4" height="3.84" fill="#28192f"/>
<rect x="268.5" y="240.66" width="11.4" height="3.84" fill="#54c9ad"/>
<rect x="279.5" y="240.66" width="11" height="3.84" fill="#38aaac"/>
<rect x="246.5" y="244.1" width="11.4" height="3.84" fill="#40498e"/>
<rect x="257.5" y="244.1" width="11.4" height="3.84" fill="#3e3c76"/>
<rect x="268.5" y="244.1" width="11.4" height="3.84" fill="#54c9ad"/>
<rect x="279.5" y="244.1" width="11" height="3.84" fill="#54c9ad"/>
<rect x="246.5" y="247.55" width="11.4" height="3.84" fill="#357aa2"/>
<rect x="257.5" y="247.55" width="11.4" height="3.84" fill="#40498e"/>
<rect x="268.5" y="247.55" width="11.4" height="3.84" fill="#bfeacf"/>
<rect x="279.5" y="247.55" width="11" height="3.84" fill="#7ad4b3"/>
<rect x="246.5" y="250.99" width="11.4" height="3.84" fill="#366a9f"/>
<rect x="257.5" y="250.99" width="11.4" height="3.84" fill="#366a9f"/>
<rect x="268.5" y="250.99" width="11.4" height="3.84" fill="#54c9ad"/>
<rect x="279.5" y="250.99" width="11" height="3.84" fill="#a0dfb9"/>
<rect x="246.5" y="254.43" width="11.4" height="3.84" fill="#366a9f"/>
<rect x="257.5" y="254.43" width="11.4" height="3.84" fill="#39609a"/>
<rect x="268.5" y="254.43" width="11.4" height="3.84" fill="#54c9ad"/>
<rect x="279.5" y="254.43" width="11" height="3.84" fill="#54c9ad"/>
<rect x="246.5" y="257.88" width="11.4" height="3.84" fill="#366a9f"/>
<rect x="257.5" y="257.88" width="11.4" height="3.84" fill="#40498e"/>
<rect x="268.5" y="257.88" width="11.4" height="3.84" fill="#46baac"/>
<rect x="279.5" y="257.88" width="11" height="3.84" fill="#369aa9"/>
<rect x="246.5" y="261.32" width="11.4" height="3.84" fill="#40498e"/>
<rect x="257.5" y="261.32" width="11.4" height="3.84" fill="#366a9f"/>
<rect x="268.5" y="261.32" width="11.4" height="3.84" fill="#54c9ad"/>
<rect x="279.5" y="261.32" width="11" height="3.84" fill="#7ad4b3"/>
<rect x="246.5" y="264.76" width="11.4" height="3.84" fill="#3b2f5e"/>
<rect x="257.5" y="264.76" width="11.4" height="3.84" fill="#40498e"/>
<rect x="268.5" y="264.76" width="11.4" height="3.84" fill="#38aaac"/>
<rect x="279.5" y="264.76" width="11" height="3.84" fill="#46baac"/>
<rect x="246.5" y="268.2" width="11.4" height="3.84" fill="#1a0e1a"/>
<rect x="257.5" y="268.2" width="11.4" height="3.84" fill="#348aa6"/>
<rect x="268.5" y="268.2" width="11.4" height="3.84" fill="#38aaac"/>
<rect x="279.5" y="268.2" width="11" height="3.84" fill="#369aa9"/>
<rect x="246.5" y="271.65" width="11.4" height="3.84" fill="#38aaac"/>
<rect x="257.5" y="271.65" width="11.4" height="3.84" fill="#DEF5E5"/>
<rect x="268.5" y="271.65" width="11.4" height="3.84" fill="#369aa9"/>
<rect x="279.5" y="271.65" width="11" height="3.84" fill="#357aa2"/>
<rect x="246.5" y="275.09" width="11.4" height="3.84" fill="#38aaac"/>
<rect x="257.5" y="275.09" width="11.4" height="3.84" fill="#a0dfb9"/>
<rect x="268.5" y="275.09" width="11.4" height="3.84" fill="#357aa2"/>
<rect x="279.5" y="275.09" width="11" height="3.84" fill="#3b5a96"/>
<rect x="246.5" y="278.53" width="11.4" height="3.84" fill="#369aa9"/>
<rect x="257.5" y="278.53" width="11.4" height="3.84" fill="#DEF5E5"/>
<rect x="268.5" y="278.53" width="11.4" height="3.84" fill="#366a9f"/>
<rect x="279.5" y="278.53" width="11" height="3.84" fill="#3b5a96"/>
<rect x="246.5" y="281.98" width="11.4" height="3.84" fill="#348aa6"/>
<rect x="257.5" y="281.98" width="11.4" height="3.84" fill="#bfeacf"/>
<rect x="268.5" y="281.98" width="11.4" height="3.84" fill="#366a9f"/>
<rect x="279.5" y="281.98" width="11" height="3.84" fill="#366a9f"/>
<rect x="246.5" y="285.42" width="11.4" height="3.84" fill="#348aa6"/>
<rect x="257.5" y="285.42" width="11.4" height="3.84" fill="#bfeacf"/>
<rect x="268.5" y="285.42" width="11.4" height="3.84" fill="#40498e"/>
<rect x="279.5" y="285.42" width="11" height="3.84" fill="#366a9f"/>
<rect x="246.5" y="288.86" width="11.4" height="3.84" fill="#38aaac"/>
<rect x="257.5" y="288.86" width="11.4" height="3.84" fill="#bfeacf"/>
<rect x="268.5" y="288.86" width="11.4" height="3.84" fill="#3b5a96"/>
<rect x="279.5" y="288.86" width="11" height="3.84" fill="#40498e"/>
<rect x="246.5" y="292.31" width="11.4" height="3.84" fill="#38aaac"/>
<rect x="257.5" y="292.31" width="11.4" height="3.84" fill="#bfeacf"/>
<rect x="268.5" y="292.31" width="11.4" height="3.84" fill="#40498e"/>
<rect x="279.5" y="292.31" width="11" height="3.84" fill="#3b5a96"/>
<rect x="246.5" y="295.75" width="11.4" height="3.84" fill="#38aaac"/>
<rect x="257.5" y="295.75" width="11.4" height="3.84" fill="#a0dfb9"/>
<rect x="268.5" y="295.75" width="11.4" height="3.84" fill="#3b5a96"/>
<rect x="279.5" y="295.75" width="11" height="3.84" fill="#3b5a96"/>
<rect x="246.5" y="299.19" width="11.4" height="3.84" fill="#46baac"/>
<rect x="257.5" y="299.19" width="11.4" height="3.84" fill="#DEF5E5"/>
<rect x="268.5" y="299.19" width="11.4" height="3.84" fill="#3b5a96"/>
<rect x="279.5" y="299.19" width="11" height="3.84" fill="#3b5a96"/>
<rect x="246.5" y="302.63" width="11.4" height="3.84" fill="#46baac"/>
<rect x="257.5" y="302.63" width="11.4" height="3.84" fill="#DEF5E5"/>
<rect x="268.5" y="302.63" width="11.4" height="3.84" fill="#40498e"/>
<rect x="279.5" y="302.63" width="11" height="3.84" fill="#3b5a96"/>
<rect x="246.5" y="306.08" width="11.4" height="3.84" fill="#348aa6"/>
<rect x="257.5" y="306.08" width="11.4" height="3.84" fill="#46baac"/>
<rect x="268.5" y="306.08" width="11.4" height="3.84" fill="#3b2f5e"/>
<rect x="279.5" y="306.08" width="11" height="3.84" fill="#3e3c76"/>
<rect x="246.5" y="309.52" width="11.4" height="3.84" fill="#46baac"/>
<rect x="257.5" y="309.52" width="11.4" height="3.84" fill="#a0dfb9"/>
<rect x="268.5" y="309.52" width="11.4" height="3.84" fill="#366a9f"/>
<rect x="279.5" y="309.52" width="11" height="3.84" fill="#348aa6"/>
<rect x="246.5" y="312.96" width="11.4" height="3.84" fill="#46baac"/>
<rect x="257.5" y="312.96" width="11.4" height="3.84" fill="#bfeacf"/>
<rect x="268.5" y="312.96" width="11.4" height="3.84" fill="#40498e"/>
<rect x="279.5" y="312.96" width="11" height="3.84" fill="#366a9f"/>
<rect x="246.5" y="316.41" width="11.4" height="3.84" fill="#7ad4b3"/>
<rect x="257.5" y="316.41" width="11.4" height="3.84" fill="#54c9ad"/>
<rect x="268.5" y="316.41" width="11.4" height="3.84" fill="#357aa2"/>
<rect x="279.5" y="316.41" width="11" height="3.84" fill="#40498e"/>
<rect x="246.5" y="319.85" width="11.4" height="3.84" fill="#54c9ad"/>
<rect x="257.5" y="319.85" width="11.4" height="3.84" fill="#a0dfb9"/>
<rect x="268.5" y="319.85" width="11.4" height="3.84" fill="#3b5a96"/>
<rect x="279.5" y="319.85" width="11" height="3.84" fill="#366a9f"/>
<rect x="246.5" y="323.29" width="11.4" height="3.84" fill="#46baac"/>
<rect x="257.5" y="323.29" width="11.4" height="3.84" fill="#54c9ad"/>
<rect x="268.5" y="323.29" width="11.4" height="3.84" fill="#366a9f"/>
<rect x="279.5" y="323.29" width="11" height="3.84" fill="#366a9f"/>
<rect x="246.5" y="326.74" width="11.4" height="3.84" fill="#46baac"/>
<rect x="257.5" y="326.74" width="11.4" height="3.84" fill="#46baac"/>
<rect x="268.5" y="326.74" width="11.4" height="3.84" fill="#3b2f5e"/>
<rect x="279.5" y="326.74" width="11" height="3.84" fill="#369aa9"/>
<rect x="246.5" y="330.18" width="11.4" height="3.84" fill="#54c9ad"/>
<rect x="257.5" y="330.18" width="11.4" height="3.84" fill="#348aa6"/>
<rect x="268.5" y="330.18" width="11.4" height="3.84" fill="#357aa2"/>
<rect x="279.5" y="330.18" width="11" height="3.84" fill="#369aa9"/>
<rect x="246.5" y="333.62" width="11.4" height="3.84" fill="#7ad4b3"/>
<rect x="257.5" y="333.62" width="11.4" height="3.84" fill="#366a9f"/>
<rect x="268.5" y="333.62" width="11.4" height="3.84" fill="#348aa6"/>
<rect x="279.5" y="333.62" width="11" height="3.84" fill="#38aaac"/>
<rect x="246.5" y="337.06" width="11.4" height="3.44" fill="#a0dfb9"/>
<rect x="257.5" y="337.06" width="11.4" height="3.44" fill="#28192f"/>
<rect x="268.5" y="337.06" width="11.4" height="3.44" fill="#369aa9"/>
<rect x="279.5" y="337.06" width="11" height="3.44" fill="#38aaac"/>
<line x1="252" y1="340.81" x2="252" y2="341.71" stroke="#333" stroke-width="0.3"/>
<text transform="translate(252 345.11) rotate(0.03)" font-size="3.5" text-anchor="middle" fill="#333">ZT5</text>
<line x1="263" y1="340.81" x2="263" y2="341.71" stroke="#333" stroke-width="0.3"/>
<text transform="translate(263 345.11) rotate(0.03)" font-size="3.5" text-anchor="middle" fill="#333">ZT11</text>
<line x1="274" y1="340.81" x2="274" y2="341.71" stroke="#333" stroke-width="0.3"/>
<text transform="translate(274 345.11) rotate(0.03)" font-size="3.5" text-anchor="middle" fill="#333">ZT17</text>
<line x1="285" y1="340.81" x2="285" y2="341.71" stroke="#333" stroke-width="0.3"/>
<text transform="translate(285 345.11) rotate(0.03)" font-size="3.5" text-anchor="middle" fill="#333">ZT23</text>
<rect x="293.6" y="163.2" width="45.8" height="8.3" fill="#d9d9d9" stroke="#7a7a7a" stroke-width="0.35"/>
<text transform="translate(316.5 168.6) rotate(0.03)" font-size="3.7" text-anchor="middle" fill="#222">ABX</text>
<rect x="293.6" y="171.5" width="45.8" height="169.31" fill="#fff" stroke="#7a7a7a" stroke-width="0.35"/>
<rect x="294.5" y="171.8" width="11.4" height="3.84" fill="#54c9ad"/>
<rect x="305.5" y="171.8" width="11.4" height="3.84" fill="#38aaac"/>
<rect x="316.5" y="171.8" width="11.4" height="3.84" fill="#54c9ad"/>
<rect x="327.5" y="171.8" width="11" height="3.84" fill="#46baac"/>
<rect x="294.5" y="175.24" width="11.4" height="3.84" fill="#366a9f"/>
<rect x="305.5" y="175.24" width="11.4" height="3.84" fill="#3b2f5e"/>
<rect x="316.5" y="175.24" width="11.4" height="3.84" fill="#7ad4b3"/>
<rect x="327.5" y="175.24" width="11" height="3.84" fill="#38aaac"/>
<rect x="294.5" y="178.69" width="11.4" height="3.84" fill="#348aa6"/>
<rect x="305.5" y="178.69" width="11.4" height="3.84" fill="#38aaac"/>
<rect x="316.5" y="178.69" width="11.4" height="3.84" fill="#40498e"/>
<rect x="327.5" y="178.69" width="11" height="3.84" fill="#357aa2"/>
<rect x="294.5" y="182.13" width="11.4" height="3.84" fill="#348aa6"/>
<rect x="305.5" y="182.13" width="11.4" height="3.84" fill="#348aa6"/>
<rect x="316.5" y="182.13" width="11.4" height="3.84" fill="#38aaac"/>
<rect x="327.5" y="182.13" width="11" height="3.84" fill="#348aa6"/>
<rect x="294.5" y="185.57" width="11.4" height="3.84" fill="#357aa2"/>
<rect x="305.5" y="185.57" width="11.4" height="3.84" fill="#38aaac"/>
<rect x="316.5" y="185.57" width="11.4" height="3.84" fill="#38aaac"/>
<rect x="327.5" y="185.57" width="11" height="3.84" fill="#40498e"/>
<rect x="294.5" y="189.02" width="11.4" height="3.84" fill="#348aa6"/>
<rect x="305.5" y="189.02" width="11.4" height="3.84" fill="#54c9ad"/>
<rect x="316.5" y="189.02" width="11.4" height="3.84" fill="#369aa9"/>
<rect x="327.5" y="189.02" width="11" height="3.84" fill="#348aa6"/>
<rect x="294.5" y="192.46" width="11.4" height="3.84" fill="#369aa9"/>
<rect x="305.5" y="192.46" width="11.4" height="3.84" fill="#369aa9"/>
<rect x="316.5" y="192.46" width="11.4" height="3.84" fill="#357aa2"/>
<rect x="327.5" y="192.46" width="11" height="3.84" fill="#348aa6"/>
<rect x="294.5" y="195.9" width="11.4" height="3.84" fill="#357aa2"/>
<rect x="305.5" y="195.9" width="11.4" height="3.84" fill="#348aa6"/>
<rect x="316.5" y="195.9" width="11.4" height="3.84" fill="#369aa9"/>
<rect x="327.5" y="195.9" width="11" height="3.84" fill="#357aa2"/>
<rect x="294.5" y="199.34" width="11.4" height="3.84" fill="#348aa6"/>
<rect x="305.5" y="199.34" width="11.4" height="3.84" fill="#366a9f"/>
<rect x="316.5" y="199.34" width="11.4" height="3.84" fill="#369aa9"/>
<rect x="327.5" y="199.34" width="11" height="3.84" fill="#348aa6"/>
<rect x="294.5" y="202.79" width="11.4" height="3.84" fill="#366a9f"/>
<rect x="305.5" y="202.79" width="11.4" height="3.84" fill="#369aa9"/>
<rect x="316.5" y="202.79" width="11.4" height="3.84" fill="#369aa9"/>
<rect x="327.5" y="202.79" width="11" height="3.84" fill="#40498e"/>
<rect x="294.5" y="206.23" width="11.4" height="3.84" fill="#38aaac"/>
<rect x="305.5" y="206.23" width="11.4" height="3.84" fill="#46baac"/>
<rect x="316.5" y="206.23" width="11.4" height="3.84" fill="#7ad4b3"/>
<rect x="327.5" y="206.23" width="11" height="3.84" fill="#46baac"/>
<rect x="294.5" y="209.67" width="11.4" height="3.84" fill="#348aa6"/>
<rect x="305.5" y="209.67" width="11.4" height="3.84" fill="#366a9f"/>
<rect x="316.5" y="209.67" width="11.4" height="3.84" fill="#38aaac"/>
<rect x="327.5" y="209.67" width="11" height="3.84" fill="#348aa6"/>
<rect x="294.5" y="213.12" width="11.4" height="3.84" fill="#348aa6"/>
<rect x="305.5" y="213.12" width="11.4" height="3.84" fill="#348aa6"/>
<rect x="316.5" y="213.12" width="11.4" height="3.84" fill="#369aa9"/>
<rect x="327.5" y="213.12" width="11" height="3.84" fill="#366a9f"/>
<rect x="294.5" y="216.56" width="11.4" height="3.84" fill="#369aa9"/>
<rect x="305.5" y="216.56" width="11.4" height="3.84" fill="#369aa9"/>
<rect x="316.5" y="216.56" width="11.4" height="3.84" fill="#369aa9"/>
<rect x="327.5" y="216.56" width="11" height="3.84" fill="#348aa6"/>
<rect x="294.5" y="220" width="11.4" height="3.84" fill="#46baac"/>
<rect x="305.5" y="220" width="11.4" height="3.84" fill="#38aaac"/>
<rect x="316.5" y="220" width="11.4" height="3.84" fill="#54c9ad"/>
<rect x="327.5" y="220" width="11" height="3.84" fill="#46baac"/>
<rect x="294.5" y="223.45" width="11.4" height="3.84" fill="#38aaac"/>
<rect x="305.5" y="223.45" width="11.4" height="3.84" fill="#38aaac"/>
<rect x="316.5" y="223.45" width="11.4" height="3.84" fill="#46baac"/>
<rect x="327.5" y="223.45" width="11" height="3.84" fill="#38aaac"/>
<rect x="294.5" y="226.89" width="11.4" height="3.84" fill="#3b5a96"/>
<rect x="305.5" y="226.89" width="11.4" height="3.84" fill="#40498e"/>
<rect x="316.5" y="226.89" width="11.4" height="3.84" fill="#366a9f"/>
<rect x="327.5" y="226.89" width="11" height="3.84" fill="#366a9f"/>
<rect x="294.5" y="230.33" width="11.4" height="3.84" fill="#38aaac"/>
<rect x="305.5" y="230.33" width="11.4" height="3.84" fill="#38aaac"/>
<rect x="316.5" y="230.33" width="11.4" height="3.84" fill="#369aa9"/>
<rect x="327.5" y="230.33" width="11" height="3.84" fill="#348aa6"/>
<rect x="294.5" y="233.77" width="11.4" height="3.84" fill="#38aaac"/>
<rect x="305.5" y="233.77" width="11.4" height="3.84" fill="#a0dfb9"/>
<rect x="316.5" y="233.77" width="11.4" height="3.84" fill="#38aaac"/>
<rect x="327.5" y="233.77" width="11" height="3.84" fill="#357aa2"/>
<rect x="294.5" y="237.22" width="11.4" height="3.84" fill="#38aaac"/>
<rect x="305.5" y="237.22" width="11.4" height="3.84" fill="#38aaac"/>
<rect x="316.5" y="237.22" width="11.4" height="3.84" fill="#369aa9"/>
<rect x="327.5" y="237.22" width="11" height="3.84" fill="#366a9f"/>
<rect x="294.5" y="240.66" width="11.4" height="3.84" fill="#348aa6"/>
<rect x="305.5" y="240.66" width="11.4" height="3.84" fill="#46baac"/>
<rect x="316.5" y="240.66" width="11.4" height="3.84" fill="#54c9ad"/>
<rect x="327.5" y="240.66" width="11" height="3.84" fill="#348aa6"/>
<rect x="294.5" y="244.1" width="11.4" height="3.84" fill="#38aaac"/>
<rect x="305.5" y="244.1" width="11.4" height="3.84" fill="#38aaac"/>
<rect x="316.5" y="244.1" width="11.4" height="3.84" fill="#369aa9"/>
<rect x="327.5" y="244.1" width="11" height="3.84" fill="#357aa2"/>
<rect x="294.5" y="247.55" width="11.4" height="3.84" fill="#369aa9"/>
<rect x="305.5" y="247.55" width="11.4" height="3.84" fill="#369aa9"/>
<rect x="316.5" y="247.55" width="11.4" height="3.84" fill="#348aa6"/>
<rect x="327.5" y="247.55" width="11" height="3.84" fill="#366a9f"/>
<rect x="294.5" y="250.99" width="11.4" height="3.84" fill="#369aa9"/>
<rect x="305.5" y="250.99" width="11.4" height="3.84" fill="#369aa9"/>
<rect x="316.5" y="250.99" width="11.4" height="3.84" fill="#348aa6"/>
<rect x="327.5" y="250.99" width="11" height="3.84" fill="#38aaac"/>
<rect x="294.5" y="254.43" width="11.4" height="3.84" fill="#369aa9"/>
<rect x="305.5" y="254.43" width="11.4" height="3.84" fill="#3590a7"/>
<rect x="316.5" y="254.43" width="11.4" height="3.84" fill="#369aa9"/>
<rect x="327.5" y="254.43" width="11" height="3.84" fill="#38aaac"/>
<rect x="294.5" y="257.88" width="11.4" height="3.84" fill="#38aaac"/>
<rect x="305.5" y="257.88" width="11.4" height="3.84" fill="#369aa9"/>
<rect x="316.5" y="257.88" width="11.4" height="3.84" fill="#369aa9"/>
<rect x="327.5" y="257.88" width="11" height="3.84" fill="#38aaac"/>
<rect x="294.5" y="261.32" width="11.4" height="3.84" fill="#38aaac"/>
<rect x="305.5" y="261.32" width="11.4" height="3.84" fill="#3e3c76"/>
<rect x="316.5" y="261.32" width="11.4" height="3.84" fill="#7ad4b3"/>
<rect x="327.5" y="261.32" width="11" height="3.84" fill="#348aa6"/>
<rect x="294.5" y="264.76" width="11.4" height="3.84" fill="#366a9f"/>
<rect x="305.5" y="264.76" width="11.4" height="3.84" fill="#369aa9"/>
<rect x="316.5" y="264.76" width="11.4" height="3.84" fill="#38aaac"/>
<rect x="327.5" y="264.76" width="11" height="3.84" fill="#366a9f"/>
<rect x="294.5" y="268.2" width="11.4" height="3.84" fill="#38aaac"/>
<rect x="305.5" y="268.2" width="11.4" height="3.84" fill="#38aaac"/>
<rect x="316.5" y="268.2" width="11.4" height="3.84" fill="#54c9ad"/>
<rect x="327.5" y="268.2" width="11" height="3.84" fill="#369aa9"/>
<rect x="294.5" y="271.65" width="11.4" height="3.84" fill="#40498e"/>
<rect x="305.5" y="271.65" width="11.4" height="3.84" fill="#3e3c76"/>
<rect x="316.5" y="271.65" width="11.4" height="3.84" fill="#348aa6"/>
<rect x="327.5" y="271.65" width="11" height="3.84" fill="#40498e"/>
<rect x="294.5" y="275.09" width="11.4" height="3.84" fill="#369aa9"/>
<rect x="305.5" y="275.09" width="11.4" height="3.84" fill="#7ad4b3"/>
<rect x="316.5" y="275.09" width="11.4" height="3.84" fill="#3b5a96"/>
<rect x="327.5" y="275.09" width="11" height="3.84" fill="#3e3c76"/>
<rect x="294.5" y="278.53" width="11.4" height="3.84" fill="#366a9f"/>
<rect x="305.5" y="278.53" width="11.4" height="3.84" fill="#348aa6"/>
<rect x="316.5" y="278.53" width="11.4" height="3.84" fill="#348aa6"/>
<rect x="327.5" y="278.53" width="11" height="3.84" fill="#348aa6"/>
<rect x="294.5" y="281.98" width="11.4" height="3.84" fill="#3b5a96"/>
<rect x="305.5" y="281.98" width="11.4" height="3.84" fill="#348aa6"/>
<rect x="316.5" y="281.98" width="11.4" height="3.84" fill="#40498e"/>
<rect x="327.5" y="281.98" width="11" height="3.84" fill="#369aa9"/>
<rect x="294.5" y="285.42" width="11.4" height="3.84" fill="#366a9f"/>
<rect x="305.5" y="285.42" width="11.4" height="3.84" fill="#348aa6"/>
<rect x="316.5" y="285.42" width="11.4" height="3.84" fill="#357aa2"/>
<rect x="327.5" y="285.42" width="11" height="3.84" fill="#348aa6"/>
<rect x="294.5" y="288.86" width="11.4" height="3.84" fill="#357aa2"/>
<rect x="305.5" y="288.86" width="11.4" height="3.84" fill="#348aa6"/>
<rect x="316.5" y="288.86" width="11.4" height="3.84" fill="#357aa2"/>
<rect x="327.5" y="288.86" width="11" height="3.84" fill="#366a9f"/>
<rect x="294.5" y="292.31" width="11.4" height="3.84" fill="#366a9f"/>
<rect x="305.5" y="292.31" width="11.4" height="3.84" fill="#348aa6"/>
<rect x="316.5" y="292.31" width="11.4" height="3.84" fill="#366a9f"/>
<rect x="327.5" y="292.31" width="11" height="3.84" fill="#348aa6"/>
<rect x="294.5" y="295.75" width="11.4" height="3.84" fill="#366a9f"/>
<rect x="305.5" y="295.75" width="11.4" height="3.84" fill="#3b5a96"/>
<rect x="316.5" y="295.75" width="11.4" height="3.84" fill="#348aa6"/>
<rect x="327.5" y="295.75" width="11" height="3.84" fill="#348aa6"/>
<rect x="294.5" y="299.19" width="11.4" height="3.84" fill="#3e3c76"/>
<rect x="305.5" y="299.19" width="11.4" height="3.84" fill="#369aa9"/>
<rect x="316.5" y="299.19" width="11.4" height="3.84" fill="#369aa9"/>
<rect x="327.5" y="299.19" width="11" height="3.84" fill="#357aa2"/>
<rect x="294.5" y="302.63" width="11.4" height="3.84" fill="#3b5a96"/>
<rect x="305.5" y="302.63" width="11.4" height="3.84" fill="#348aa6"/>
<rect x="316.5" y="302.63" width="11.4" height="3.84" fill="#348aa6"/>
<rect x="327.5" y="302.63" width="11" height="3.84" fill="#369aa9"/>
<rect x="294.5" y="306.08" width="11.4" height="3.84" fill="#366a9f"/>
<rect x="305.5" y="306.08" width="11.4" height="3.84" fill="#369aa9"/>
<rect x="316.5" y="306.08" width="11.4" height="3.84" fill="#357aa2"/>
<rect x="327.5" y="306.08" width="11" height="3.84" fill="#46baac"/>
<rect x="294.5" y="309.52" width="11.4" height="3.84" fill="#357aa2"/>
<rect x="305.5" y="309.52" width="11.4" height="3.84" fill="#3b2f5e"/>
<rect x="316.5" y="309.52" width="11.4" height="3.84" fill="#366a9f"/>
<rect x="327.5" y="309.52" width="11" height="3.84" fill="#3b2f5e"/>
<rect x="294.5" y="312.96" width="11.4" height="3.84" fill="#348aa6"/>
<rect x="305.5" y="312.96" width="11.4" height="3.84" fill="#38aaac"/>
<rect x="316.5" y="312.96" width="11.4" height="3.84" fill="#348aa6"/>
<rect x="327.5" y="312.96" width="11" height="3.84" fill="#369aa9"/>
<rect x="294.5" y="316.41" width="11.4" height="3.84" fill="#369aa9"/>
<rect x="305.5" y="316.41" width="11.4" height="3.84" fill="#366a9f"/>
<rect x="316.5" y="316.41" width="11.4" height="3.84" fill="#38aaac"/>
<rect x="327.5" y="316.41" width="11" height="3.84" fill="#54c9ad"/>
<rect x="294.5" y="319.85" width="11.4" height="3.84" fill="#369aa9"/>
<rect x="305.5" y="319.85" width="11.4" height="3.84" fill="#357aa2"/>
<rect x="316.5" y="319.85" width="11.4" height="3.84" fill="#3b2f5e"/>
<rect x="327.5" y="319.85" width="11" height="3.84" fill="#38aaac"/>
<rect x="294.5" y="323.29" width="11.4" height="3.84" fill="#38aaac"/>
<rect x="305.5" y="323.29" width="11.4" height="3.84" fill="#348aa6"/>
<rect x="316.5" y="323.29" width="11.4" height="3.84" fill="#38aaac"/>
<rect x="327.5" y="323.29" width="11" height="3.84" fill="#38aaac"/>
<rect x="294.5" y="326.74" width="11.4" height="3.84" fill="#3b5a96"/>
<rect x="305.5" y="326.74" width="11.4" height="3.84" fill="#3b5a96"/>
<rect x="316.5" y="326.74" width="11.4" height="3.84" fill="#38aaac"/>
<rect x="327.5" y="326.74" width="11" height="3.84" fill="#369aa9"/>
<rect x="294.5" y="330.18" width="11.4" height="3.84" fill="#38aaac"/>
<rect x="305.5" y="330.18" width="11.4" height="3.84" fill="#369aa9"/>
<rect x="316.5" y="330.18" width="11.4" height="3.84" fill="#38aaac"/>
<rect x="327.5" y="330.18" width="11" height="3.84" fill="#7ad4b3"/>
<rect x="294.5" y="333.62" width="11.4" height="3.84" fill="#38aaac"/>
<rect x="305.5" y="333.62" width="11.4" height="3.84" fill="#3b5a96"/>
<rect x="316.5" y="333.62" width="11.4" height="3.84" fill="#3b2f5e"/>
<rect x="327.5" y="333.62" width="11" height="3.84" fill="#348aa6"/>
<rect x="294.5" y="337.06" width="11.4" height="3.44" fill="#369aa9"/>
<rect x="305.5" y="337.06" width="11.4" height="3.44" fill="#369aa9"/>
<rect x="316.5" y="337.06" width="11.4" height="3.44" fill="#369aa9"/>
<rect x="327.5" y="337.06" width="11" height="3.44" fill="#369aa9"/>
<line x1="300" y1="340.81" x2="300" y2="341.71" stroke="#333" stroke-width="0.3"/>
<text transform="translate(300 345.11) rotate(0.03)" font-size="3.5" text-anchor="middle" fill="#333">ZT5</text>
<line x1="311" y1="340.81" x2="311" y2="341.71" stroke="#333" stroke-width="0.3"/>
<text transform="translate(311 345.11) rotate(0.03)" font-size="3.5" text-anchor="middle" fill="#333">ZT11</text>
<line x1="322" y1="340.81" x2="322" y2="341.71" stroke="#333" stroke-width="0.3"/>
<text transform="translate(322 345.11) rotate(0.03)" font-size="3.5" text-anchor="middle" fill="#333">ZT17</text>
<line x1="333" y1="340.81" x2="333" y2="341.71" stroke="#333" stroke-width="0.3"/>
<text transform="translate(333 345.11) rotate(0.03)" font-size="3.5" text-anchor="middle" fill="#333">ZT23</text>
<rect x="341.6" y="163.2" width="45.8" height="8.3" fill="#d9d9d9" stroke="#7a7a7a" stroke-width="0.35"/>
<text transform="translate(364.5 168.6) rotate(0.03)" font-size="3.7" text-anchor="middle" fill="#222">GF</text>
<rect x="341.6" y="171.5" width="45.8" height="169.31" fill="#fff" stroke="#7a7a7a" stroke-width="0.35"/>
<rect x="342.5" y="171.8" width="11.4" height="3.84" fill="#40498e"/>
<rect x="353.5" y="171.8" width="11.4" height="3.84" fill="#348aa6"/>
<rect x="364.5" y="171.8" width="11.4" height="3.84" fill="#366a9f"/>
<rect x="375.5" y="171.8" width="11" height="3.84" fill="#348aa6"/>
<rect x="342.5" y="175.24" width="11.4" height="3.84" fill="#38aaac"/>
<rect x="353.5" y="175.24" width="11.4" height="3.84" fill="#3b5a96"/>
<rect x="364.5" y="175.24" width="11.4" height="3.84" fill="#369aa9"/>
<rect x="375.5" y="175.24" width="11" height="3.84" fill="#54c9ad"/>
<rect x="342.5" y="178.69" width="11.4" height="3.84" fill="#38aaac"/>
<rect x="353.5" y="178.69" width="11.4" height="3.84" fill="#a0dfb9"/>
<rect x="364.5" y="178.69" width="11.4" height="3.84" fill="#40498e"/>
<rect x="375.5" y="178.69" width="11" height="3.84" fill="#54c9ad"/>
<rect x="342.5" y="182.13" width="11.4" height="3.84" fill="#38aaac"/>
<rect x="353.5" y="182.13" width="11.4" height="3.84" fill="#46baac"/>
<rect x="364.5" y="182.13" width="11.4" height="3.84" fill="#369aa9"/>
<rect x="375.5" y="182.13" width="11" height="3.84" fill="#38aaac"/>
<rect x="342.5" y="185.57" width="11.4" height="3.84" fill="#46baac"/>
<rect x="353.5" y="185.57" width="11.4" height="3.84" fill="#54c9ad"/>
<rect x="364.5" y="185.57" width="11.4" height="3.84" fill="#348aa6"/>
<rect x="375.5" y="185.57" width="11" height="3.84" fill="#369aa9"/>
<rect x="342.5" y="189.02" width="11.4" height="3.84" fill="#54c9ad"/>
<rect x="353.5" y="189.02" width="11.4" height="3.84" fill="#54c9ad"/>
<rect x="364.5" y="189.02" width="11.4" height="3.84" fill="#40498e"/>
<rect x="375.5" y="189.02" width="11" height="3.84" fill="#7ad4b3"/>
<rect x="342.5" y="192.46" width="11.4" height="3.84" fill="#38aaac"/>
<rect x="353.5" y="192.46" width="11.4" height="3.84" fill="#a0dfb9"/>
<rect x="364.5" y="192.46" width="11.4" height="3.84" fill="#348aa6"/>
<rect x="375.5" y="192.46" width="11" height="3.84" fill="#38aaac"/>
<rect x="342.5" y="195.9" width="11.4" height="3.84" fill="#46baac"/>
<rect x="353.5" y="195.9" width="11.4" height="3.84" fill="#46baac"/>
<rect x="364.5" y="195.9" width="11.4" height="3.84" fill="#357aa2"/>
<rect x="375.5" y="195.9" width="11" height="3.84" fill="#7ad4b3"/>
<rect x="342.5" y="199.34" width="11.4" height="3.84" fill="#46baac"/>
<rect x="353.5" y="199.34" width="11.4" height="3.84" fill="#46baac"/>
<rect x="364.5" y="199.34" width="11.4" height="3.84" fill="#366a9f"/>
<rect x="375.5" y="199.34" width="11" height="3.84" fill="#a0dfb9"/>
<rect x="342.5" y="202.79" width="11.4" height="3.84" fill="#348aa6"/>
<rect x="353.5" y="202.79" width="11.4" height="3.84" fill="#46baac"/>
<rect x="364.5" y="202.79" width="11.4" height="3.84" fill="#348aa6"/>
<rect x="375.5" y="202.79" width="11" height="3.84" fill="#54c9ad"/>
<rect x="342.5" y="206.23" width="11.4" height="3.84" fill="#366a9f"/>
<rect x="353.5" y="206.23" width="11.4" height="3.84" fill="#366a9f"/>
<rect x="364.5" y="206.23" width="11.4" height="3.84" fill="#3e3c76"/>
<rect x="375.5" y="206.23" width="11" height="3.84" fill="#54c9ad"/>
<rect x="342.5" y="209.67" width="11.4" height="3.84" fill="#54c9ad"/>
<rect x="353.5" y="209.67" width="11.4" height="3.84" fill="#38aaac"/>
<rect x="364.5" y="209.67" width="11.4" height="3.84" fill="#3b5a96"/>
<rect x="375.5" y="209.67" width="11" height="3.84" fill="#a0dfb9"/>
<rect x="342.5" y="213.12" width="11.4" height="3.84" fill="#38aaac"/>
<rect x="353.5" y="213.12" width="11.4" height="3.84" fill="#54c9ad"/>
<rect x="364.5" y="213.12" width="11.4" height="3.84" fill="#357aa2"/>
<rect x="375.5" y="213.12" width="11" height="3.84" fill="#a0dfb9"/>
<rect x="342.5" y="216.56" width="11.4" height="3.84" fill="#369aa9"/>
<rect x="353.5" y="216.56" width="11.4" height="3.84" fill="#a0dfb9"/>
<rect x="364.5" y="216.56" width="11.4" height="3.84" fill="#348aa6"/>
<rect x="375.5" y="216.56" width="11" height="3.84" fill="#38aaac"/>
<rect x="342.5" y="220" width="11.4" height="3.84" fill="#348aa6"/>
<rect x="353.5" y="220" width="11.4" height="3.84" fill="#3b5a96"/>
<rect x="364.5" y="220" width="11.4" height="3.84" fill="#3b2f5e"/>
<rect x="375.5" y="220" width="11" height="3.84" fill="#38aaac"/>
<rect x="342.5" y="223.45" width="11.4" height="3.84" fill="#357aa2"/>
<rect x="353.5" y="223.45" width="11.4" height="3.84" fill="#366a9f"/>
<rect x="364.5" y="223.45" width="11.4" height="3.84" fill="#3b2f5e"/>
<rect x="375.5" y="223.45" width="11" height="3.84" fill="#38aaac"/>
<rect x="342.5" y="226.89" width="11.4" height="3.84" fill="#366a9f"/>
<rect x="353.5" y="226.89" width="11.4" height="3.84" fill="#a0dfb9"/>
<rect x="364.5" y="226.89" width="11.4" height="3.84" fill="#369aa9"/>
<rect x="375.5" y="226.89" width="11" height="3.84" fill="#46baac"/>
<rect x="342.5" y="230.33" width="11.4" height="3.84" fill="#38aaac"/>
<rect x="353.5" y="230.33" width="11.4" height="3.84" fill="#7ad4b3"/>
<rect x="364.5" y="230.33" width="11.4" height="3.84" fill="#369aa9"/>
<rect x="375.5" y="230.33" width="11" height="3.84" fill="#38aaac"/>
<rect x="342.5" y="233.77" width="11.4" height="3.84" fill="#348aa6"/>
<rect x="353.5" y="233.77" width="11.4" height="3.84" fill="#348aa6"/>
<rect x="364.5" y="233.77" width="11.4" height="3.84" fill="#348aa6"/>
<rect x="375.5" y="233.77" width="11" height="3.84" fill="#366a9f"/>
<rect x="342.5" y="237.22" width="11.4" height="3.84" fill="#348aa6"/>
<rect x="353.5" y="237.22" width="11.4" height="3.84" fill="#369aa9"/>
<rect x="364.5" y="237.22" width="11.4" height="3.84" fill="#357aa2"/>
<rect x="375.5" y="237.22" width="11" height="3.84" fill="#348aa6"/>
<rect x="342.5" y="240.66" width="11.4" height="3.84" fill="#348aa6"/>
<rect x="353.5" y="240.66" width="11.4" height="3.84" fill="#38aaac"/>
<rect x="364.5" y="240.66" width="11.4" height="3.84" fill="#348aa6"/>
<rect x="375.5" y="240.66" width="11" height="3.84" fill="#369aa9"/>
<rect x="342.5" y="244.1" width="11.4" height="3.84" fill="#369aa9"/>
<rect x="353.5" y="244.1" width="11.4" height="3.84" fill="#38aaac"/>
<rect x="364.5" y="244.1" width="11.4" height="3.84" fill="#366a9f"/>
<rect x="375.5" y="244.1" width="11" height="3.84" fill="#348aa6"/>
<rect x="342.5" y="247.55" width="11.4" height="3.84" fill="#40498e"/>
<rect x="353.5" y="247.55" width="11.4" height="3.84" fill="#369aa9"/>
<rect x="364.5" y="247.55" width="11.4" height="3.84" fill="#38aaac"/>
<rect x="375.5" y="247.55" width="11" height="3.84" fill="#357aa2"/>
<rect x="342.5" y="250.99" width="11.4" height="3.84" fill="#3b5a96"/>
<rect x="353.5" y="250.99" width="11.4" height="3.84" fill="#348aa6"/>
<rect x="364.5" y="250.99" width="11.4" height="3.84" fill="#3b2f5e"/>
<rect x="375.5" y="250.99" width="11" height="3.84" fill="#369aa9"/>
<rect x="342.5" y="254.43" width="11.4" height="3.84" fill="#38aaac"/>
<rect x="353.5" y="254.43" width="11.4" height="3.84" fill="#348aa6"/>
<rect x="364.5" y="254.43" width="11.4" height="3.84" fill="#3b2f5e"/>
<rect x="375.5" y="254.43" width="11" height="3.84" fill="#366a9f"/>
<rect x="342.5" y="257.88" width="11.4" height="3.84" fill="#40498e"/>
<rect x="353.5" y="257.88" width="11.4" height="3.84" fill="#38aaac"/>
<rect x="364.5" y="257.88" width="11.4" height="3.84" fill="#a0dfb9"/>
<rect x="375.5" y="257.88" width="11" height="3.84" fill="#322446"/>
<rect x="342.5" y="261.32" width="11.4" height="3.84" fill="#369aa9"/>
<rect x="353.5" y="261.32" width="11.4" height="3.84" fill="#38aaac"/>
<rect x="364.5" y="261.32" width="11.4" height="3.84" fill="#348aa6"/>
<rect x="375.5" y="261.32" width="11" height="3.84" fill="#366a9f"/>
<rect x="342.5" y="264.76" width="11.4" height="3.84" fill="#348aa6"/>
<rect x="353.5" y="264.76" width="11.4" height="3.84" fill="#54c9ad"/>
<rect x="364.5" y="264.76" width="11.4" height="3.84" fill="#38aaac"/>
<rect x="375.5" y="264.76" width="11" height="3.84" fill="#46baac"/>
<rect x="342.5" y="268.2" width="11.4" height="3.84" fill="#369aa9"/>
<rect x="353.5" y="268.2" width="11.4" height="3.84" fill="#54c9ad"/>
<rect x="364.5" y="268.2" width="11.4" height="3.84" fill="#369aa9"/>
<rect x="375.5" y="268.2" width="11" height="3.84" fill="#40498e"/>
<rect x="342.5" y="271.65" width="11.4" height="3.84" fill="#369aa9"/>
<rect x="353.5" y="271.65" width="11.4" height="3.84" fill="#46baac"/>
<rect x="364.5" y="271.65" width="11.4" height="3.84" fill="#357aa2"/>
<rect x="375.5" y="271.65" width="11" height="3.84" fill="#38aaac"/>
<rect x="342.5" y="275.09" width="11.4" height="3.84" fill="#348aa6"/>
<rect x="353.5" y="275.09" width="11.4" height="3.84" fill="#7ad4b3"/>
<rect x="364.5" y="275.09" width="11.4" height="3.84" fill="#38aaac"/>
<rect x="375.5" y="275.09" width="11" height="3.84" fill="#369aa9"/>
<rect x="342.5" y="278.53" width="11.4" height="3.84" fill="#38aaac"/>
<rect x="353.5" y="278.53" width="11.4" height="3.84" fill="#38aaac"/>
<rect x="364.5" y="278.53" width="11.4" height="3.84" fill="#a0dfb9"/>
<rect x="375.5" y="278.53" width="11" height="3.84" fill="#348aa6"/>
<rect x="342.5" y="281.98" width="11.4" height="3.84" fill="#46baac"/>
<rect x="353.5" y="281.98" width="11.4" height="3.84" fill="#46baac"/>
<rect x="364.5" y="281.98" width="11.4" height="3.84" fill="#a0dfb9"/>
<rect x="375.5" y="281.98" width="11" height="3.84" fill="#369aa9"/>
<rect x="342.5" y="285.42" width="11.4" height="3.84" fill="#38aaac"/>
<rect x="353.5" y="285.42" width="11.4" height="3.84" fill="#38aaac"/>
<rect x="364.5" y="285.42" width="11.4" height="3.84" fill="#a0dfb9"/>
<rect x="375.5" y="285.42" width="11" height="3.84" fill="#369aa9"/>
<rect x="342.5" y="288.86" width="11.4" height="3.84" fill="#38aaac"/>
<rect x="353.5" y="288.86" width="11.4" height="3.84" fill="#54c9ad"/>
<rect x="364.5" y="288.86" width="11.4" height="3.84" fill="#7ad4b3"/>
<rect x="375.5" y="288.86" width="11" height="3.84" fill="#348aa6"/>
<rect x="342.5" y="292.31" width="11.4" height="3.84" fill="#369aa9"/>
<rect x="353.5" y="292.31" width="11.4" height="3.84" fill="#38aaac"/>
<rect x="364.5" y="292.31" width="11.4" height="3.84" fill="#a0dfb9"/>
<rect x="375.5" y="292.31" width="11" height="3.84" fill="#38aaac"/>
<rect x="342.5" y="295.75" width="11.4" height="3.84" fill="#38aaac"/>
<rect x="353.5" y="295.75" width="11.4" height="3.84" fill="#38aaac"/>
<rect x="364.5" y="295.75" width="11.4" height="3.84" fill="#7ad4b3"/>
<rect x="375.5" y="295.75" width="11" height="3.84" fill="#38aaac"/>
<rect x="342.5" y="299.19" width="11.4" height="3.84" fill="#38aaac"/>
<rect x="353.5" y="299.19" width="11.4" height="3.84" fill="#38aaac"/>
<rect x="364.5" y="299.19" width="11.4" height="3.84" fill="#46baac"/>
<rect x="375.5" y="299.19" width="11" height="3.84" fill="#348aa6"/>
<rect x="342.5" y="302.63" width="11.4" height="3.84" fill="#348aa6"/>
<rect x="353.5" y="302.63" width="11.4" height="3.84" fill="#348aa6"/>
<rect x="364.5" y="302.63" width="11.4" height="3.84" fill="#38aaac"/>
<rect x="375.5" y="302.63" width="11" height="3.84" fill="#369aa9"/>
<rect x="342.5" y="306.08" width="11.4" height="3.84" fill="#54c9ad"/>
<rect x="353.5" y="306.08" width="11.4" height="3.84" fill="#38aaac"/>
<rect x="364.5" y="306.08" width="11.4" height="3.84" fill="#54c9ad"/>
<rect x="375.5" y="306.08" width="11" height="3.84" fill="#38aaac"/>
<rect x="342.5" y="309.52" width="11.4" height="3.84" fill="#54c9ad"/>
<rect x="353.5" y="309.52" width="11.4" height="3.84" fill="#38aaac"/>
<rect x="364.5" y="309.52" width="11.4" height="3.84" fill="#369aa9"/>
<rect x="375.5" y="309.52" width="11" height="3.84" fill="#46baac"/>
<rect x="342.5" y="312.96" width="11.4" height="3.84" fill="#369aa9"/>
<rect x="353.5" y="312.96" width="11.4" height="3.84" fill="#357aa2"/>
<rect x="364.5" y="312.96" width="11.4" height="3.84" fill="#54c9ad"/>
<rect x="375.5" y="312.96" width="11" height="3.84" fill="#38aaac"/>
<rect x="342.5" y="316.41" width="11.4" height="3.84" fill="#348aa6"/>
<rect x="353.5" y="316.41" width="11.4" height="3.84" fill="#3e3c76"/>
<rect x="364.5" y="316.41" width="11.4" height="3.84" fill="#348aa6"/>
<rect x="375.5" y="316.41" width="11" height="3.84" fill="#369aa9"/>
<rect x="342.5" y="319.85" width="11.4" height="3.84" fill="#38aaac"/>
<rect x="353.5" y="319.85" width="11.4" height="3.84" fill="#46baac"/>
<rect x="364.5" y="319.85" width="11.4" height="3.84" fill="#348aa6"/>
<rect x="375.5" y="319.85" width="11" height="3.84" fill="#366a9f"/>
<rect x="342.5" y="323.29" width="11.4" height="3.84" fill="#366a9f"/>
<rect x="353.5" y="323.29" width="11.4" height="3.84" fill="#28192f"/>
<rect x="364.5" y="323.29" width="11.4" height="3.84" fill="#357aa2"/>
<rect x="375.5" y="323.29" width="11" height="3.84" fill="#38aaac"/>
<rect x="342.5" y="326.74" width="11.4" height="3.84" fill="#348aa6"/>
<rect x="353.5" y="326.74" width="11.4" height="3.84" fill="#a0dfb9"/>
<rect x="364.5" y="326.74" width="11.4" height="3.84" fill="#369aa9"/>
<rect x="375.5" y="326.74" width="11" height="3.84" fill="#3b5a96"/>
<rect x="342.5" y="330.18" width="11.4" height="3.84" fill="#366a9f"/>
<rect x="353.5" y="330.18" width="11.4" height="3.84" fill="#3b2f5e"/>
<rect x="364.5" y="330.18" width="11.4" height="3.84" fill="#3b2f5e"/>
<rect x="375.5" y="330.18" width="11" height="3.84" fill="#38aaac"/>
<rect x="342.5" y="333.62" width="11.4" height="3.84" fill="#54c9ad"/>
<rect x="353.5" y="333.62" width="11.4" height="3.84" fill="#348aa6"/>
<rect x="364.5" y="333.62" width="11.4" height="3.84" fill="#348aa6"/>
<rect x="375.5" y="333.62" width="11" height="3.84" fill="#369aa9"/>
<rect x="342.5" y="337.06" width="11.4" height="3.44" fill="#348aa6"/>
<rect x="353.5" y="337.06" width="11.4" height="3.44" fill="#369aa9"/>
<rect x="364.5" y="337.06" width="11.4" height="3.44" fill="#369aa9"/>
<rect x="375.5" y="337.06" width="11" height="3.44" fill="#46baac"/>
<line x1="348" y1="340.81" x2="348" y2="341.71" stroke="#333" stroke-width="0.3"/>
<text transform="translate(348 345.11) rotate(0.03)" font-size="3.5" text-anchor="middle" fill="#333">ZT5</text>
<line x1="359" y1="340.81" x2="359" y2="341.71" stroke="#333" stroke-width="0.3"/>
<text transform="translate(359 345.11) rotate(0.03)" font-size="3.5" text-anchor="middle" fill="#333">ZT11</text>
<line x1="370" y1="340.81" x2="370" y2="341.71" stroke="#333" stroke-width="0.3"/>
<text transform="translate(370 345.11) rotate(0.03)" font-size="3.5" text-anchor="middle" fill="#333">ZT17</text>
<line x1="381" y1="340.81" x2="381" y2="341.71" stroke="#333" stroke-width="0.3"/>
<text transform="translate(381 345.11) rotate(0.03)" font-size="3.5" text-anchor="middle" fill="#333">ZT23</text>
<line x1="388" y1="173.52" x2="389.2" y2="173.52" stroke="#333" stroke-width="0.3"/>
<text transform="translate(390 174.89) rotate(0.03)" font-size="3.8" fill="#222">Inosine</text>
<line x1="388" y1="176.96" x2="389.2" y2="176.96" stroke="#333" stroke-width="0.3"/>
<text transform="translate(390 178.33) rotate(0.03)" font-size="3.8" fill="#222">N-Acetyl-glutamic acid</text>
<line x1="388" y1="180.41" x2="389.2" y2="180.41" stroke="#333" stroke-width="0.3"/>
<text transform="translate(390 181.78) rotate(0.03)" font-size="3.8" fill="#222">Tyrosine</text>
<line x1="388" y1="183.85" x2="389.2" y2="183.85" stroke="#333" stroke-width="0.3"/>
<text transform="translate(390 185.22) rotate(0.03)" font-size="3.8" fill="#222">1-Methyl Adenosine</text>
<line x1="388" y1="187.29" x2="389.2" y2="187.29" stroke="#333" stroke-width="0.3"/>
<text transform="translate(390 188.66) rotate(0.03)" font-size="3.8" fill="#222">Phosphoenolpyruvic acid</text>
<line x1="388" y1="190.74" x2="389.2" y2="190.74" stroke="#333" stroke-width="0.3"/>
<text transform="translate(390 192.1) rotate(0.03)" font-size="3.8" fill="#222">Tryptophan</text>
<line x1="388" y1="194.18" x2="389.2" y2="194.18" stroke="#333" stroke-width="0.3"/>
<text transform="translate(390 195.55) rotate(0.03)" font-size="3.8" fill="#222">N-Acetylneuraminic acid</text>
<line x1="388" y1="197.62" x2="389.2" y2="197.62" stroke="#333" stroke-width="0.3"/>
<text transform="translate(390 198.99) rotate(0.03)" font-size="3.8" fill="#222">g-Aminobutyric acid</text>
<line x1="388" y1="201.07" x2="389.2" y2="201.07" stroke="#333" stroke-width="0.3"/>
<text transform="translate(390 202.43) rotate(0.03)" font-size="3.8" fill="#222">Arginine</text>
<line x1="388" y1="204.51" x2="389.2" y2="204.51" stroke="#333" stroke-width="0.3"/>
<text transform="translate(390 205.88) rotate(0.03)" font-size="3.8" fill="#222">Choline</text>
<line x1="388" y1="207.95" x2="389.2" y2="207.95" stroke="#333" stroke-width="0.3"/>
<text transform="translate(390 209.32) rotate(0.03)" font-size="3.8" fill="#222">Cysteine</text>
<line x1="388" y1="211.39" x2="389.2" y2="211.39" stroke="#333" stroke-width="0.3"/>
<text transform="translate(390 212.76) rotate(0.03)" font-size="3.8" fill="#222">Ornithine</text>
<line x1="388" y1="214.84" x2="389.2" y2="214.84" stroke="#333" stroke-width="0.3"/>
<text transform="translate(390 216.21) rotate(0.03)" font-size="3.8" fill="#222">Methionine</text>
<line x1="388" y1="218.28" x2="389.2" y2="218.28" stroke="#333" stroke-width="0.3"/>
<text transform="translate(390 219.65) rotate(0.03)" font-size="3.8" fill="#222">Hypoxanthine</text>
<line x1="388" y1="221.72" x2="389.2" y2="221.72" stroke="#333" stroke-width="0.3"/>
<text transform="translate(390 223.09) rotate(0.03)" font-size="3.8" fill="#222">cis-Aconitic acid</text>
<line x1="388" y1="225.17" x2="389.2" y2="225.17" stroke="#333" stroke-width="0.3"/>
<text transform="translate(390 226.53) rotate(0.03)" font-size="3.8" fill="#222">Isocitric acid</text>
<line x1="388" y1="228.61" x2="389.2" y2="228.61" stroke="#333" stroke-width="0.3"/>
<text transform="translate(390 229.98) rotate(0.03)" font-size="3.8" fill="#222">N-Acetyl-ornithine</text>
<line x1="388" y1="232.05" x2="389.2" y2="232.05" stroke="#333" stroke-width="0.3"/>
<text transform="translate(390 233.42) rotate(0.03)" font-size="3.8" fill="#222">Xanthine</text>
<line x1="388" y1="235.5" x2="389.2" y2="235.5" stroke="#333" stroke-width="0.3"/>
<text transform="translate(390 236.86) rotate(0.03)" font-size="3.8" fill="#222">Alanine</text>
<line x1="388" y1="238.94" x2="389.2" y2="238.94" stroke="#333" stroke-width="0.3"/>
<text transform="translate(390 240.31) rotate(0.03)" font-size="3.8" fill="#222">Pyroglutamic acid</text>
<line x1="388" y1="242.38" x2="389.2" y2="242.38" stroke="#333" stroke-width="0.3"/>
<text transform="translate(390 243.75) rotate(0.03)" font-size="3.8" fill="#222">Glycine</text>
<line x1="388" y1="245.82" x2="389.2" y2="245.82" stroke="#333" stroke-width="0.3"/>
<text transform="translate(390 247.19) rotate(0.03)" font-size="3.8" fill="#222">N-Acetyl-glucosamine</text>
<line x1="388" y1="249.27" x2="389.2" y2="249.27" stroke="#333" stroke-width="0.3"/>
<text transform="translate(390 250.64) rotate(0.03)" font-size="3.8" fill="#222">Sugar alcohol</text>
<line x1="388" y1="252.71" x2="389.2" y2="252.71" stroke="#333" stroke-width="0.3"/>
<text transform="translate(390 254.08) rotate(0.03)" font-size="3.8" fill="#222">Cystine</text>
<line x1="388" y1="256.15" x2="389.2" y2="256.15" stroke="#333" stroke-width="0.3"/>
<text transform="translate(390 257.52) rotate(0.03)" font-size="3.8" fill="#222">Pyrogallol</text>
<line x1="388" y1="259.6" x2="389.2" y2="259.6" stroke="#333" stroke-width="0.3"/>
<text transform="translate(390 260.96) rotate(0.03)" font-size="3.8" fill="#222">Propionylcarnitine</text>
<line x1="388" y1="263.04" x2="389.2" y2="263.04" stroke="#333" stroke-width="0.3"/>
<text transform="translate(390 264.41) rotate(0.03)" font-size="3.8" fill="#222">Valproic acid</text>
<line x1="388" y1="266.48" x2="389.2" y2="266.48" stroke="#333" stroke-width="0.3"/>
<text transform="translate(390 267.85) rotate(0.03)" font-size="3.8" fill="#222">Histidine</text>
<line x1="388" y1="269.93" x2="389.2" y2="269.93" stroke="#333" stroke-width="0.3"/>
<text transform="translate(390 271.29) rotate(0.03)" font-size="3.8" fill="#222">Spermine</text>
<line x1="388" y1="273.37" x2="389.2" y2="273.37" stroke="#333" stroke-width="0.3"/>
<text transform="translate(390 274.74) rotate(0.03)" font-size="3.8" fill="#222">Galactonic acid/Gluconic acid</text>
<line x1="388" y1="276.81" x2="389.2" y2="276.81" stroke="#333" stroke-width="0.3"/>
<text transform="translate(390 278.18) rotate(0.03)" font-size="3.8" fill="#222">3-Methylhistidine</text>
<line x1="388" y1="280.25" x2="389.2" y2="280.25" stroke="#333" stroke-width="0.3"/>
<text transform="translate(390 281.62) rotate(0.03)" font-size="3.8" fill="#222">Aldopentose</text>
<line x1="388" y1="283.7" x2="389.2" y2="283.7" stroke="#333" stroke-width="0.3"/>
<text transform="translate(390 285.07) rotate(0.03)" font-size="3.8" fill="#222">UMP</text>
<line x1="388" y1="287.14" x2="389.2" y2="287.14" stroke="#333" stroke-width="0.3"/>
<text transform="translate(390 288.51) rotate(0.03)" font-size="3.8" fill="#222">GMP</text>
<line x1="388" y1="290.58" x2="389.2" y2="290.58" stroke="#333" stroke-width="0.3"/>
<text transform="translate(390 291.95) rotate(0.03)" font-size="3.8" fill="#222">Putrescine</text>
<line x1="388" y1="294.03" x2="389.2" y2="294.03" stroke="#333" stroke-width="0.3"/>
<text transform="translate(390 295.39) rotate(0.03)" font-size="3.8" fill="#222">AMP</text>
<line x1="388" y1="297.47" x2="389.2" y2="297.47" stroke="#333" stroke-width="0.3"/>
<text transform="translate(390 298.84) rotate(0.03)" font-size="3.8" fill="#222">Adenosine</text>
<line x1="388" y1="300.91" x2="389.2" y2="300.91" stroke="#333" stroke-width="0.3"/>
<text transform="translate(390 302.28) rotate(0.03)" font-size="3.8" fill="#222">4-Hydroxybenzaldehyde</text>
<line x1="388" y1="304.36" x2="389.2" y2="304.36" stroke="#333" stroke-width="0.3"/>
<text transform="translate(390 305.72) rotate(0.03)" font-size="3.8" fill="#222">N-Acetyl-glycine</text>
<line x1="388" y1="307.8" x2="389.2" y2="307.8" stroke="#333" stroke-width="0.3"/>
<text transform="translate(390 309.17) rotate(0.03)" font-size="3.8" fill="#222">CMP</text>
<line x1="388" y1="311.24" x2="389.2" y2="311.24" stroke="#333" stroke-width="0.3"/>
<text transform="translate(390 312.61) rotate(0.03)" font-size="3.8" fill="#222">N-acetyl-methionine</text>
<line x1="388" y1="314.68" x2="389.2" y2="314.68" stroke="#333" stroke-width="0.3"/>
<text transform="translate(390 316.05) rotate(0.03)" font-size="3.8" fill="#222">IMP</text>
<line x1="388" y1="318.13" x2="389.2" y2="318.13" stroke="#333" stroke-width="0.3"/>
<text transform="translate(390 319.5) rotate(0.03)" font-size="3.8" fill="#222">Hydroxyphenyllactic acid</text>
<line x1="388" y1="321.57" x2="389.2" y2="321.57" stroke="#333" stroke-width="0.3"/>
<text transform="translate(390 322.94) rotate(0.03)" font-size="3.8" fill="#222">Glutathione oxidized</text>
<line x1="388" y1="325.01" x2="389.2" y2="325.01" stroke="#333" stroke-width="0.3"/>
<text transform="translate(390 326.38) rotate(0.03)" font-size="3.8" fill="#222">CDP-choline</text>
<line x1="388" y1="328.46" x2="389.2" y2="328.46" stroke="#333" stroke-width="0.3"/>
<text transform="translate(390 329.82) rotate(0.03)" font-size="3.8" fill="#222">Imidazole</text>
<line x1="388" y1="331.9" x2="389.2" y2="331.9" stroke="#333" stroke-width="0.3"/>
<text transform="translate(390 333.27) rotate(0.03)" font-size="3.8" fill="#222">CDP-ethanolamine</text>
<line x1="388" y1="335.34" x2="389.2" y2="335.34" stroke="#333" stroke-width="0.3"/>
<text transform="translate(390 336.71) rotate(0.03)" font-size="3.8" fill="#222">N-Acetyl-arginine</text>
<line x1="388" y1="338.79" x2="389.2" y2="338.79" stroke="#333" stroke-width="0.3"/>
<text transform="translate(390 340.15) rotate(0.03)" font-size="3.8" fill="#222">Glutamine</text>
<defs><linearGradient id="mk" x1="0" y1="1" x2="0" y2="0">
<stop offset="0" stop-color="#0B0405"/>
<stop offset="0.11" stop-color="#28192F"/>
<stop offset="0.22" stop-color="#3B2F5E"/>
<stop offset="0.33" stop-color="#40498E"/>
<stop offset="0.44" stop-color="#366A9F"/>
<stop offset="0.56" stop-color="#348AA6"/>
<stop offset="0.67" stop-color="#38AAAC"/>
<stop offset="0.78" stop-color="#54C9AD"/>
<stop offset="0.89" stop-color="#A0DFB9"/>
<stop offset="1" stop-color="#DEF5E5"/>
</linearGradient></defs>
<rect x="218.3" y="162.7" width="6.3" height="37.2" fill="url(#mk)"/>
<text transform="translate(227.8 166.7) rotate(0.03)" font-size="3.3" fill="#222">2</text>
<text transform="translate(227.8 174.9) rotate(0.03)" font-size="3.3" fill="#222">1</text>
<text transform="translate(227.8 183.1) rotate(0.03)" font-size="3.3" fill="#222">0</text>
<text transform="translate(227.8 191.3) rotate(0.03)" font-size="3.3" fill="#222">-1</text>
<text transform="translate(227.8 199.5) rotate(0.03)" font-size="3.3" fill="#222">-2</text>
<rect x="15.1" y="375.7" width="80.8" height="89.8" fill="#fff" stroke="#555" stroke-width="0.4"/>
<line x1="18.5" y1="375.9" x2="18.5" y2="465.3" stroke="#e6e6e6" stroke-width="0.4"/>
<line x1="27.11" y1="375.9" x2="27.11" y2="465.3" stroke="#f0f0f0" stroke-width="0.25"/>
<line x1="18.5" y1="465.5" x2="18.5" y2="466.5" stroke="#333" stroke-width="0.3"/>
<text transform="translate(18.5 470.7) rotate(0.03)" font-size="3.8" text-anchor="middle" fill="#333">0</text>
<line x1="35.72" y1="375.9" x2="35.72" y2="465.3" stroke="#e6e6e6" stroke-width="0.4"/>
<line x1="44.34" y1="375.9" x2="44.34" y2="465.3" stroke="#f0f0f0" stroke-width="0.25"/>
<line x1="35.72" y1="465.5" x2="35.72" y2="466.5" stroke="#333" stroke-width="0.3"/>
<text transform="translate(35.72 470.7) rotate(0.03)" font-size="3.8" text-anchor="middle" fill="#333">5</text>
<line x1="52.95" y1="375.9" x2="52.95" y2="465.3" stroke="#e6e6e6" stroke-width="0.4"/>
<line x1="61.56" y1="375.9" x2="61.56" y2="465.3" stroke="#f0f0f0" stroke-width="0.25"/>
<line x1="52.95" y1="465.5" x2="52.95" y2="466.5" stroke="#333" stroke-width="0.3"/>
<text transform="translate(52.95 470.7) rotate(0.03)" font-size="3.8" text-anchor="middle" fill="#333">10</text>
<line x1="70.17" y1="375.9" x2="70.17" y2="465.3" stroke="#e6e6e6" stroke-width="0.4"/>
<line x1="78.79" y1="375.9" x2="78.79" y2="465.3" stroke="#f0f0f0" stroke-width="0.25"/>
<line x1="70.17" y1="465.5" x2="70.17" y2="466.5" stroke="#333" stroke-width="0.3"/>
<text transform="translate(70.17 470.7) rotate(0.03)" font-size="3.8" text-anchor="middle" fill="#333">15</text>
<line x1="87.4" y1="375.9" x2="87.4" y2="465.3" stroke="#e6e6e6" stroke-width="0.4"/>
<line x1="87.4" y1="465.5" x2="87.4" y2="466.5" stroke="#333" stroke-width="0.3"/>
<text transform="translate(87.4 470.7) rotate(0.03)" font-size="3.8" text-anchor="middle" fill="#333">20</text>
<line x1="15.3" y1="380.7" x2="95.7" y2="380.7" stroke="#e6e6e6" stroke-width="0.4"/>
<line x1="15.3" y1="388.7" x2="95.7" y2="388.7" stroke="#e6e6e6" stroke-width="0.4"/>
<line x1="15.3" y1="396.8" x2="95.7" y2="396.8" stroke="#e6e6e6" stroke-width="0.4"/>
<line x1="15.3" y1="404.8" x2="95.7" y2="404.8" stroke="#e6e6e6" stroke-width="0.4"/>
<line x1="15.3" y1="412.9" x2="95.7" y2="412.9" stroke="#e6e6e6" stroke-width="0.4"/>
<line x1="15.3" y1="421" x2="95.7" y2="421" stroke="#e6e6e6" stroke-width="0.4"/>
<line x1="15.3" y1="429.1" x2="95.7" y2="429.1" stroke="#e6e6e6" stroke-width="0.4"/>
<line x1="15.3" y1="437.1" x2="95.7" y2="437.1" stroke="#e6e6e6" stroke-width="0.4"/>
<line x1="15.3" y1="445.2" x2="95.7" y2="445.2" stroke="#e6e6e6" stroke-width="0.4"/>
<line x1="15.3" y1="453.2" x2="95.7" y2="453.2" stroke="#e6e6e6" stroke-width="0.4"/>
<line x1="15.3" y1="461.3" x2="95.7" y2="461.3" stroke="#e6e6e6" stroke-width="0.4"/>
<line x1="18.5" y1="380.7" x2="64.9" y2="380.7" stroke="#000" stroke-width="2.6"/>
<circle cx="64.9" cy="380.7" r="1.55" fill="#bbb" stroke="#444" stroke-width="0.45"/>
<line x1="95.9" y1="380.7" x2="96.9" y2="380.7" stroke="#333" stroke-width="0.3"/>
<text transform="translate(98.4 382.81) rotate(0.03)" font-size="5.85" fill="#222">Aminoacyl-tRNA biosynthesis</text>
<line x1="18.5" y1="388.7" x2="71" y2="388.7" stroke="#000" stroke-width="2.6"/>
<circle cx="71" cy="388.7" r="1.55" fill="#bbb" stroke="#444" stroke-width="0.45"/>
<line x1="95.9" y1="388.7" x2="96.9" y2="388.7" stroke="#333" stroke-width="0.3"/>
<text transform="translate(98.4 390.81) rotate(0.03)" font-size="5.85" fill="#222">Arginine biosynthesis</text>
<line x1="18.5" y1="396.8" x2="45.8" y2="396.8" stroke="#000" stroke-width="2.6"/>
<circle cx="45.8" cy="396.8" r="1.55" fill="#bbb" stroke="#444" stroke-width="0.45"/>
<line x1="95.9" y1="396.8" x2="96.9" y2="396.8" stroke="#333" stroke-width="0.3"/>
<text transform="translate(98.4 398.91) rotate(0.03)" font-size="5.85" fill="#222">Arginine and proline metabolism</text>
<line x1="18.5" y1="404.8" x2="92.2" y2="404.8" stroke="#000" stroke-width="2.6"/>
<circle cx="92.2" cy="404.8" r="1.55" fill="#bbb" stroke="#444" stroke-width="0.45"/>
<line x1="95.9" y1="404.8" x2="96.9" y2="404.8" stroke="#333" stroke-width="0.3"/>
<text transform="translate(98.4 406.91) rotate(0.03)" font-size="5.85" fill="#222">Valine, leucine and isoleucine biosynthesis</text>
<line x1="18.5" y1="412.9" x2="50.3" y2="412.9" stroke="#000" stroke-width="2.6"/>
<circle cx="50.3" cy="412.9" r="1.55" fill="#bbb" stroke="#444" stroke-width="0.45"/>
<line x1="95.9" y1="412.9" x2="96.9" y2="412.9" stroke="#333" stroke-width="0.3"/>
<text transform="translate(98.4 415.01) rotate(0.03)" font-size="5.85" fill="#222">Glutathione metabolism</text>
<line x1="18.5" y1="421" x2="92.2" y2="421" stroke="#000" stroke-width="2.6"/>
<circle cx="92.2" cy="421" r="1.55" fill="#bbb" stroke="#444" stroke-width="0.45"/>
<line x1="95.9" y1="421" x2="96.9" y2="421" stroke="#333" stroke-width="0.3"/>
<text transform="translate(98.4 423.11) rotate(0.03)" font-size="5.85" fill="#222">Phenylalanine, tyrosine and tryptophan biosynthesis</text>
<line x1="18.5" y1="429.1" x2="39.7" y2="429.1" stroke="#000" stroke-width="2.6"/>
<circle cx="39.7" cy="429.1" r="1.55" fill="#bbb" stroke="#444" stroke-width="0.45"/>
<line x1="95.9" y1="429.1" x2="96.9" y2="429.1" stroke="#333" stroke-width="0.3"/>
<text transform="translate(98.4 431.21) rotate(0.03)" font-size="5.85" fill="#222">Alanine, aspartate and glutamate metabolism</text>
<line x1="18.5" y1="437.1" x2="67.8" y2="437.1" stroke="#000" stroke-width="2.6"/>
<circle cx="67.8" cy="437.1" r="1.55" fill="#bbb" stroke="#444" stroke-width="0.45"/>
<line x1="95.9" y1="437.1" x2="96.9" y2="437.1" stroke="#333" stroke-width="0.3"/>
<text transform="translate(98.4 439.21) rotate(0.03)" font-size="5.85" fill="#222">D-Glutamine and D-glutamate metabolism</text>
<line x1="18.5" y1="445.2" x2="67.8" y2="445.2" stroke="#000" stroke-width="2.6"/>
<circle cx="67.8" cy="445.2" r="1.55" fill="#bbb" stroke="#444" stroke-width="0.45"/>
<line x1="95.9" y1="445.2" x2="96.9" y2="445.2" stroke="#333" stroke-width="0.3"/>
<text transform="translate(98.4 447.31) rotate(0.03)" font-size="5.85" fill="#222">Nitrogen metabolism</text>
<line x1="18.5" y1="453.2" x2="40.8" y2="453.2" stroke="#000" stroke-width="2.6"/>
<circle cx="40.8" cy="453.2" r="1.55" fill="#bbb" stroke="#444" stroke-width="0.45"/>
<line x1="95.9" y1="453.2" x2="96.9" y2="453.2" stroke="#333" stroke-width="0.3"/>
<text transform="translate(98.4 455.31) rotate(0.03)" font-size="5.85" fill="#222">Citrate cycle (TCA cycle)</text>
<line x1="18.5" y1="461.3" x2="33.9" y2="461.3" stroke="#000" stroke-width="2.6"/>
<circle cx="33.9" cy="461.3" r="1.55" fill="#bbb" stroke="#444" stroke-width="0.45"/>
<line x1="95.9" y1="461.3" x2="96.9" y2="461.3" stroke="#333" stroke-width="0.3"/>
<text transform="translate(98.4 463.41) rotate(0.03)" font-size="5.85" fill="#222">Pyrimidine metabolism</text>
<text transform="translate(55.5 477.2) rotate(0.03)" font-size="4.9" text-anchor="middle" fill="#222">Enrichment ratio</text>
<rect x="237.7" y="375.7" width="78.9" height="90.8" fill="#fff" stroke="#555" stroke-width="0.4"/>
<line x1="241.4" y1="375.9" x2="241.4" y2="466.3" stroke="#e6e6e6" stroke-width="0.4"/>
<line x1="248.42" y1="375.9" x2="248.42" y2="466.3" stroke="#f0f0f0" stroke-width="0.25"/>
<line x1="241.4" y1="466.5" x2="241.4" y2="467.5" stroke="#333" stroke-width="0.3"/>
<text transform="translate(241.4 471.7) rotate(0.03)" font-size="3.8" text-anchor="middle" fill="#333">0</text>
<line x1="255.44" y1="375.9" x2="255.44" y2="466.3" stroke="#e6e6e6" stroke-width="0.4"/>
<line x1="262.46" y1="375.9" x2="262.46" y2="466.3" stroke="#f0f0f0" stroke-width="0.25"/>
<line x1="255.44" y1="466.5" x2="255.44" y2="467.5" stroke="#333" stroke-width="0.3"/>
<text transform="translate(255.44 471.7) rotate(0.03)" font-size="3.8" text-anchor="middle" fill="#333">10</text>
<line x1="269.48" y1="375.9" x2="269.48" y2="466.3" stroke="#e6e6e6" stroke-width="0.4"/>
<line x1="276.5" y1="375.9" x2="276.5" y2="466.3" stroke="#f0f0f0" stroke-width="0.25"/>
<line x1="269.48" y1="466.5" x2="269.48" y2="467.5" stroke="#333" stroke-width="0.3"/>
<text transform="translate(269.48 471.7) rotate(0.03)" font-size="3.8" text-anchor="middle" fill="#333">20</text>
<line x1="283.52" y1="375.9" x2="283.52" y2="466.3" stroke="#e6e6e6" stroke-width="0.4"/>
<line x1="290.54" y1="375.9" x2="290.54" y2="466.3" stroke="#f0f0f0" stroke-width="0.25"/>
<line x1="283.52" y1="466.5" x2="283.52" y2="467.5" stroke="#333" stroke-width="0.3"/>
<text transform="translate(283.52 471.7) rotate(0.03)" font-size="3.8" text-anchor="middle" fill="#333">30</text>
<line x1="297.56" y1="375.9" x2="297.56" y2="466.3" stroke="#e6e6e6" stroke-width="0.4"/>
<line x1="304.58" y1="375.9" x2="304.58" y2="466.3" stroke="#f0f0f0" stroke-width="0.25"/>
<line x1="297.56" y1="466.5" x2="297.56" y2="467.5" stroke="#333" stroke-width="0.3"/>
<text transform="translate(297.56 471.7) rotate(0.03)" font-size="3.8" text-anchor="middle" fill="#333">40</text>
<line x1="311.6" y1="375.9" x2="311.6" y2="466.3" stroke="#e6e6e6" stroke-width="0.4"/>
<line x1="311.6" y1="466.5" x2="311.6" y2="467.5" stroke="#333" stroke-width="0.3"/>
<text transform="translate(311.6 471.7) rotate(0.03)" font-size="3.8" text-anchor="middle" fill="#333">50</text>
<line x1="237.9" y1="381.3" x2="316.4" y2="381.3" stroke="#e6e6e6" stroke-width="0.4"/>
<line x1="237.9" y1="390.3" x2="316.4" y2="390.3" stroke="#e6e6e6" stroke-width="0.4"/>
<line x1="237.9" y1="399.3" x2="316.4" y2="399.3" stroke="#e6e6e6" stroke-width="0.4"/>
<line x1="237.9" y1="408.3" x2="316.4" y2="408.3" stroke="#e6e6e6" stroke-width="0.4"/>
<line x1="237.9" y1="417.3" x2="316.4" y2="417.3" stroke="#e6e6e6" stroke-width="0.4"/>
<line x1="237.9" y1="426.3" x2="316.4" y2="426.3" stroke="#e6e6e6" stroke-width="0.4"/>
<line x1="237.9" y1="435.3" x2="316.4" y2="435.3" stroke="#e6e6e6" stroke-width="0.4"/>
<line x1="237.9" y1="444.2" x2="316.4" y2="444.2" stroke="#e6e6e6" stroke-width="0.4"/>
<line x1="237.9" y1="453.1" x2="316.4" y2="453.1" stroke="#e6e6e6" stroke-width="0.4"/>
<line x1="237.9" y1="462" x2="316.4" y2="462" stroke="#e6e6e6" stroke-width="0.4"/>
<line x1="241.4" y1="381.3" x2="295.2" y2="381.3" stroke="#000" stroke-width="2.6"/>
<circle cx="295.2" cy="381.3" r="1.55" fill="#bbb" stroke="#444" stroke-width="0.45"/>
<line x1="316.6" y1="381.3" x2="317.6" y2="381.3" stroke="#333" stroke-width="0.3"/>
<text transform="translate(319.6 383.39) rotate(0.03)" font-size="5.8" fill="#222">Histidine metabolism</text>
<line x1="241.4" y1="390.3" x2="282.5" y2="390.3" stroke="#000" stroke-width="2.6"/>
<circle cx="282.5" cy="390.3" r="1.55" fill="#bbb" stroke="#444" stroke-width="0.45"/>
<line x1="316.6" y1="390.3" x2="317.6" y2="390.3" stroke="#333" stroke-width="0.3"/>
<text transform="translate(319.6 392.39) rotate(0.03)" font-size="5.8" fill="#222">beta-Alanine metabolism</text>
<line x1="241.4" y1="399.3" x2="272.1" y2="399.3" stroke="#000" stroke-width="2.6"/>
<circle cx="272.1" cy="399.3" r="1.55" fill="#bbb" stroke="#444" stroke-width="0.45"/>
<line x1="316.6" y1="399.3" x2="317.6" y2="399.3" stroke="#333" stroke-width="0.3"/>
<text transform="translate(319.6 401.39) rotate(0.03)" font-size="5.8" fill="#222">Glutathione metabolism</text>
<line x1="241.4" y1="408.3" x2="313.5" y2="408.3" stroke="#000" stroke-width="2.6"/>
<circle cx="313.5" cy="408.3" r="1.55" fill="#fff" stroke="#444" stroke-width="0.45"/>
<line x1="316.6" y1="408.3" x2="317.6" y2="408.3" stroke="#333" stroke-width="0.3"/>
<text transform="translate(319.6 410.39) rotate(0.03)" font-size="5.8" fill="#222">D-Glutamine and D-glutamate metabolism</text>
<line x1="241.4" y1="417.3" x2="302.9" y2="417.3" stroke="#000" stroke-width="2.6"/>
<circle cx="302.9" cy="417.3" r="1.55" fill="#fff" stroke="#444" stroke-width="0.45"/>
<line x1="316.6" y1="417.3" x2="317.6" y2="417.3" stroke="#333" stroke-width="0.3"/>
<text transform="translate(319.6 419.39) rotate(0.03)" font-size="5.8" fill="#222">Thiamine metabolism</text>
<line x1="241.4" y1="426.3" x2="295.2" y2="426.3" stroke="#000" stroke-width="2.6"/>
<circle cx="295.2" cy="426.3" r="1.55" fill="#fff" stroke="#444" stroke-width="0.45"/>
<line x1="316.6" y1="426.3" x2="317.6" y2="426.3" stroke="#333" stroke-width="0.3"/>
<text transform="translate(319.6 428.39) rotate(0.03)" font-size="5.8" fill="#222">Taurine and hypotaurine metabolism</text>
<line x1="241.4" y1="435.3" x2="272.1" y2="435.3" stroke="#000" stroke-width="2.6"/>
<circle cx="272.1" cy="435.3" r="1.55" fill="#fff" stroke="#444" stroke-width="0.45"/>
<line x1="316.6" y1="435.3" x2="317.6" y2="435.3" stroke="#333" stroke-width="0.3"/>
<text transform="translate(319.6 437.39) rotate(0.03)" font-size="5.8" fill="#222">Arginine biosynthesis</text>
<line x1="241.4" y1="444.2" x2="270" y2="444.2" stroke="#000" stroke-width="2.6"/>
<circle cx="270" cy="444.2" r="1.55" fill="#fff" stroke="#444" stroke-width="0.45"/>
<line x1="316.6" y1="444.2" x2="317.6" y2="444.2" stroke="#333" stroke-width="0.3"/>
<text transform="translate(319.6 446.29) rotate(0.03)" font-size="5.8" fill="#222">Butanoate metabolism</text>
<line x1="241.4" y1="453.1" x2="263.9" y2="453.1" stroke="#000" stroke-width="2.6"/>
<circle cx="263.9" cy="453.1" r="1.55" fill="#fff" stroke="#444" stroke-width="0.45"/>
<line x1="316.6" y1="453.1" x2="317.6" y2="453.1" stroke="#333" stroke-width="0.3"/>
<text transform="translate(319.6 455.19) rotate(0.03)" font-size="5.8" fill="#222">Pantothenate and CoA biosynthesis</text>
<line x1="241.4" y1="462" x2="262.9" y2="462" stroke="#000" stroke-width="2.6"/>
<circle cx="262.9" cy="462" r="1.55" fill="#fff" stroke="#444" stroke-width="0.45"/>
<line x1="316.6" y1="462" x2="317.6" y2="462" stroke="#333" stroke-width="0.3"/>
<text transform="translate(319.6 464.09) rotate(0.03)" font-size="5.8" fill="#222">Citrate cycle (TCA cycle)</text>
<text transform="translate(277.15 478.2) rotate(0.03)" font-size="4.9" text-anchor="middle" fill="#222">Enrichment ratio</text>
<text transform="translate(397 373.6) rotate(0.03)" font-size="4.5" font-weight="bold" fill="#222">FDR &lt; 0.1</text>
<circle cx="400.6" cy="381" r="1.3" fill="#fff" stroke="#444" stroke-width="0.4"/>
<circle cx="400.6" cy="388.3" r="1.3" fill="#bbb" stroke="#444" stroke-width="0.4"/>
<text transform="translate(405.8 382.3) rotate(0.03)" font-size="3.8" fill="#222">FALSE</text>
<text transform="translate(405.8 389.6) rotate(0.03)" font-size="3.8" fill="#222">TRUE</text>
<defs>
<linearGradient id="sjn" x1="0" y1="0" x2="0" y2="1"><stop offset="0.25" stop-color="#fbfbfb"/><stop offset="0.5" stop-color="#e9e9e9"/><stop offset="1" stop-color="#d0d0d0"/></linearGradient>
<linearGradient id="sja" x1="0" y1="0" x2="1" y2="0"><stop offset="0" stop-color="#cfcfcf"/><stop offset="0.5" stop-color="#dcdcdc"/><stop offset="1" stop-color="#fbfbfb"/></linearGradient>
<linearGradient id="sjp" x1="0" y1="0" x2="0" y2="1"><stop offset="0" stop-color="#ffffff"/><stop offset="0.5" stop-color="#f7f7f7"/><stop offset="1" stop-color="#d8d8d8"/></linearGradient>
<linearGradient id="sjf" x1="0" y1="0" x2="0" y2="1"><stop offset="0" stop-color="#222"/><stop offset="0.78" stop-color="#222"/><stop offset="1" stop-color="#222" stop-opacity="0.15"/></linearGradient>
<clipPath id="sjc"><circle cx="509.5" cy="392.3" r="71.7"/></clipPath>
</defs>
<path d="M478.67 327.56A71.7 71.7 0 1 0 579.01 409.89" fill="none" stroke="url(#sjf)" stroke-width="0.6"/>
<path d="M509.12 322.17A74.26 74.26 0 0 1 581.21 393.68" fill="none" stroke="#222" stroke-width="0.6"/>
<g transform="translate(0 0)">
<g clip-path="url(#sjc)" transform="translate(0 0)">
<g transform="translate(0 0)">
<path d="M479.5 329.3 C476 342 472.5 352 470.5 360 C468 369 464 377 463.3 384 C463 389 465 390.5 469 390.5 L484.8 390.5 A2.3 2.3 0 0 1 489.4 390.5 L496.2 390.5 A2.3 2.3 0 0 1 500.8 390.5 L518 390.5 C522.5 390.5 524 387.5 522.6 383.5 C520 376 514.5 366 512 354 C510.3 345 509.5 334 509.1 323 L509.1 300 L479.5 300 Z" fill="url(#sjn)"/>
<path d="M536.6 389.3 C539.5 386.5 542 380.5 547.5 379.4 C553 378.6 556.5 381.5 559.5 385 C562.5 388.6 566 390.6 571 391.3 L590 395 L590 409.6 L571 409.8 C565 410 560.5 412.5 556 414.6 C551 417 544.5 416.5 540.5 413.8 C536.5 411 534.6 408 533.8 404 C533 399 534 393 536.6 389.3 Z" fill="url(#sja)"/>
<path d="M474 470 C473.5 458 472.5 450 470.5 444 C468 436 465.6 432 466 427.5 C466.5 423 468.5 420.6 472.5 420.4 L503 420.4 C507 420.6 508.6 424 508.4 428.5 C508.2 434 504.5 440 500.5 445 C496.5 450.5 494.5 456 494 470 Z" fill="url(#sjp)"/>
</g></g>
<path d="M479.5 329.3 C476 342 472.5 352 470.5 360 C468 369 464 377 463.3 384 C463 389 465 390.5 469 390.5 L484.8 390.5 A2.3 2.3 0 0 1 489.4 390.5 L496.2 390.5 A2.3 2.3 0 0 1 500.8 390.5 L518 390.5 C522.5 390.5 524 387.5 522.6 383.5 C520 376 514.5 366 512 354 C510.3 345 509.5 334 509.1 323" fill="none" stroke="#222" stroke-width="0.6"/>
<path d="M522.8 384.5 C524.5 388 529 389.6 536.6 389.4" fill="none" stroke="#222" stroke-width="0.6"/>
<path d="M536.6 389.3 C539.5 386.5 542 380.5 547.5 379.4 C553 378.6 556.5 381.5 559.5 385 C562.5 388.6 566 390.6 571 391.3 L581.21 393.68" fill="none" stroke="#222" stroke-width="0.6"/>
<path d="M580 409.7 L571 409.8 C565 410 560.5 412.5 556 414.6 C551 417 544.5 416.5 540.5 413.8 C536.5 411 534.6 408 533.8 404 C533 399 534 393 536.6 389.3" fill="none" stroke="#222" stroke-width="0.6"/>
<path d="M473.9 455.5 C473.3 450 472 447 470.5 444 C468 436 465.6 432 466 427.5 C466.5 423 468.5 420.6 472.5 420.4 L503 420.4 C507 420.6 508.6 424 508.4 428.5 C508.2 434 504.5 440 500.5 445 C496.8 450 494.6 455 494.1 462.5" fill="none" stroke="#222" stroke-width="0.6"/>
<circle cx="483.6" cy="350.6" r="9" fill="#e9e9e9" stroke="#111" stroke-width="1"/>
<path d="M474.7 352.2L473.8 349.56L476.04 349.76Z" fill="#111"/>
<path d="M492.6 349L493.5 351.64L491.26 351.44Z" fill="#111"/>
<text transform="translate(483.6 350) rotate(0.03)" font-size="3" text-anchor="middle" fill="#777">TCA</text>
<text transform="translate(483.6 353.4) rotate(0.03)" font-size="3" text-anchor="middle" fill="#777">cycle</text>
<line x1="498.3" y1="378.1" x2="498.3" y2="356" stroke="#111" stroke-width="0.6"/>
<path d="M498.3 353.4L499.57 356.29L497.03 356.29Z" fill="#111"/>
<line x1="487.7" y1="370.5" x2="487.7" y2="376" stroke="#111" stroke-width="0.6"/>
<path d="M487.7 368.6L488.68 370.81L486.72 370.81Z" fill="#111"/>
<path d="M487.7 377.9L486.72 375.69L488.68 375.69Z" fill="#111"/>
<line x1="498.3" y1="368.7" x2="503.4" y2="368.7" stroke="#111" stroke-width="0.6"/>
<line x1="503" y1="381.3" x2="519" y2="381.3" stroke="#111" stroke-width="0.6"/>
<path d="M500.8 381.3L503.69 380.03L503.69 382.57Z" fill="#111"/>
<circle cx="508.1" cy="381.4" r="1.1" fill="#fff" stroke="#666" stroke-width="0.3"/>
<path d="M484.6 381.6 C479 382 476.6 386 476.6 391 C476.4 399 478 405 484.5 407.3" fill="none" stroke="#111" stroke-width="0.7"/>
<line x1="499.5" y1="407.2" x2="538.4" y2="407.2" stroke="#111" stroke-width="0.7"/>
<path d="M540.6 407.2L537.71 408.47L537.71 405.93Z" fill="#111"/>
<line x1="547.4" y1="403.5" x2="547.4" y2="395.3" stroke="#111" stroke-width="0.6"/>
<path d="M547.4 393.2L548.38 395.41L546.42 395.41Z" fill="#111"/>
<rect x="495.9" y="345.1" width="7.9" height="6.9" fill="#5a9fd4"/>
<rect x="503.8" y="345.1" width="7.9" height="6.9" fill="#b94a4c"/>
<rect x="495.9" y="345.1" width="15.8" height="6.9" fill="none" stroke="#3b5f80" stroke-width="0.25"/>
<text transform="translate(503.8 350.55) rotate(0.03)" font-size="5.6" text-anchor="middle" fill="#1b2836" letter-spacing="0.45">GSH</text>
<rect x="474.9" y="361.4" width="7.79" height="6.9" fill="#5a9fd4"/>
<rect x="482.69" y="361.4" width="9.52" height="6.9" fill="#b94a4c"/>
<rect x="474.9" y="361.4" width="17.3" height="6.9" fill="none" stroke="#3b5f80" stroke-width="0.25"/>
<text transform="translate(483.55 366.85) rotate(0.03)" font-size="5.6" text-anchor="middle" fill="#1b2836" letter-spacing="0.45">2-OG</text>
<rect x="503.4" y="365.2" width="6.68" height="7" fill="#5a9fd4"/>
<rect x="510.08" y="365.2" width="9.22" height="7" fill="#b94a4c"/>
<rect x="503.4" y="365.2" width="15.9" height="7" fill="none" stroke="#3b5f80" stroke-width="0.25"/>
<text transform="translate(511.35 370.75) rotate(0.03)" font-size="5.6" text-anchor="middle" fill="#1b2836" letter-spacing="0.45">GLY</text>
<rect x="484.6" y="378.1" width="9.54" height="7.1" fill="#5a9fd4"/>
<rect x="494.14" y="378.1" width="6.36" height="7.1" fill="#b94a4c"/>
<rect x="484.6" y="378.1" width="15.9" height="7.1" fill="none" stroke="#3b5f80" stroke-width="0.25"/>
<text transform="translate(492.55 383.75) rotate(0.03)" font-size="5.6" text-anchor="middle" fill="#1b2836" letter-spacing="0.45">GLU</text>
<rect x="540.7" y="386.2" width="8.74" height="6.8" fill="#5a9fd4"/>
<rect x="549.45" y="386.2" width="7.15" height="6.8" fill="#b94a4c"/>
<rect x="540.7" y="386.2" width="15.9" height="6.8" fill="none" stroke="#3b5f80" stroke-width="0.25"/>
<text transform="translate(548.65 391.55) rotate(0.03)" font-size="5.6" text-anchor="middle" fill="#1b2836" letter-spacing="0.45">GLN</text>
<rect x="540.7" y="403.6" width="7.95" height="7.1" fill="#5a9fd4"/>
<rect x="548.65" y="403.6" width="7.95" height="7.1" fill="#b94a4c"/>
<rect x="540.7" y="403.6" width="15.9" height="7.1" fill="none" stroke="#3b5f80" stroke-width="0.25"/>
<text transform="translate(548.65 409.25) rotate(0.03)" font-size="5.6" text-anchor="middle" fill="#1b2836" letter-spacing="0.45">GLU</text>
<rect x="464.4" y="386.2" width="5" height="5" rx="1.8" fill="#5a9fd4" stroke="#4a80ad" stroke-width="0.3"/>
<g transform="translate(476.5 389.9) rotate(0)"><path d="M0 -3.2 A2.2 3.2 0 0 0 0 3.2 Z" fill="#5a9fd4"/><path d="M0 -3.2 A2.2 3.2 0 0 1 0 3.2 Z" fill="#b94a4c"/></g>
<rect x="518.8" y="380.3" width="5.8" height="4.0" rx="1.5" fill="#5a9fd4"/><path d="M518.8 382.2 L524.6 382.6 L524.6 382.8 A1.5 1.5 0 0 1 523.1 384.3 L520.3 384.3 A1.5 1.5 0 0 1 518.8 382.8 Z" fill="#b94a4c"/>
<circle cx="536.6" cy="389.3" r="2.6" fill="#5a9fd4" stroke="#4a80ad" stroke-width="0.3"/>
<g transform="translate(549.2 379.1) rotate(12)"><path d="M0 -2.9 A2 2.9 0 0 0 0 2.9 Z" fill="#5a9fd4"/><path d="M0 -2.9 A2 2.9 0 0 1 0 2.9 Z" fill="#b94a4c"/></g>
<rect x="529.3" y="405.2" width="5.8" height="3.9" rx="1.6" fill="#b94a4c" stroke="#7d3032" stroke-width="0.3"/>
<g transform="translate(570.2 397.4) rotate(0)"><path d="M0 -1.2 A1.2 1.2 0 0 0 0 1.2 Z" fill="#5a9fd4"/><path d="M0 -1.2 A1.2 1.2 0 0 1 0 1.2 Z" fill="#b94a4c"/></g>
<circle cx="547.4" cy="399.3" r="1" fill="#5a9fd4" stroke="#4a80ad" stroke-width="0.3"/>
<rect x="477.6" y="418.1" width="4.1" height="4.1" rx="0.8" fill="#fff" stroke="#666" stroke-width="0.3"/>
<rect x="492.4" y="417.8" width="4.4" height="4.6" rx="1.2" fill="#5a9fd4" stroke="#4a80ad" stroke-width="0.3"/>
<text transform="translate(521.7 354.7) rotate(0.03)" font-size="6.35" font-weight="bold" fill="#111">Pre-synaptic</text>
<text transform="translate(521.7 361.5) rotate(0.03)" font-size="6.35" font-weight="bold" fill="#111">neuron</text>
<text transform="translate(539.9 422) rotate(0.03)" font-size="6.35" font-weight="bold" fill="#111">Astrocyte</text>
<text transform="translate(509.7 436) rotate(0.03)" font-size="6.35" font-weight="bold" fill="#111">Post-synaptic</text>
<text transform="translate(509.7 443) rotate(0.03)" font-size="6.35" font-weight="bold" fill="#111">neuron</text>
<text transform="translate(484.6 409.6) rotate(0.03)" font-size="6.3" fill="#333" letter-spacing="0.15">GLU</text>
<text transform="translate(525.4 381.3) rotate(0.03)" font-size="4.2" fill="#3c3c3c">SNAT1</text>
<text transform="translate(520 395) rotate(0.03)" font-size="4.2" fill="#3c3c3c">SNAT3</text>
<text transform="translate(552 377.4) rotate(0.03)" font-size="5.2" fill="#3c3c3c">Grm3</text>
<text transform="translate(565 403) rotate(0.03)" font-size="3.4" fill="#3c3c3c">GFAP</text>
<text transform="translate(519.2 414) rotate(0.03)" font-size="4.2" fill="#3c3c3c">GLAST</text>
<text transform="translate(459.5 396.6) rotate(0.03)" font-size="4.2" fill="#3c3c3c">Nr3c1</text>
<text transform="translate(479.5 396.6) rotate(0.03)" font-size="4.2" fill="#3c3c3c">GLT-1</text>
<text transform="translate(504.3 378.8) rotate(0.03)" font-size="3.4" fill="#3c3c3c">PAG</text>
<text transform="translate(549.6 400.4) rotate(0.03)" font-size="3" fill="#3c3c3c">GS</text>
<text transform="translate(465 416.9) rotate(0.03)" font-size="5.2" fill="#3c3c3c">Grm5</text>
<text transform="translate(497.6 417.6) rotate(0.03)" font-size="4.2" fill="#3c3c3c">NMDAR</text>
</g>
<defs>
<linearGradient id="skn" x1="0" y1="0" x2="0" y2="1"><stop offset="0.25" stop-color="#fbfbfb"/><stop offset="0.5" stop-color="#e9e9e9"/><stop offset="1" stop-color="#d0d0d0"/></linearGradient>
<linearGradient id="ska" x1="0" y1="0" x2="1" y2="0"><stop offset="0" stop-color="#cfcfcf"/><stop offset="0.5" stop-color="#dcdcdc"/><stop offset="1" stop-color="#fbfbfb"/></linearGradient>
<linearGradient id="skp" x1="0" y1="0" x2="0" y2="1"><stop offset="0" stop-color="#ffffff"/><stop offset="0.5" stop-color="#f7f7f7"/><stop offset="1" stop-color="#d8d8d8"/></linearGradient>
<linearGradient id="skf" x1="0" y1="0" x2="0" y2="1"><stop offset="0" stop-color="#222"/><stop offset="0.78" stop-color="#222"/><stop offset="1" stop-color="#222" stop-opacity="0.15"/></linearGradient>
<clipPath id="skc"><circle cx="656.3" cy="390.4" r="71.9"/></clipPath>
</defs>
<path d="M620.95 327.79A71.9 71.9 0 1 0 726 408.04" fill="none" stroke="url(#skf)" stroke-width="0.6"/>
<path d="M651.44 321.54A77.1 77.1 0 0 1 725.99 392.95" fill="none" stroke="#222" stroke-width="0.6"/>
<g transform="translate(142.3 0)">
<g clip-path="url(#skc)" transform="translate(-142.3 0)">
<g transform="translate(142.3 0)">
<path d="M479.5 329.3 C476 342 472.5 352 470.5 360 C468 369 464 377 463.3 384 C463 389 465 390.5 469 390.5 L484.8 390.5 A2.3 2.3 0 0 1 489.4 390.5 L496.2 390.5 A2.3 2.3 0 0 1 500.8 390.5 L518 390.5 C522.5 390.5 524 387.5 522.6 383.5 C520 376 514.5 366 512 354 C510.3 345 509.5 334 509.1 323 L509.1 300 L479.5 300 Z" fill="url(#skn)"/>
<path d="M536.6 389.3 C539.5 386.5 542 380.5 547.5 379.4 C553 378.6 556.5 381.5 559.5 385 C562.5 388.6 566 390.6 571 391.3 L590 395 L590 409.6 L571 409.8 C565 410 560.5 412.5 556 414.6 C551 417 544.5 416.5 540.5 413.8 C536.5 411 534.6 408 533.8 404 C533 399 534 393 536.6 389.3 Z" fill="url(#ska)"/>
<path d="M474 470 C473.5 458 472.5 450 470.5 444 C468 436 465.6 432 466 427.5 C466.5 423 468.5 420.6 472.5 420.4 L503 420.4 C507 420.6 508.6 424 508.4 428.5 C508.2 434 504.5 440 500.5 445 C496.5 450.5 494.5 456 494 470 Z" fill="url(#skp)"/>
</g></g>
<path d="M479.5 329.3 C476 342 472.5 352 470.5 360 C468 369 464 377 463.3 384 C463 389 465 390.5 469 390.5 L484.8 390.5 A2.3 2.3 0 0 1 489.4 390.5 L496.2 390.5 A2.3 2.3 0 0 1 500.8 390.5 L518 390.5 C522.5 390.5 524 387.5 522.6 383.5 C520 376 514.5 366 512 354 C510.3 345 509.5 334 509.1 323" fill="none" stroke="#222" stroke-width="0.6"/>
<path d="M522.8 384.5 C524.5 388 529 389.6 536.6 389.4" fill="none" stroke="#222" stroke-width="0.6"/>
<path d="M536.6 389.3 C539.5 386.5 542 380.5 547.5 379.4 C553 378.6 556.5 381.5 559.5 385 C562.5 388.6 566 390.6 571 391.3 L583.69 392.95" fill="none" stroke="#222" stroke-width="0.6"/>
<path d="M584.7 409.7 L571 409.8 C565 410 560.5 412.5 556 414.6 C551 417 544.5 416.5 540.5 413.8 C536.5 411 534.6 408 533.8 404 C533 399 534 393 536.6 389.3" fill="none" stroke="#222" stroke-width="0.6"/>
<path d="M473.9 455.5 C473.3 450 472 447 470.5 444 C468 436 465.6 432 466 427.5 C466.5 423 468.5 420.6 472.5 420.4 L503 420.4 C507 420.6 508.6 424 508.4 428.5 C508.2 434 504.5 440 500.5 445 C496.8 450 494.6 455 494.1 462.5" fill="none" stroke="#222" stroke-width="0.6"/>
<circle cx="483.6" cy="350.6" r="9" fill="#e9e9e9" stroke="#111" stroke-width="1"/>
<path d="M474.7 352.2L473.8 349.56L476.04 349.76Z" fill="#111"/>
<path d="M492.6 349L493.5 351.64L491.26 351.44Z" fill="#111"/>
<text transform="translate(483.6 350) rotate(0.03)" font-size="3" text-anchor="middle" fill="#777">TCA</text>
<text transform="translate(483.6 353.4) rotate(0.03)" font-size="3" text-anchor="middle" fill="#777">cycle</text>
<line x1="498.3" y1="378.1" x2="498.3" y2="356" stroke="#111" stroke-width="0.6"/>
<path d="M498.3 353.4L499.57 356.29L497.03 356.29Z" fill="#111"/>
<line x1="487.7" y1="370.5" x2="487.7" y2="376" stroke="#111" stroke-width="0.6"/>
<path d="M487.7 368.6L488.68 370.81L486.72 370.81Z" fill="#111"/>
<path d="M487.7 377.9L486.72 375.69L488.68 375.69Z" fill="#111"/>
<line x1="498.3" y1="361" x2="502.8" y2="361" stroke="#111" stroke-width="0.6"/>
<line x1="498.3" y1="369.6" x2="502.8" y2="369.6" stroke="#111" stroke-width="0.6"/>
<line x1="503" y1="381.3" x2="519" y2="381.3" stroke="#111" stroke-width="0.6"/>
<path d="M500.8 381.3L503.69 380.03L503.69 382.57Z" fill="#111"/>
<circle cx="508.1" cy="381.4" r="1.1" fill="#fff" stroke="#666" stroke-width="0.3"/>
<path d="M484.6 381.6 C479 382 476.6 386 476.6 391 C476.4 399 478 405 484.5 407.3" fill="none" stroke="#111" stroke-width="0.7"/>
<line x1="499.5" y1="407.2" x2="538.4" y2="407.2" stroke="#111" stroke-width="0.7"/>
<path d="M540.6 407.2L537.71 408.47L537.71 405.93Z" fill="#111"/>
<line x1="547.4" y1="403.5" x2="547.4" y2="395.3" stroke="#111" stroke-width="0.6"/>
<path d="M547.4 393.2L548.38 395.41L546.42 395.41Z" fill="#111"/>
<rect x="495.9" y="345" width="15.9" height="6.6" fill="#fff" stroke="#555" stroke-width="0.35"/>
<text transform="translate(503.85 350.15) rotate(0.03)" font-size="5.6" text-anchor="middle" fill="#555" letter-spacing="0.45">GSH</text>
<rect x="474.8" y="361.3" width="17.3" height="6.7" fill="#5a9fd4"/>
<rect x="474.8" y="361.3" width="17.3" height="6.7" fill="none" stroke="#3b5f80" stroke-width="0.25"/>
<text transform="translate(483.45 366.55) rotate(0.03)" font-size="5.6" text-anchor="middle" fill="#1b2836" letter-spacing="0.45">2-OG</text>
<rect x="502.7" y="357.7" width="7.8" height="6.7" fill="#5a9fd4"/>
<rect x="510.5" y="357.7" width="7.8" height="6.7" fill="#b94a4c"/>
<rect x="502.7" y="357.7" width="15.6" height="6.7" fill="none" stroke="#3b5f80" stroke-width="0.25"/>
<text transform="translate(510.5 362.95) rotate(0.03)" font-size="5.6" text-anchor="middle" fill="#1b2836" letter-spacing="0.45">GLY</text>
<rect x="502.7" y="366.4" width="8.58" height="6.5" fill="#5a9fd4"/>
<rect x="511.28" y="366.4" width="7.02" height="6.5" fill="#b94a4c"/>
<rect x="502.7" y="366.4" width="15.6" height="6.5" fill="none" stroke="#3b5f80" stroke-width="0.25"/>
<text transform="translate(510.5 371.45) rotate(0.03)" font-size="5.6" text-anchor="middle" fill="#1b2836" letter-spacing="0.45">CYS</text>
<rect x="484.8" y="377.6" width="15.8" height="6.7" fill="#5a9fd4"/>
<rect x="484.8" y="377.6" width="15.8" height="6.7" fill="none" stroke="#3b5f80" stroke-width="0.25"/>
<text transform="translate(492.7 382.85) rotate(0.03)" font-size="5.6" text-anchor="middle" fill="#1b2836" letter-spacing="0.45">GLU</text>
<rect x="539.7" y="385.6" width="15.5" height="6.7" fill="#fff" stroke="#555" stroke-width="0.35"/>
<text transform="translate(547.45 390.85) rotate(0.03)" font-size="5.6" text-anchor="middle" fill="#444" letter-spacing="0.45">GLN</text>
<rect x="539.3" y="403.1" width="15.9" height="6.5" fill="#5a9fd4"/>
<rect x="539.3" y="403.1" width="15.9" height="6.5" fill="none" stroke="#3b5f80" stroke-width="0.25"/>
<text transform="translate(547.25 408.15) rotate(0.03)" font-size="5.6" text-anchor="middle" fill="#1b2836" letter-spacing="0.45">GLU</text>
<g transform="translate(466.5 386.7) rotate(20)"><path d="M0 -2.6 A2 2.6 0 0 0 0 2.6 Z" fill="#5a9fd4"/><path d="M0 -2.6 A2 2.6 0 0 1 0 2.6 Z" fill="#b94a4c"/></g>
<rect x="475.6" y="386.6" width="3.6" height="6" rx="0.9" fill="#fff" stroke="#555" stroke-width="0.3"/>
<rect x="519.0" y="379.3" width="5.4" height="4.8" rx="1.3" fill="#5a9fd4" stroke="#4a80ad" stroke-width="0.3"/>
<circle cx="535.6" cy="388.2" r="2.4" fill="#5a9fd4" stroke="#4a80ad" stroke-width="0.3"/>
<circle cx="548.1" cy="378" r="2.4" fill="#5a9fd4" stroke="#4a80ad" stroke-width="0.3"/>
<g transform="translate(532.2 405.6) rotate(90)"><path d="M0 -3 A2 3 0 0 0 0 3 Z" fill="#b94a4c"/><path d="M0 -3 A2 3 0 0 1 0 3 Z" fill="#5a9fd4"/></g>
<circle cx="568.2" cy="396" r="0.9" fill="#fff" stroke="#555" stroke-width="0.3"/>
<circle cx="547.4" cy="399.3" r="0.9" fill="#fff" stroke="#555" stroke-width="0.3"/>
<g transform="translate(481.2 420.2) rotate(0)"><path d="M0 -2.4 A2.2 2.4 0 0 0 0 2.4 Z" fill="#5a9fd4"/><path d="M0 -2.4 A2.2 2.4 0 0 1 0 2.4 Z" fill="#b94a4c"/></g>
<rect x="493.2" y="417.6" width="4.1" height="5.2" rx="0.9" fill="#fff" stroke="#555" stroke-width="0.3"/>
<text transform="translate(521.7 354.7) rotate(0.03)" font-size="6.35" font-weight="bold" fill="#111">Pre-synaptic</text>
<text transform="translate(521.7 361.5) rotate(0.03)" font-size="6.35" font-weight="bold" fill="#111">neuron</text>
<text transform="translate(539.9 422) rotate(0.03)" font-size="6.35" font-weight="bold" fill="#111">Astrocyte</text>
<text transform="translate(509.7 436) rotate(0.03)" font-size="6.35" font-weight="bold" fill="#111">Post-synaptic</text>
<text transform="translate(509.7 443) rotate(0.03)" font-size="6.35" font-weight="bold" fill="#111">neuron</text>
<text transform="translate(484.6 409.6) rotate(0.03)" font-size="6.3" fill="#333" letter-spacing="0.15">GLU</text>
<text transform="translate(525.4 381.3) rotate(0.03)" font-size="4.2" fill="#3c3c3c">SNAT1</text>
<text transform="translate(520 395) rotate(0.03)" font-size="4.2" fill="#3c3c3c">SNAT3</text>
<text transform="translate(552 377.4) rotate(0.03)" font-size="5.2" fill="#3c3c3c">Grm3</text>
<text transform="translate(565 403) rotate(0.03)" font-size="3.4" fill="#3c3c3c">GFAP</text>
<text transform="translate(519.2 414) rotate(0.03)" font-size="4.2" fill="#3c3c3c">GLAST</text>
<text transform="translate(459.5 396.6) rotate(0.03)" font-size="4.2" fill="#3c3c3c">Nr3c1</text>
<text transform="translate(479.5 396.6) rotate(0.03)" font-size="4.2" fill="#3c3c3c">GLT-1</text>
<text transform="translate(504.3 378.8) rotate(0.03)" font-size="3.4" fill="#3c3c3c">PAG</text>
<text transform="translate(549.6 400.4) rotate(0.03)" font-size="3" fill="#3c3c3c">GS</text>
<text transform="translate(465 416.9) rotate(0.03)" font-size="5.2" fill="#3c3c3c">Grm5</text>
<text transform="translate(497.6 417.6) rotate(0.03)" font-size="4.2" fill="#3c3c3c">NMDAR</text>
</g>
<line x1="581.9" y1="47.5" x2="581.9" y2="144.5" stroke="#8a8a8a" stroke-width="0.8"/>
<line x1="581.9" y1="180" x2="581.9" y2="222.8" stroke="#8a8a8a" stroke-width="0.8"/>
<line x1="583.2" y1="262.5" x2="583.2" y2="467.5" stroke="#333" stroke-width="0.5"/>
<line x1="556.5" y1="102" x2="556.5" y2="164.5" stroke="#111" stroke-width="0.55"/>
<path d="M556.5 99.6L555.2 102.6L557.8 102.6Z" fill="#111"/>
<line x1="525" y1="120.7" x2="556.5" y2="120.7" stroke="#555" stroke-width="0.8"/>
<line x1="610.7" y1="103" x2="610.7" y2="164.5" stroke="#111" stroke-width="0.55"/>
<path d="M610.7 100.6L609.4 103.6L612 103.6Z" fill="#111"/>
<line x1="610.6" y1="112.2" x2="643.8" y2="112.2" stroke="#111" stroke-width="0.55"/>
<line x1="610.6" y1="150.4" x2="643.8" y2="150.4" stroke="#111" stroke-width="0.55"/>
<line x1="487.3" y1="192.6" x2="520.5" y2="192.6" stroke="#555" stroke-width="0.8"/>
<line x1="487.3" y1="192.3" x2="487.3" y2="222" stroke="#111" stroke-width="0.55"/>
<path d="M487.3 224.8L486 221.8L488.6 221.8Z" fill="#111"/>
<line x1="641.8" y1="193.3" x2="674.7" y2="193.3" stroke="#111" stroke-width="0.55"/>
<line x1="674.6" y1="193" x2="674.6" y2="222" stroke="#111" stroke-width="0.55"/>
<path d="M674.6 224.6L673.3 221.6L675.9 221.6Z" fill="#111"/>
<line x1="558.4" y1="224.6" x2="558.4" y2="248" stroke="#111" stroke-width="0.55"/>
<path d="M558.4 250.5L557.1 247.5L559.7 247.5Z" fill="#111"/>
<line x1="611.2" y1="224.6" x2="611.2" y2="248" stroke="#111" stroke-width="0.55"/>
<path d="M611.2 250.5L609.9 247.5L612.5 247.5Z" fill="#111"/>
<rect x="539.29" y="45.47" width="39.23" height="35.16" fill="#fff"/>
<rect x="559.07" y="45.47" width="19.45" height="35.16" fill="#d2d2d2"/>
<line x1="544.19" y1="45.47" x2="544.19" y2="80.64" stroke="#ececec" stroke-width="0.3"/>
<line x1="549.09" y1="45.47" x2="549.09" y2="80.64" stroke="#ececec" stroke-width="0.3"/>
<line x1="554" y1="45.47" x2="554" y2="80.64" stroke="#ececec" stroke-width="0.3"/>
<line x1="558.9" y1="45.47" x2="558.9" y2="80.64" stroke="#ececec" stroke-width="0.3"/>
<line x1="563.8" y1="45.47" x2="563.8" y2="80.64" stroke="#dcdcdc" stroke-width="0.3"/>
<line x1="568.71" y1="45.47" x2="568.71" y2="80.64" stroke="#dcdcdc" stroke-width="0.3"/>
<line x1="573.61" y1="45.47" x2="573.61" y2="80.64" stroke="#dcdcdc" stroke-width="0.3"/>
<line x1="539.29" y1="53.38" x2="559.07" y2="53.38" stroke="#ececec" stroke-width="0.3"/>
<line x1="559.07" y1="53.38" x2="578.52" y2="53.38" stroke="#dcdcdc" stroke-width="0.3"/>
<line x1="538.49" y1="53.38" x2="539.29" y2="53.38" stroke="#444" stroke-width="0.25"/>
<text transform="translate(537.99 54.48) rotate(0.03)" font-size="3.5" text-anchor="end" fill="#2a2a2a">-1</text>
<line x1="539.29" y1="63.82" x2="559.07" y2="63.82" stroke="#ececec" stroke-width="0.3"/>
<line x1="559.07" y1="63.82" x2="578.52" y2="63.82" stroke="#dcdcdc" stroke-width="0.3"/>
<line x1="538.49" y1="63.82" x2="539.29" y2="63.82" stroke="#444" stroke-width="0.25"/>
<text transform="translate(537.99 64.92) rotate(0.03)" font-size="3.5" text-anchor="end" fill="#2a2a2a">-2</text>
<line x1="539.29" y1="74.26" x2="559.07" y2="74.26" stroke="#ececec" stroke-width="0.3"/>
<line x1="559.07" y1="74.26" x2="578.52" y2="74.26" stroke="#dcdcdc" stroke-width="0.3"/>
<line x1="538.49" y1="74.26" x2="539.29" y2="74.26" stroke="#444" stroke-width="0.25"/>
<text transform="translate(537.99 75.36) rotate(0.03)" font-size="3.5" text-anchor="end" fill="#2a2a2a">-3</text>
<rect x="539.29" y="45.47" width="39.23" height="35.16" fill="none" stroke="#8a8a8a" stroke-width="0.35"/>
<line x1="539.29" y1="80.64" x2="539.29" y2="81.44" stroke="#444" stroke-width="0.25"/>
<text transform="translate(539.29 84.84) rotate(0.03)" font-size="3.5" text-anchor="middle" fill="#2a2a2a">0</text>
<line x1="549.09" y1="80.64" x2="549.09" y2="81.44" stroke="#444" stroke-width="0.25"/>
<text transform="translate(549.09 84.84) rotate(0.03)" font-size="3.5" text-anchor="middle" fill="#2a2a2a">6</text>
<line x1="558.9" y1="80.64" x2="558.9" y2="81.44" stroke="#444" stroke-width="0.25"/>
<text transform="translate(558.9 84.84) rotate(0.03)" font-size="3.5" text-anchor="middle" fill="#2a2a2a">12</text>
<line x1="568.71" y1="80.64" x2="568.71" y2="81.44" stroke="#444" stroke-width="0.25"/>
<text transform="translate(568.71 84.84) rotate(0.03)" font-size="3.5" text-anchor="middle" fill="#2a2a2a">18</text>
<line x1="578.52" y1="80.64" x2="578.52" y2="81.44" stroke="#444" stroke-width="0.25"/>
<text transform="translate(578.52 84.84) rotate(0.03)" font-size="3.5" text-anchor="middle" fill="#2a2a2a">24</text>
<path d="M539.29 56.13C539.84 57.41 541.3 61.26 542.58 63.82C543.86 66.39 545.42 69.78 546.98 71.52C548.53 73.26 550.27 74.72 551.92 74.26C553.57 73.81 555.13 71.24 556.87 68.77C558.61 66.3 560.62 62.45 562.36 59.43C564.1 56.41 565.84 52.47 567.31 50.64C568.77 48.81 569.87 48.62 571.15 48.44C572.44 48.26 573.77 48.81 575 49.54C576.23 50.27 577.93 52.29 578.52 52.84" fill="none" stroke="#3a3a3a" stroke-width="0.45"/>
<path d="M539.29 69.87C540.2 69.14 542.77 67.49 544.78 65.47C546.79 63.46 549.18 59.61 551.37 57.78C553.57 55.95 555.77 54.48 557.97 54.48C560.16 54.48 562.36 56.13 564.56 57.78C566.76 59.43 568.83 62.27 571.15 64.37C573.48 66.48 577.29 69.41 578.52 70.42" fill="none" stroke="#2f8fd0" stroke-width="0.7"/>
<path d="M539.29 56.68C540.29 56.32 543.32 55.03 545.33 54.48C547.34 53.93 549.27 53.29 551.37 53.38C553.48 53.48 555.95 54.3 557.97 55.03C559.98 55.77 561.63 57.21 563.46 57.78C565.29 58.35 567.12 58.4 568.96 58.44C570.79 58.48 572.86 58.15 574.45 58C576.04 57.85 577.84 57.63 578.52 57.56" fill="none" stroke="#a83232" stroke-width="0.7"/>
<line x1="547.53" y1="67.12" x2="547.53" y2="75.91" stroke="#222" stroke-width="0.32"/>
<line x1="547.03" y1="67.12" x2="548.03" y2="67.12" stroke="#222" stroke-width="0.3"/>
<line x1="547.03" y1="75.91" x2="548.03" y2="75.91" stroke="#222" stroke-width="0.3"/>
<line x1="547.53" y1="52.51" x2="547.53" y2="61.3" stroke="#222" stroke-width="0.32"/>
<line x1="547.03" y1="52.51" x2="548.03" y2="52.51" stroke="#222" stroke-width="0.3"/>
<line x1="547.03" y1="61.3" x2="548.03" y2="61.3" stroke="#222" stroke-width="0.3"/>
<line x1="547.53" y1="53.6" x2="547.53" y2="62.4" stroke="#222" stroke-width="0.32"/>
<line x1="547.03" y1="53.6" x2="548.03" y2="53.6" stroke="#222" stroke-width="0.3"/>
<line x1="547.03" y1="62.4" x2="548.03" y2="62.4" stroke="#222" stroke-width="0.3"/>
<line x1="557.2" y1="63.27" x2="557.2" y2="73.16" stroke="#222" stroke-width="0.32"/>
<line x1="556.7" y1="63.27" x2="557.7" y2="63.27" stroke="#222" stroke-width="0.3"/>
<line x1="556.7" y1="73.16" x2="557.7" y2="73.16" stroke="#222" stroke-width="0.3"/>
<line x1="557.2" y1="55.03" x2="557.2" y2="64.92" stroke="#222" stroke-width="0.32"/>
<line x1="556.7" y1="55.03" x2="557.7" y2="55.03" stroke="#222" stroke-width="0.3"/>
<line x1="556.7" y1="64.92" x2="557.7" y2="64.92" stroke="#222" stroke-width="0.3"/>
<line x1="557.2" y1="46.02" x2="557.2" y2="55.91" stroke="#222" stroke-width="0.32"/>
<line x1="556.7" y1="46.02" x2="557.7" y2="46.02" stroke="#222" stroke-width="0.3"/>
<line x1="556.7" y1="55.91" x2="557.7" y2="55.91" stroke="#222" stroke-width="0.3"/>
<line x1="566.76" y1="45.77" x2="566.76" y2="58.11" stroke="#222" stroke-width="0.32"/>
<line x1="566.26" y1="45.77" x2="567.26" y2="45.77" stroke="#222" stroke-width="0.3"/>
<line x1="566.26" y1="58.11" x2="567.26" y2="58.11" stroke="#222" stroke-width="0.3"/>
<line x1="566.76" y1="47.01" x2="566.76" y2="59.76" stroke="#222" stroke-width="0.32"/>
<line x1="566.26" y1="47.01" x2="567.26" y2="47.01" stroke="#222" stroke-width="0.3"/>
<line x1="566.26" y1="59.76" x2="567.26" y2="59.76" stroke="#222" stroke-width="0.3"/>
<line x1="566.76" y1="57.12" x2="566.76" y2="69.87" stroke="#222" stroke-width="0.32"/>
<line x1="566.26" y1="57.12" x2="567.26" y2="57.12" stroke="#222" stroke-width="0.3"/>
<line x1="566.26" y1="69.87" x2="567.26" y2="69.87" stroke="#222" stroke-width="0.3"/>
<line x1="576.65" y1="47.34" x2="576.65" y2="56.13" stroke="#222" stroke-width="0.32"/>
<line x1="576.15" y1="47.34" x2="577.15" y2="47.34" stroke="#222" stroke-width="0.3"/>
<line x1="576.15" y1="56.13" x2="577.15" y2="56.13" stroke="#222" stroke-width="0.3"/>
<line x1="576.65" y1="71.52" x2="576.65" y2="80.31" stroke="#222" stroke-width="0.32"/>
<line x1="576.15" y1="71.52" x2="577.15" y2="71.52" stroke="#222" stroke-width="0.3"/>
<line x1="576.15" y1="80.31" x2="577.15" y2="80.31" stroke="#222" stroke-width="0.3"/>
<line x1="576.65" y1="48.99" x2="576.65" y2="57.78" stroke="#222" stroke-width="0.32"/>
<line x1="576.15" y1="48.99" x2="577.15" y2="48.99" stroke="#222" stroke-width="0.3"/>
<line x1="576.15" y1="57.78" x2="577.15" y2="57.78" stroke="#222" stroke-width="0.3"/>
<circle cx="547.53" cy="71.52" r="1.25" fill="#6b6b6b" stroke="#222" stroke-width="0.25"/>
<circle cx="557.2" cy="68.22" r="1.25" fill="#6b6b6b" stroke="#222" stroke-width="0.25"/>
<circle cx="566.76" cy="51.74" r="1.25" fill="#6b6b6b" stroke="#222" stroke-width="0.25"/>
<circle cx="576.65" cy="51.74" r="1.25" fill="#6b6b6b" stroke="#222" stroke-width="0.25"/>
<circle cx="547.53" cy="56.9" r="1.25" fill="#2f86c4" stroke="#222" stroke-width="0.25"/>
<circle cx="557.2" cy="59.98" r="1.25" fill="#2f86c4" stroke="#222" stroke-width="0.25"/>
<circle cx="566.76" cy="53.38" r="1.25" fill="#2f86c4" stroke="#222" stroke-width="0.25"/>
<circle cx="576.65" cy="75.91" r="1.25" fill="#2f86c4" stroke="#222" stroke-width="0.25"/>
<circle cx="547.53" cy="58" r="1.25" fill="#9e1b1e" stroke="#222" stroke-width="0.25"/>
<circle cx="557.2" cy="50.97" r="1.25" fill="#9e1b1e" stroke="#222" stroke-width="0.25"/>
<circle cx="566.76" cy="63.49" r="1.25" fill="#9e1b1e" stroke="#222" stroke-width="0.25"/>
<circle cx="576.65" cy="53.38" r="1.25" fill="#9e1b1e" stroke="#222" stroke-width="0.25"/>
<text transform="translate(558.9 90.24) rotate(0.03)" font-size="4.1" text-anchor="middle" font-style="italic" fill="#222">Zeitgeber</text>
<text transform="translate(530.39 63.05) rotate(-89.97)" font-size="4.25" text-anchor="middle" fill="#222">Relative expression (CLR)</text>
<rect x="592.31" y="45.47" width="40.22" height="35.93" fill="#fff"/>
<rect x="612.42" y="45.47" width="20.11" height="35.93" fill="#d2d2d2"/>
<line x1="597.34" y1="45.47" x2="597.34" y2="81.41" stroke="#ececec" stroke-width="0.3"/>
<line x1="602.36" y1="45.47" x2="602.36" y2="81.41" stroke="#ececec" stroke-width="0.3"/>
<line x1="607.39" y1="45.47" x2="607.39" y2="81.41" stroke="#ececec" stroke-width="0.3"/>
<line x1="612.42" y1="45.47" x2="612.42" y2="81.41" stroke="#dcdcdc" stroke-width="0.3"/>
<line x1="617.45" y1="45.47" x2="617.45" y2="81.41" stroke="#dcdcdc" stroke-width="0.3"/>
<line x1="622.47" y1="45.47" x2="622.47" y2="81.41" stroke="#dcdcdc" stroke-width="0.3"/>
<line x1="627.5" y1="45.47" x2="627.5" y2="81.41" stroke="#dcdcdc" stroke-width="0.3"/>
<line x1="592.31" y1="49.32" x2="612.42" y2="49.32" stroke="#ececec" stroke-width="0.3"/>
<line x1="612.42" y1="49.32" x2="632.53" y2="49.32" stroke="#dcdcdc" stroke-width="0.3"/>
<line x1="591.51" y1="49.32" x2="592.31" y2="49.32" stroke="#444" stroke-width="0.25"/>
<text transform="translate(591.01 50.42) rotate(0.03)" font-size="3.5" text-anchor="end" fill="#2a2a2a">0.0</text>
<line x1="592.31" y1="58.88" x2="612.42" y2="58.88" stroke="#ececec" stroke-width="0.3"/>
<line x1="612.42" y1="58.88" x2="632.53" y2="58.88" stroke="#dcdcdc" stroke-width="0.3"/>
<line x1="591.51" y1="58.88" x2="592.31" y2="58.88" stroke="#444" stroke-width="0.25"/>
<text transform="translate(591.01 59.98) rotate(0.03)" font-size="3.5" text-anchor="end" fill="#2a2a2a">-0.5</text>
<line x1="592.31" y1="68.22" x2="612.42" y2="68.22" stroke="#ececec" stroke-width="0.3"/>
<line x1="612.42" y1="68.22" x2="632.53" y2="68.22" stroke="#dcdcdc" stroke-width="0.3"/>
<line x1="591.51" y1="68.22" x2="592.31" y2="68.22" stroke="#444" stroke-width="0.25"/>
<text transform="translate(591.01 69.32) rotate(0.03)" font-size="3.5" text-anchor="end" fill="#2a2a2a">-1.0</text>
<line x1="592.31" y1="77.78" x2="612.42" y2="77.78" stroke="#ececec" stroke-width="0.3"/>
<line x1="612.42" y1="77.78" x2="632.53" y2="77.78" stroke="#dcdcdc" stroke-width="0.3"/>
<line x1="591.51" y1="77.78" x2="592.31" y2="77.78" stroke="#444" stroke-width="0.25"/>
<text transform="translate(591.01 78.88) rotate(0.03)" font-size="3.5" text-anchor="end" fill="#2a2a2a">-1.5</text>
<rect x="592.31" y="45.47" width="40.22" height="35.93" fill="none" stroke="#8a8a8a" stroke-width="0.35"/>
<line x1="592.31" y1="81.41" x2="592.31" y2="82.21" stroke="#444" stroke-width="0.25"/>
<text transform="translate(592.31 85.61) rotate(0.03)" font-size="3.5" text-anchor="middle" fill="#2a2a2a">0</text>
<line x1="602.36" y1="81.41" x2="602.36" y2="82.21" stroke="#444" stroke-width="0.25"/>
<text transform="translate(602.36 85.61) rotate(0.03)" font-size="3.5" text-anchor="middle" fill="#2a2a2a">6</text>
<line x1="612.42" y1="81.41" x2="612.42" y2="82.21" stroke="#444" stroke-width="0.25"/>
<text transform="translate(612.42 85.61) rotate(0.03)" font-size="3.5" text-anchor="middle" fill="#2a2a2a">12</text>
<line x1="622.47" y1="81.41" x2="622.47" y2="82.21" stroke="#444" stroke-width="0.25"/>
<text transform="translate(622.47 85.61) rotate(0.03)" font-size="3.5" text-anchor="middle" fill="#2a2a2a">18</text>
<line x1="632.53" y1="81.41" x2="632.53" y2="82.21" stroke="#444" stroke-width="0.25"/>
<text transform="translate(632.53 85.61) rotate(0.03)" font-size="3.5" text-anchor="middle" fill="#2a2a2a">24</text>
<path d="M592.31 73.16C593 72.16 594.96 69.32 596.48 67.12C598 64.92 599.78 61.68 601.43 59.98C603.08 58.27 604.73 57.08 606.37 56.9C608.02 56.72 609.67 57.36 611.32 58.88C612.97 60.4 614.71 63.82 616.26 66.02C617.82 68.22 619.19 70.55 620.66 72.07C622.12 73.59 623.59 74.68 625.05 75.14C626.52 75.6 628.21 75.18 629.45 74.81C630.7 74.45 632.01 73.26 632.53 72.95" fill="none" stroke="#3a3a3a" stroke-width="0.45"/>
<path d="M592.31 64.37C593.19 64.89 595.79 66.5 597.58 67.45C599.38 68.4 601.25 69.5 603.08 70.09C604.91 70.67 606.74 71.19 608.57 70.97C610.4 70.75 612.23 69.78 614.07 68.77C615.9 67.76 617.91 65.8 619.56 64.92C621.21 64.04 622.49 63.66 623.96 63.49C625.42 63.33 626.92 63.7 628.35 63.93C629.78 64.17 631.83 64.76 632.53 64.92" fill="none" stroke="#2f8fd0" stroke-width="0.7"/>
<path d="M592.31 60.86C593.19 61.63 595.79 64.37 597.58 65.47C599.38 66.57 601.25 67.36 603.08 67.45C604.91 67.54 606.74 66.99 608.57 66.02C610.4 65.05 612.23 63.04 614.07 61.63C615.9 60.22 617.91 58.48 619.56 57.56C621.21 56.64 622.49 56.13 623.96 56.13C625.42 56.13 626.92 56.83 628.35 57.56C629.78 58.29 631.83 60.03 632.53 60.53" fill="none" stroke="#a83232" stroke-width="0.7"/>
<line x1="600.66" y1="51.52" x2="600.66" y2="75.03" stroke="#222" stroke-width="0.32"/>
<line x1="600.16" y1="51.52" x2="601.16" y2="51.52" stroke="#222" stroke-width="0.3"/>
<line x1="600.16" y1="75.03" x2="601.16" y2="75.03" stroke="#222" stroke-width="0.3"/>
<line x1="600.66" y1="56.79" x2="600.66" y2="80.31" stroke="#222" stroke-width="0.32"/>
<line x1="600.16" y1="56.79" x2="601.16" y2="56.79" stroke="#222" stroke-width="0.3"/>
<line x1="600.16" y1="80.31" x2="601.16" y2="80.31" stroke="#222" stroke-width="0.3"/>
<line x1="600.66" y1="54.26" x2="600.66" y2="77.78" stroke="#222" stroke-width="0.32"/>
<line x1="600.16" y1="54.26" x2="601.16" y2="54.26" stroke="#222" stroke-width="0.3"/>
<line x1="600.16" y1="77.78" x2="601.16" y2="77.78" stroke="#222" stroke-width="0.3"/>
<line x1="610.55" y1="47.34" x2="610.55" y2="66.46" stroke="#222" stroke-width="0.32"/>
<line x1="610.05" y1="47.34" x2="611.05" y2="47.34" stroke="#222" stroke-width="0.3"/>
<line x1="610.05" y1="66.46" x2="611.05" y2="66.46" stroke="#222" stroke-width="0.3"/>
<line x1="610.55" y1="61.74" x2="610.55" y2="80.86" stroke="#222" stroke-width="0.32"/>
<line x1="610.05" y1="61.74" x2="611.05" y2="61.74" stroke="#222" stroke-width="0.3"/>
<line x1="610.05" y1="80.86" x2="611.05" y2="80.86" stroke="#222" stroke-width="0.3"/>
<line x1="610.55" y1="55.58" x2="610.55" y2="74.7" stroke="#222" stroke-width="0.32"/>
<line x1="610.05" y1="55.58" x2="611.05" y2="55.58" stroke="#222" stroke-width="0.3"/>
<line x1="610.05" y1="74.7" x2="611.05" y2="74.7" stroke="#222" stroke-width="0.3"/>
<line x1="620.66" y1="65.25" x2="620.66" y2="77.78" stroke="#222" stroke-width="0.32"/>
<line x1="620.16" y1="65.25" x2="621.16" y2="65.25" stroke="#222" stroke-width="0.3"/>
<line x1="620.16" y1="77.78" x2="621.16" y2="77.78" stroke="#222" stroke-width="0.3"/>
<line x1="620.66" y1="57.89" x2="620.66" y2="70.42" stroke="#222" stroke-width="0.32"/>
<line x1="620.16" y1="57.89" x2="621.16" y2="57.89" stroke="#222" stroke-width="0.3"/>
<line x1="620.16" y1="70.42" x2="621.16" y2="70.42" stroke="#222" stroke-width="0.3"/>
<line x1="620.66" y1="50.64" x2="620.66" y2="63.16" stroke="#222" stroke-width="0.32"/>
<line x1="620.16" y1="50.64" x2="621.16" y2="50.64" stroke="#222" stroke-width="0.3"/>
<line x1="620.16" y1="63.16" x2="621.16" y2="63.16" stroke="#222" stroke-width="0.3"/>
<line x1="630.55" y1="67.34" x2="630.55" y2="79.43" stroke="#222" stroke-width="0.32"/>
<line x1="630.05" y1="67.34" x2="631.05" y2="67.34" stroke="#222" stroke-width="0.3"/>
<line x1="630.05" y1="79.43" x2="631.05" y2="79.43" stroke="#222" stroke-width="0.3"/>
<line x1="630.55" y1="58.55" x2="630.55" y2="70.64" stroke="#222" stroke-width="0.32"/>
<line x1="630.05" y1="58.55" x2="631.05" y2="58.55" stroke="#222" stroke-width="0.3"/>
<line x1="630.05" y1="70.64" x2="631.05" y2="70.64" stroke="#222" stroke-width="0.3"/>
<line x1="630.55" y1="53.93" x2="630.55" y2="66.02" stroke="#222" stroke-width="0.32"/>
<line x1="630.05" y1="53.93" x2="631.05" y2="53.93" stroke="#222" stroke-width="0.3"/>
<line x1="630.05" y1="66.02" x2="631.05" y2="66.02" stroke="#222" stroke-width="0.3"/>
<circle cx="600.66" cy="63.27" r="1.25" fill="#6b6b6b" stroke="#222" stroke-width="0.25"/>
<circle cx="610.55" cy="56.9" r="1.25" fill="#6b6b6b" stroke="#222" stroke-width="0.25"/>
<circle cx="620.66" cy="71.52" r="1.25" fill="#6b6b6b" stroke="#222" stroke-width="0.25"/>
<circle cx="630.55" cy="73.38" r="1.25" fill="#6b6b6b" stroke="#222" stroke-width="0.25"/>
<circle cx="600.66" cy="68.55" r="1.25" fill="#2f86c4" stroke="#222" stroke-width="0.25"/>
<circle cx="610.55" cy="71.3" r="1.25" fill="#2f86c4" stroke="#222" stroke-width="0.25"/>
<circle cx="620.66" cy="64.15" r="1.25" fill="#2f86c4" stroke="#222" stroke-width="0.25"/>
<circle cx="630.55" cy="64.59" r="1.25" fill="#2f86c4" stroke="#222" stroke-width="0.25"/>
<circle cx="600.66" cy="66.02" r="1.25" fill="#9e1b1e" stroke="#222" stroke-width="0.25"/>
<circle cx="610.55" cy="65.14" r="1.25" fill="#9e1b1e" stroke="#222" stroke-width="0.25"/>
<circle cx="620.66" cy="56.9" r="1.25" fill="#9e1b1e" stroke="#222" stroke-width="0.25"/>
<circle cx="630.55" cy="59.98" r="1.25" fill="#9e1b1e" stroke="#222" stroke-width="0.25"/>
<text transform="translate(612.42 91.01) rotate(0.03)" font-size="4.1" text-anchor="middle" font-style="italic" fill="#222">Zeitgeber</text>
<text transform="translate(580.3 42.9) rotate(0.03)" font-size="5.25" text-anchor="middle" fill="#222">Glutathione</text>
<rect x="477.16" y="100.39" width="39.8" height="35.9" fill="#fff"/>
<rect x="496.89" y="100.39" width="20.08" height="35.9" fill="#d2d2d2"/>
<line x1="482.14" y1="100.39" x2="482.14" y2="136.3" stroke="#ececec" stroke-width="0.3"/>
<line x1="487.12" y1="100.39" x2="487.12" y2="136.3" stroke="#ececec" stroke-width="0.3"/>
<line x1="492.09" y1="100.39" x2="492.09" y2="136.3" stroke="#ececec" stroke-width="0.3"/>
<line x1="497.07" y1="100.39" x2="497.07" y2="136.3" stroke="#dcdcdc" stroke-width="0.3"/>
<line x1="502.04" y1="100.39" x2="502.04" y2="136.3" stroke="#dcdcdc" stroke-width="0.3"/>
<line x1="507.02" y1="100.39" x2="507.02" y2="136.3" stroke="#dcdcdc" stroke-width="0.3"/>
<line x1="511.99" y1="100.39" x2="511.99" y2="136.3" stroke="#dcdcdc" stroke-width="0.3"/>
<line x1="477.16" y1="103.35" x2="496.89" y2="103.35" stroke="#ececec" stroke-width="0.3"/>
<line x1="496.89" y1="103.35" x2="516.97" y2="103.35" stroke="#dcdcdc" stroke-width="0.3"/>
<line x1="476.36" y1="103.35" x2="477.16" y2="103.35" stroke="#444" stroke-width="0.25"/>
<text transform="translate(475.86 104.45) rotate(0.03)" font-size="3.5" text-anchor="end" fill="#2a2a2a">0.0</text>
<line x1="477.16" y1="115.16" x2="496.89" y2="115.16" stroke="#ececec" stroke-width="0.3"/>
<line x1="496.89" y1="115.16" x2="516.97" y2="115.16" stroke="#dcdcdc" stroke-width="0.3"/>
<line x1="476.36" y1="115.16" x2="477.16" y2="115.16" stroke="#444" stroke-width="0.25"/>
<text transform="translate(475.86 116.26) rotate(0.03)" font-size="3.5" text-anchor="end" fill="#2a2a2a">-0.2</text>
<line x1="477.16" y1="127.56" x2="496.89" y2="127.56" stroke="#ececec" stroke-width="0.3"/>
<line x1="496.89" y1="127.56" x2="516.97" y2="127.56" stroke="#dcdcdc" stroke-width="0.3"/>
<line x1="476.36" y1="127.56" x2="477.16" y2="127.56" stroke="#444" stroke-width="0.25"/>
<text transform="translate(475.86 128.66) rotate(0.03)" font-size="3.5" text-anchor="end" fill="#2a2a2a">-0.4</text>
<rect x="477.16" y="100.39" width="39.8" height="35.9" fill="none" stroke="#8a8a8a" stroke-width="0.35"/>
<line x1="477.16" y1="136.3" x2="477.16" y2="137.1" stroke="#444" stroke-width="0.25"/>
<text transform="translate(477.16 140.5) rotate(0.03)" font-size="3.5" text-anchor="middle" fill="#2a2a2a">0</text>
<line x1="487.12" y1="136.3" x2="487.12" y2="137.1" stroke="#444" stroke-width="0.25"/>
<text transform="translate(487.12 140.5) rotate(0.03)" font-size="3.5" text-anchor="middle" fill="#2a2a2a">6</text>
<line x1="497.07" y1="136.3" x2="497.07" y2="137.1" stroke="#444" stroke-width="0.25"/>
<text transform="translate(497.07 140.5) rotate(0.03)" font-size="3.5" text-anchor="middle" fill="#2a2a2a">12</text>
<line x1="507.02" y1="136.3" x2="507.02" y2="137.1" stroke="#444" stroke-width="0.25"/>
<text transform="translate(507.02 140.5) rotate(0.03)" font-size="3.5" text-anchor="middle" fill="#2a2a2a">18</text>
<line x1="516.97" y1="136.3" x2="516.97" y2="137.1" stroke="#444" stroke-width="0.25"/>
<text transform="translate(516.97 140.5) rotate(0.03)" font-size="3.5" text-anchor="middle" fill="#2a2a2a">24</text>
<path d="M477.16 125.43C477.89 124.45 479.82 121.79 481.53 119.53C483.25 117.26 485.37 113.58 487.44 111.85C489.51 110.12 491.97 108.94 493.94 109.13C495.9 109.33 497.34 110.9 499.25 113.03C501.16 115.16 503.52 119.53 505.39 121.89C507.26 124.25 509.03 126.08 510.47 127.2C511.91 128.33 512.93 128.52 514.01 128.62C515.1 128.72 516.47 127.93 516.97 127.79" fill="none" stroke="#3a3a3a" stroke-width="0.45"/>
<path d="M477.16 109.49C477.89 109.23 480.02 107.56 481.53 107.95C483.05 108.35 484.49 109.72 486.26 111.85C488.03 113.98 490.29 118.15 492.16 120.71C494.03 123.27 495.9 125.86 497.48 127.2C499.05 128.54 500.14 129.03 501.61 128.74C503.09 128.44 504.57 127.46 506.34 125.43C508.11 123.4 510.47 119.13 512.24 116.57C514.01 114.01 516.18 111.16 516.97 110.08" fill="none" stroke="#2f8fd0" stroke-width="0.7"/>
<path d="M477.16 127.56C478.39 127.89 482.18 129.62 484.49 129.57C486.79 129.51 488.72 128.58 490.98 127.2C493.25 125.83 495.71 122.77 498.07 121.3C500.43 119.82 502.99 118.35 505.16 118.35C507.32 118.35 509.09 119.76 511.06 121.3C513.03 122.83 515.98 126.51 516.97 127.56" fill="none" stroke="#a83232" stroke-width="0.7"/>
<line x1="485.31" y1="107.72" x2="485.31" y2="117.16" stroke="#222" stroke-width="0.32"/>
<line x1="484.81" y1="107.72" x2="485.81" y2="107.72" stroke="#222" stroke-width="0.3"/>
<line x1="484.81" y1="117.16" x2="485.81" y2="117.16" stroke="#222" stroke-width="0.3"/>
<line x1="485.31" y1="110.31" x2="485.31" y2="119.76" stroke="#222" stroke-width="0.32"/>
<line x1="484.81" y1="110.31" x2="485.81" y2="110.31" stroke="#222" stroke-width="0.3"/>
<line x1="484.81" y1="119.76" x2="485.81" y2="119.76" stroke="#222" stroke-width="0.3"/>
<line x1="485.31" y1="124.01" x2="485.31" y2="133.46" stroke="#222" stroke-width="0.32"/>
<line x1="484.81" y1="124.01" x2="485.81" y2="124.01" stroke="#222" stroke-width="0.3"/>
<line x1="484.81" y1="133.46" x2="485.81" y2="133.46" stroke="#222" stroke-width="0.3"/>
<line x1="495.47" y1="106.53" x2="495.47" y2="117.87" stroke="#222" stroke-width="0.32"/>
<line x1="494.97" y1="106.53" x2="495.97" y2="106.53" stroke="#222" stroke-width="0.3"/>
<line x1="494.97" y1="117.87" x2="495.97" y2="117.87" stroke="#222" stroke-width="0.3"/>
<line x1="495.47" y1="115.98" x2="495.47" y2="127.32" stroke="#222" stroke-width="0.32"/>
<line x1="494.97" y1="115.98" x2="495.97" y2="115.98" stroke="#222" stroke-width="0.3"/>
<line x1="494.97" y1="127.32" x2="495.97" y2="127.32" stroke="#222" stroke-width="0.3"/>
<line x1="495.47" y1="117.4" x2="495.47" y2="128.74" stroke="#222" stroke-width="0.32"/>
<line x1="494.97" y1="117.4" x2="495.97" y2="117.4" stroke="#222" stroke-width="0.3"/>
<line x1="494.97" y1="128.74" x2="495.97" y2="128.74" stroke="#222" stroke-width="0.3"/>
<line x1="505.39" y1="115.87" x2="505.39" y2="126.02" stroke="#222" stroke-width="0.32"/>
<line x1="504.89" y1="115.87" x2="505.89" y2="115.87" stroke="#222" stroke-width="0.3"/>
<line x1="504.89" y1="126.02" x2="505.89" y2="126.02" stroke="#222" stroke-width="0.3"/>
<line x1="505.39" y1="126.02" x2="505.39" y2="136" stroke="#222" stroke-width="0.32"/>
<line x1="504.89" y1="126.02" x2="505.89" y2="126.02" stroke="#222" stroke-width="0.3"/>
<line x1="504.89" y1="136" x2="505.89" y2="136" stroke="#222" stroke-width="0.3"/>
<line x1="505.39" y1="113.03" x2="505.39" y2="123.19" stroke="#222" stroke-width="0.32"/>
<line x1="504.89" y1="113.03" x2="505.89" y2="113.03" stroke="#222" stroke-width="0.3"/>
<line x1="504.89" y1="123.19" x2="505.89" y2="123.19" stroke="#222" stroke-width="0.3"/>
<line x1="515.55" y1="122.83" x2="515.55" y2="136" stroke="#222" stroke-width="0.32"/>
<line x1="515.05" y1="122.83" x2="516.05" y2="122.83" stroke="#222" stroke-width="0.3"/>
<line x1="515.05" y1="136" x2="516.05" y2="136" stroke="#222" stroke-width="0.3"/>
<line x1="515.55" y1="101.22" x2="515.55" y2="114.68" stroke="#222" stroke-width="0.32"/>
<line x1="515.05" y1="101.22" x2="516.05" y2="101.22" stroke="#222" stroke-width="0.3"/>
<line x1="515.05" y1="114.68" x2="516.05" y2="114.68" stroke="#222" stroke-width="0.3"/>
<line x1="515.55" y1="119.29" x2="515.55" y2="132.75" stroke="#222" stroke-width="0.32"/>
<line x1="515.05" y1="119.29" x2="516.05" y2="119.29" stroke="#222" stroke-width="0.3"/>
<line x1="515.05" y1="132.75" x2="516.05" y2="132.75" stroke="#222" stroke-width="0.3"/>
<circle cx="485.31" cy="112.44" r="1.25" fill="#6b6b6b" stroke="#222" stroke-width="0.25"/>
<circle cx="495.47" cy="112.2" r="1.25" fill="#6b6b6b" stroke="#222" stroke-width="0.25"/>
<circle cx="505.39" cy="120.94" r="1.25" fill="#6b6b6b" stroke="#222" stroke-width="0.25"/>
<circle cx="515.55" cy="129.57" r="1.25" fill="#6b6b6b" stroke="#222" stroke-width="0.25"/>
<circle cx="485.31" cy="115.04" r="1.25" fill="#2f86c4" stroke="#222" stroke-width="0.25"/>
<circle cx="495.47" cy="121.65" r="1.25" fill="#2f86c4" stroke="#222" stroke-width="0.25"/>
<circle cx="505.39" cy="131.1" r="1.25" fill="#2f86c4" stroke="#222" stroke-width="0.25"/>
<circle cx="515.55" cy="107.95" r="1.25" fill="#2f86c4" stroke="#222" stroke-width="0.25"/>
<circle cx="485.31" cy="128.74" r="1.25" fill="#9e1b1e" stroke="#222" stroke-width="0.25"/>
<circle cx="495.47" cy="123.07" r="1.25" fill="#9e1b1e" stroke="#222" stroke-width="0.25"/>
<circle cx="505.39" cy="118.11" r="1.25" fill="#9e1b1e" stroke="#222" stroke-width="0.25"/>
<circle cx="515.55" cy="126.02" r="1.25" fill="#9e1b1e" stroke="#222" stroke-width="0.25"/>
<text transform="translate(497.07 145.9) rotate(0.03)" font-size="4.1" text-anchor="middle" font-style="italic" fill="#222">Zeitgeber</text>
<text transform="translate(467.06 118.35) rotate(-89.97)" font-size="4.25" text-anchor="middle" fill="#222">Relative expression (CLR)</text>
<text transform="translate(496.7 98) rotate(0.03)" font-size="5.25" text-anchor="middle" fill="#222">Glycine</text>
<rect x="667.39" y="79.96" width="40.34" height="36.64" fill="#fff"/>
<rect x="687.35" y="79.96" width="20.38" height="36.64" fill="#d2d2d2"/>
<line x1="672.43" y1="79.96" x2="672.43" y2="116.59" stroke="#ececec" stroke-width="0.3"/>
<line x1="677.48" y1="79.96" x2="677.48" y2="116.59" stroke="#ececec" stroke-width="0.3"/>
<line x1="682.52" y1="79.96" x2="682.52" y2="116.59" stroke="#ececec" stroke-width="0.3"/>
<line x1="687.56" y1="79.96" x2="687.56" y2="116.59" stroke="#dcdcdc" stroke-width="0.3"/>
<line x1="692.61" y1="79.96" x2="692.61" y2="116.59" stroke="#dcdcdc" stroke-width="0.3"/>
<line x1="697.65" y1="79.96" x2="697.65" y2="116.59" stroke="#dcdcdc" stroke-width="0.3"/>
<line x1="702.69" y1="79.96" x2="702.69" y2="116.59" stroke="#dcdcdc" stroke-width="0.3"/>
<line x1="667.39" y1="83.52" x2="687.35" y2="83.52" stroke="#ececec" stroke-width="0.3"/>
<line x1="687.35" y1="83.52" x2="707.73" y2="83.52" stroke="#dcdcdc" stroke-width="0.3"/>
<line x1="666.59" y1="83.52" x2="667.39" y2="83.52" stroke="#444" stroke-width="0.25"/>
<text transform="translate(666.09 84.62) rotate(0.03)" font-size="3.5" text-anchor="end" fill="#2a2a2a">-0.2</text>
<line x1="667.39" y1="94.21" x2="687.35" y2="94.21" stroke="#ececec" stroke-width="0.3"/>
<line x1="687.35" y1="94.21" x2="707.73" y2="94.21" stroke="#dcdcdc" stroke-width="0.3"/>
<line x1="666.59" y1="94.21" x2="667.39" y2="94.21" stroke="#444" stroke-width="0.25"/>
<text transform="translate(666.09 95.31) rotate(0.03)" font-size="3.5" text-anchor="end" fill="#2a2a2a">-0.4</text>
<line x1="667.39" y1="105.33" x2="687.35" y2="105.33" stroke="#ececec" stroke-width="0.3"/>
<line x1="687.35" y1="105.33" x2="707.73" y2="105.33" stroke="#dcdcdc" stroke-width="0.3"/>
<line x1="666.59" y1="105.33" x2="667.39" y2="105.33" stroke="#444" stroke-width="0.25"/>
<text transform="translate(666.09 106.43) rotate(0.03)" font-size="3.5" text-anchor="end" fill="#2a2a2a">-0.6</text>
<line x1="667.39" y1="116.31" x2="687.35" y2="116.31" stroke="#ececec" stroke-width="0.3"/>
<line x1="687.35" y1="116.31" x2="707.73" y2="116.31" stroke="#dcdcdc" stroke-width="0.3"/>
<line x1="666.59" y1="116.31" x2="667.39" y2="116.31" stroke="#444" stroke-width="0.25"/>
<text transform="translate(666.09 117.41) rotate(0.03)" font-size="3.5" text-anchor="end" fill="#2a2a2a">-0.8</text>
<rect x="667.39" y="79.96" width="40.34" height="36.64" fill="none" stroke="#8a8a8a" stroke-width="0.35"/>
<line x1="667.39" y1="116.59" x2="667.39" y2="117.39" stroke="#444" stroke-width="0.25"/>
<text transform="translate(667.39 120.79) rotate(0.03)" font-size="3.5" text-anchor="middle" fill="#2a2a2a">0</text>
<line x1="677.48" y1="116.59" x2="677.48" y2="117.39" stroke="#444" stroke-width="0.25"/>
<text transform="translate(677.48 120.79) rotate(0.03)" font-size="3.5" text-anchor="middle" fill="#2a2a2a">6</text>
<line x1="687.56" y1="116.59" x2="687.56" y2="117.39" stroke="#444" stroke-width="0.25"/>
<text transform="translate(687.56 120.79) rotate(0.03)" font-size="3.5" text-anchor="middle" fill="#2a2a2a">12</text>
<line x1="697.65" y1="116.59" x2="697.65" y2="117.39" stroke="#444" stroke-width="0.25"/>
<text transform="translate(697.65 120.79) rotate(0.03)" font-size="3.5" text-anchor="middle" fill="#2a2a2a">18</text>
<line x1="707.73" y1="116.59" x2="707.73" y2="117.39" stroke="#444" stroke-width="0.25"/>
<text transform="translate(707.73 120.79) rotate(0.03)" font-size="3.5" text-anchor="middle" fill="#2a2a2a">24</text>
<path d="M667.39 89.94C668.06 91 669.77 93.97 671.38 96.35C673 98.73 675.07 102.46 677.08 104.19C679.1 105.93 681.6 107.23 683.5 106.76C685.4 106.28 686.71 104.02 688.49 101.34C690.27 98.66 692.41 93.19 694.19 90.65C695.97 88.11 697.64 86.8 699.18 86.09C700.72 85.37 702.03 85.61 703.46 86.37C704.88 87.13 707.02 89.94 707.73 90.65" fill="none" stroke="#3a3a3a" stroke-width="0.45"/>
<path d="M667.39 94.93C668.77 94.76 672.62 94.52 675.66 93.93C678.7 93.33 682.31 91.5 685.64 91.36C688.96 91.22 691.93 92.48 695.62 93.07C699.3 93.67 705.71 94.62 707.73 94.93" fill="none" stroke="#2f8fd0" stroke-width="0.7"/>
<path d="M667.39 94.21C668.53 93.93 671.67 93.45 674.23 92.5C676.8 91.55 679.94 89.53 682.79 88.51C685.64 87.49 688.73 86.42 691.34 86.37C693.95 86.32 695.74 86.97 698.47 88.23C701.2 89.48 706.19 92.98 707.73 93.93" fill="none" stroke="#a83232" stroke-width="0.7"/>
<line x1="675.66" y1="93.64" x2="675.66" y2="105.62" stroke="#222" stroke-width="0.32"/>
<line x1="675.16" y1="93.64" x2="676.16" y2="93.64" stroke="#222" stroke-width="0.3"/>
<line x1="675.16" y1="105.62" x2="676.16" y2="105.62" stroke="#222" stroke-width="0.3"/>
<line x1="675.66" y1="88.94" x2="675.66" y2="100.91" stroke="#222" stroke-width="0.32"/>
<line x1="675.16" y1="88.94" x2="676.16" y2="88.94" stroke="#222" stroke-width="0.3"/>
<line x1="675.16" y1="100.91" x2="676.16" y2="100.91" stroke="#222" stroke-width="0.3"/>
<line x1="675.66" y1="86.09" x2="675.66" y2="98.06" stroke="#222" stroke-width="0.32"/>
<line x1="675.16" y1="86.09" x2="676.16" y2="86.09" stroke="#222" stroke-width="0.3"/>
<line x1="675.16" y1="98.06" x2="676.16" y2="98.06" stroke="#222" stroke-width="0.3"/>
<line x1="685.64" y1="100.63" x2="685.64" y2="114.88" stroke="#222" stroke-width="0.32"/>
<line x1="685.14" y1="100.63" x2="686.14" y2="100.63" stroke="#222" stroke-width="0.3"/>
<line x1="685.14" y1="114.88" x2="686.14" y2="114.88" stroke="#222" stroke-width="0.3"/>
<line x1="685.64" y1="83.52" x2="685.64" y2="97.78" stroke="#222" stroke-width="0.32"/>
<line x1="685.14" y1="83.52" x2="686.14" y2="83.52" stroke="#222" stroke-width="0.3"/>
<line x1="685.14" y1="97.78" x2="686.14" y2="97.78" stroke="#222" stroke-width="0.3"/>
<line x1="685.64" y1="80.96" x2="685.64" y2="95.21" stroke="#222" stroke-width="0.32"/>
<line x1="685.14" y1="80.96" x2="686.14" y2="80.96" stroke="#222" stroke-width="0.3"/>
<line x1="685.14" y1="95.21" x2="686.14" y2="95.21" stroke="#222" stroke-width="0.3"/>
<line x1="695.62" y1="80.26" x2="695.62" y2="95.5" stroke="#222" stroke-width="0.32"/>
<line x1="695.12" y1="80.26" x2="696.12" y2="80.26" stroke="#222" stroke-width="0.3"/>
<line x1="695.12" y1="95.5" x2="696.12" y2="95.5" stroke="#222" stroke-width="0.3"/>
<line x1="695.62" y1="85.09" x2="695.62" y2="102.48" stroke="#222" stroke-width="0.32"/>
<line x1="695.12" y1="85.09" x2="696.12" y2="85.09" stroke="#222" stroke-width="0.3"/>
<line x1="695.12" y1="102.48" x2="696.12" y2="102.48" stroke="#222" stroke-width="0.3"/>
<line x1="695.62" y1="80.26" x2="695.62" y2="96.49" stroke="#222" stroke-width="0.32"/>
<line x1="695.12" y1="80.26" x2="696.12" y2="80.26" stroke="#222" stroke-width="0.3"/>
<line x1="695.12" y1="96.49" x2="696.12" y2="96.49" stroke="#222" stroke-width="0.3"/>
<line x1="705.6" y1="83.24" x2="705.6" y2="98.06" stroke="#222" stroke-width="0.32"/>
<line x1="705.1" y1="83.24" x2="706.1" y2="83.24" stroke="#222" stroke-width="0.3"/>
<line x1="705.1" y1="98.06" x2="706.1" y2="98.06" stroke="#222" stroke-width="0.3"/>
<line x1="705.6" y1="86.8" x2="705.6" y2="101.63" stroke="#222" stroke-width="0.32"/>
<line x1="705.1" y1="86.8" x2="706.1" y2="86.8" stroke="#222" stroke-width="0.3"/>
<line x1="705.1" y1="101.63" x2="706.1" y2="101.63" stroke="#222" stroke-width="0.3"/>
<line x1="705.6" y1="85.66" x2="705.6" y2="100.48" stroke="#222" stroke-width="0.32"/>
<line x1="705.1" y1="85.66" x2="706.1" y2="85.66" stroke="#222" stroke-width="0.3"/>
<line x1="705.1" y1="100.48" x2="706.1" y2="100.48" stroke="#222" stroke-width="0.3"/>
<circle cx="675.66" cy="99.63" r="1.25" fill="#6b6b6b" stroke="#222" stroke-width="0.25"/>
<circle cx="685.64" cy="107.75" r="1.25" fill="#6b6b6b" stroke="#222" stroke-width="0.25"/>
<circle cx="695.62" cy="86.8" r="1.25" fill="#6b6b6b" stroke="#222" stroke-width="0.25"/>
<circle cx="705.6" cy="90.65" r="1.25" fill="#6b6b6b" stroke="#222" stroke-width="0.25"/>
<circle cx="675.66" cy="94.93" r="1.25" fill="#2f86c4" stroke="#222" stroke-width="0.25"/>
<circle cx="685.64" cy="90.65" r="1.25" fill="#2f86c4" stroke="#222" stroke-width="0.25"/>
<circle cx="695.62" cy="93.78" r="1.25" fill="#2f86c4" stroke="#222" stroke-width="0.25"/>
<circle cx="705.6" cy="94.21" r="1.25" fill="#2f86c4" stroke="#222" stroke-width="0.25"/>
<circle cx="675.66" cy="92.07" r="1.25" fill="#9e1b1e" stroke="#222" stroke-width="0.25"/>
<circle cx="685.64" cy="88.08" r="1.25" fill="#9e1b1e" stroke="#222" stroke-width="0.25"/>
<circle cx="695.62" cy="87.8" r="1.25" fill="#9e1b1e" stroke="#222" stroke-width="0.25"/>
<circle cx="705.6" cy="93.07" r="1.25" fill="#9e1b1e" stroke="#222" stroke-width="0.25"/>
<text transform="translate(656.79 98.28) rotate(-89.97)" font-size="4.25" text-anchor="middle" fill="#222">Relative expression (CLR)</text>
<text transform="translate(686.5 78.1) rotate(0.03)" font-size="5.25" text-anchor="middle" fill="#222">Glycine</text>
<rect x="666.63" y="134.75" width="40.19" height="36.87" fill="#fff"/>
<rect x="686.73" y="134.75" width="20.1" height="36.87" fill="#d2d2d2"/>
<line x1="671.66" y1="134.75" x2="671.66" y2="171.62" stroke="#ececec" stroke-width="0.3"/>
<line x1="676.68" y1="134.75" x2="676.68" y2="171.62" stroke="#ececec" stroke-width="0.3"/>
<line x1="681.7" y1="134.75" x2="681.7" y2="171.62" stroke="#ececec" stroke-width="0.3"/>
<line x1="686.73" y1="134.75" x2="686.73" y2="171.62" stroke="#dcdcdc" stroke-width="0.3"/>
<line x1="691.75" y1="134.75" x2="691.75" y2="171.62" stroke="#dcdcdc" stroke-width="0.3"/>
<line x1="696.78" y1="134.75" x2="696.78" y2="171.62" stroke="#dcdcdc" stroke-width="0.3"/>
<line x1="701.8" y1="134.75" x2="701.8" y2="171.62" stroke="#dcdcdc" stroke-width="0.3"/>
<line x1="666.63" y1="136.28" x2="686.73" y2="136.28" stroke="#ececec" stroke-width="0.3"/>
<line x1="686.73" y1="136.28" x2="706.83" y2="136.28" stroke="#dcdcdc" stroke-width="0.3"/>
<line x1="665.83" y1="136.28" x2="666.63" y2="136.28" stroke="#444" stroke-width="0.25"/>
<text transform="translate(665.33 137.38) rotate(0.03)" font-size="3.5" text-anchor="end" fill="#2a2a2a">-3.5</text>
<line x1="666.63" y1="143.07" x2="686.73" y2="143.07" stroke="#ececec" stroke-width="0.3"/>
<line x1="686.73" y1="143.07" x2="706.83" y2="143.07" stroke="#dcdcdc" stroke-width="0.3"/>
<line x1="665.83" y1="143.07" x2="666.63" y2="143.07" stroke="#444" stroke-width="0.25"/>
<text transform="translate(665.33 144.17) rotate(0.03)" font-size="3.5" text-anchor="end" fill="#2a2a2a">-4.0</text>
<line x1="666.63" y1="149.72" x2="686.73" y2="149.72" stroke="#ececec" stroke-width="0.3"/>
<line x1="686.73" y1="149.72" x2="706.83" y2="149.72" stroke="#dcdcdc" stroke-width="0.3"/>
<line x1="665.83" y1="149.72" x2="666.63" y2="149.72" stroke="#444" stroke-width="0.25"/>
<text transform="translate(665.33 150.82) rotate(0.03)" font-size="3.5" text-anchor="end" fill="#2a2a2a">-4.5</text>
<line x1="666.63" y1="156.37" x2="686.73" y2="156.37" stroke="#ececec" stroke-width="0.3"/>
<line x1="686.73" y1="156.37" x2="706.83" y2="156.37" stroke="#dcdcdc" stroke-width="0.3"/>
<line x1="665.83" y1="156.37" x2="666.63" y2="156.37" stroke="#444" stroke-width="0.25"/>
<text transform="translate(665.33 157.47) rotate(0.03)" font-size="3.5" text-anchor="end" fill="#2a2a2a">-5.0</text>
<line x1="666.63" y1="163.16" x2="686.73" y2="163.16" stroke="#ececec" stroke-width="0.3"/>
<line x1="686.73" y1="163.16" x2="706.83" y2="163.16" stroke="#dcdcdc" stroke-width="0.3"/>
<line x1="665.83" y1="163.16" x2="666.63" y2="163.16" stroke="#444" stroke-width="0.25"/>
<text transform="translate(665.33 164.26) rotate(0.03)" font-size="3.5" text-anchor="end" fill="#2a2a2a">-5.5</text>
<line x1="666.63" y1="170.09" x2="686.73" y2="170.09" stroke="#ececec" stroke-width="0.3"/>
<line x1="686.73" y1="170.09" x2="706.83" y2="170.09" stroke="#dcdcdc" stroke-width="0.3"/>
<line x1="665.83" y1="170.09" x2="666.63" y2="170.09" stroke="#444" stroke-width="0.25"/>
<text transform="translate(665.33 171.19) rotate(0.03)" font-size="3.5" text-anchor="end" fill="#2a2a2a">-6.0</text>
<rect x="666.63" y="134.75" width="40.19" height="36.87" fill="none" stroke="#8a8a8a" stroke-width="0.35"/>
<line x1="666.63" y1="171.62" x2="666.63" y2="172.42" stroke="#444" stroke-width="0.25"/>
<text transform="translate(666.63 175.82) rotate(0.03)" font-size="3.5" text-anchor="middle" fill="#2a2a2a">0</text>
<line x1="676.68" y1="171.62" x2="676.68" y2="172.42" stroke="#444" stroke-width="0.25"/>
<text transform="translate(676.68 175.82) rotate(0.03)" font-size="3.5" text-anchor="middle" fill="#2a2a2a">6</text>
<line x1="686.73" y1="171.62" x2="686.73" y2="172.42" stroke="#444" stroke-width="0.25"/>
<text transform="translate(686.73 175.82) rotate(0.03)" font-size="3.5" text-anchor="middle" fill="#2a2a2a">12</text>
<line x1="696.78" y1="171.62" x2="696.78" y2="172.42" stroke="#444" stroke-width="0.25"/>
<text transform="translate(696.78 175.82) rotate(0.03)" font-size="3.5" text-anchor="middle" fill="#2a2a2a">18</text>
<line x1="706.83" y1="171.62" x2="706.83" y2="172.42" stroke="#444" stroke-width="0.25"/>
<text transform="translate(706.83 175.82) rotate(0.03)" font-size="3.5" text-anchor="middle" fill="#2a2a2a">24</text>
<path d="M666.63 142.79C667.56 143.95 670.33 147.41 672.18 149.72C674.02 152.03 675.87 155.15 677.72 156.65C679.57 158.15 681.42 158.96 683.26 158.73C685.11 158.5 686.84 157.23 688.81 155.26C690.77 153.3 693.2 149.14 695.05 146.95C696.89 144.75 698.51 143.02 699.9 142.1C701.28 141.17 702.21 141.29 703.36 141.4C704.52 141.52 706.25 142.56 706.83 142.79" fill="none" stroke="#3a3a3a" stroke-width="0.45"/>
<path d="M666.63 147.23C667.33 147.29 668.94 146.81 670.79 147.64C672.64 148.47 675.41 150.71 677.72 152.21C680.03 153.72 682.57 155.73 684.65 156.65C686.73 157.57 688.12 157.87 690.19 157.76C692.27 157.64 695.05 156.95 697.12 155.96C699.2 154.96 701.05 153.07 702.67 151.8C704.29 150.53 706.13 148.91 706.83 148.33" fill="none" stroke="#2f8fd0" stroke-width="0.7"/>
<path d="M666.63 143.48C667.9 143.83 671.71 145.56 674.26 145.56C676.8 145.56 679.45 144.36 681.88 143.48C684.3 142.61 686.73 140.99 688.81 140.3C690.89 139.6 692.39 139.26 694.35 139.33C696.32 139.39 698.51 140.13 700.59 140.71C702.67 141.29 705.79 142.44 706.83 142.79" fill="none" stroke="#a83232" stroke-width="0.7"/>
<line x1="674.95" y1="144.18" x2="674.95" y2="153.88" stroke="#222" stroke-width="0.32"/>
<line x1="674.45" y1="144.18" x2="675.45" y2="144.18" stroke="#222" stroke-width="0.3"/>
<line x1="674.45" y1="153.88" x2="675.45" y2="153.88" stroke="#222" stroke-width="0.3"/>
<line x1="674.95" y1="146.95" x2="674.95" y2="156.65" stroke="#222" stroke-width="0.32"/>
<line x1="674.45" y1="146.95" x2="675.45" y2="146.95" stroke="#222" stroke-width="0.3"/>
<line x1="674.45" y1="156.65" x2="675.45" y2="156.65" stroke="#222" stroke-width="0.3"/>
<line x1="674.95" y1="140.3" x2="674.95" y2="150" stroke="#222" stroke-width="0.32"/>
<line x1="674.45" y1="140.3" x2="675.45" y2="140.3" stroke="#222" stroke-width="0.3"/>
<line x1="674.45" y1="150" x2="675.45" y2="150" stroke="#222" stroke-width="0.3"/>
<line x1="684.93" y1="156.51" x2="684.93" y2="169.82" stroke="#222" stroke-width="0.32"/>
<line x1="684.43" y1="156.51" x2="685.43" y2="156.51" stroke="#222" stroke-width="0.3"/>
<line x1="684.43" y1="169.82" x2="685.43" y2="169.82" stroke="#222" stroke-width="0.3"/>
<line x1="684.93" y1="147.5" x2="684.93" y2="160.81" stroke="#222" stroke-width="0.32"/>
<line x1="684.43" y1="147.5" x2="685.43" y2="147.5" stroke="#222" stroke-width="0.3"/>
<line x1="684.43" y1="160.81" x2="685.43" y2="160.81" stroke="#222" stroke-width="0.3"/>
<line x1="684.93" y1="135.44" x2="684.93" y2="148.75" stroke="#222" stroke-width="0.32"/>
<line x1="684.43" y1="135.44" x2="685.43" y2="135.44" stroke="#222" stroke-width="0.3"/>
<line x1="684.43" y1="148.75" x2="685.43" y2="148.75" stroke="#222" stroke-width="0.3"/>
<line x1="694.77" y1="136.55" x2="694.77" y2="150.41" stroke="#222" stroke-width="0.32"/>
<line x1="694.27" y1="136.55" x2="695.27" y2="136.55" stroke="#222" stroke-width="0.3"/>
<line x1="694.27" y1="150.41" x2="695.27" y2="150.41" stroke="#222" stroke-width="0.3"/>
<line x1="694.77" y1="151.38" x2="694.77" y2="165.24" stroke="#222" stroke-width="0.32"/>
<line x1="694.27" y1="151.38" x2="695.27" y2="151.38" stroke="#222" stroke-width="0.3"/>
<line x1="694.27" y1="165.24" x2="695.27" y2="165.24" stroke="#222" stroke-width="0.3"/>
<line x1="694.77" y1="135.05" x2="694.77" y2="146.26" stroke="#222" stroke-width="0.32"/>
<line x1="694.27" y1="135.05" x2="695.27" y2="135.05" stroke="#222" stroke-width="0.3"/>
<line x1="694.27" y1="146.26" x2="695.27" y2="146.26" stroke="#222" stroke-width="0.3"/>
<line x1="705.02" y1="146.26" x2="705.02" y2="151.8" stroke="#222" stroke-width="0.32"/>
<line x1="704.52" y1="146.26" x2="705.52" y2="146.26" stroke="#222" stroke-width="0.3"/>
<line x1="704.52" y1="151.8" x2="705.52" y2="151.8" stroke="#222" stroke-width="0.3"/>
<line x1="705.02" y1="143.07" x2="705.02" y2="148.61" stroke="#222" stroke-width="0.32"/>
<line x1="704.52" y1="143.07" x2="705.52" y2="143.07" stroke="#222" stroke-width="0.3"/>
<line x1="704.52" y1="148.61" x2="705.52" y2="148.61" stroke="#222" stroke-width="0.3"/>
<line x1="705.02" y1="140.02" x2="705.02" y2="145.56" stroke="#222" stroke-width="0.32"/>
<line x1="704.52" y1="140.02" x2="705.52" y2="140.02" stroke="#222" stroke-width="0.3"/>
<line x1="704.52" y1="145.56" x2="705.52" y2="145.56" stroke="#222" stroke-width="0.3"/>
<circle cx="674.95" cy="149.03" r="1.25" fill="#6b6b6b" stroke="#222" stroke-width="0.25"/>
<circle cx="684.93" cy="163.16" r="1.25" fill="#6b6b6b" stroke="#222" stroke-width="0.25"/>
<circle cx="694.77" cy="143.48" r="1.25" fill="#6b6b6b" stroke="#222" stroke-width="0.25"/>
<circle cx="705.02" cy="149.03" r="1.25" fill="#6b6b6b" stroke="#222" stroke-width="0.25"/>
<circle cx="674.95" cy="151.8" r="1.25" fill="#2f86c4" stroke="#222" stroke-width="0.25"/>
<circle cx="684.93" cy="154.16" r="1.25" fill="#2f86c4" stroke="#222" stroke-width="0.25"/>
<circle cx="694.77" cy="158.31" r="1.25" fill="#2f86c4" stroke="#222" stroke-width="0.25"/>
<circle cx="705.02" cy="145.84" r="1.25" fill="#2f86c4" stroke="#222" stroke-width="0.25"/>
<circle cx="674.95" cy="145.15" r="1.25" fill="#9e1b1e" stroke="#222" stroke-width="0.25"/>
<circle cx="684.93" cy="142.1" r="1.25" fill="#9e1b1e" stroke="#222" stroke-width="0.25"/>
<circle cx="694.77" cy="139.33" r="1.25" fill="#9e1b1e" stroke="#222" stroke-width="0.25"/>
<circle cx="705.02" cy="142.79" r="1.25" fill="#9e1b1e" stroke="#222" stroke-width="0.25"/>
<text transform="translate(686.73 181.22) rotate(0.03)" font-size="4.1" text-anchor="middle" font-style="italic" fill="#222">Zeitgeber</text>
<text transform="translate(656.33 153.19) rotate(-89.97)" font-size="4.25" text-anchor="middle" fill="#222">Relative expression (CLR)</text>
<text transform="translate(687 132.8) rotate(0.03)" font-size="5.25" text-anchor="middle" fill="#222">Cysteine</text>
<rect x="537.1" y="176.4" width="40.21" height="35.82" fill="#fff"/>
<rect x="557.12" y="176.4" width="20.19" height="35.82" fill="#d2d2d2"/>
<line x1="542.12" y1="176.4" x2="542.12" y2="212.22" stroke="#ececec" stroke-width="0.3"/>
<line x1="547.15" y1="176.4" x2="547.15" y2="212.22" stroke="#ececec" stroke-width="0.3"/>
<line x1="552.18" y1="176.4" x2="552.18" y2="212.22" stroke="#ececec" stroke-width="0.3"/>
<line x1="557.2" y1="176.4" x2="557.2" y2="212.22" stroke="#dcdcdc" stroke-width="0.3"/>
<line x1="562.23" y1="176.4" x2="562.23" y2="212.22" stroke="#dcdcdc" stroke-width="0.3"/>
<line x1="567.26" y1="176.4" x2="567.26" y2="212.22" stroke="#dcdcdc" stroke-width="0.3"/>
<line x1="572.28" y1="176.4" x2="572.28" y2="212.22" stroke="#dcdcdc" stroke-width="0.3"/>
<line x1="537.1" y1="185.68" x2="557.12" y2="185.68" stroke="#ececec" stroke-width="0.3"/>
<line x1="557.12" y1="185.68" x2="577.31" y2="185.68" stroke="#dcdcdc" stroke-width="0.3"/>
<line x1="536.3" y1="185.68" x2="537.1" y2="185.68" stroke="#444" stroke-width="0.25"/>
<text transform="translate(535.8 186.78) rotate(0.03)" font-size="3.5" text-anchor="end" fill="#2a2a2a">3.5</text>
<line x1="537.1" y1="196.26" x2="557.12" y2="196.26" stroke="#ececec" stroke-width="0.3"/>
<line x1="557.12" y1="196.26" x2="577.31" y2="196.26" stroke="#dcdcdc" stroke-width="0.3"/>
<line x1="536.3" y1="196.26" x2="537.1" y2="196.26" stroke="#444" stroke-width="0.25"/>
<text transform="translate(535.8 197.36) rotate(0.03)" font-size="3.5" text-anchor="end" fill="#2a2a2a">3.4</text>
<line x1="537.1" y1="207.01" x2="557.12" y2="207.01" stroke="#ececec" stroke-width="0.3"/>
<line x1="557.12" y1="207.01" x2="577.31" y2="207.01" stroke="#dcdcdc" stroke-width="0.3"/>
<line x1="536.3" y1="207.01" x2="537.1" y2="207.01" stroke="#444" stroke-width="0.25"/>
<text transform="translate(535.8 208.11) rotate(0.03)" font-size="3.5" text-anchor="end" fill="#2a2a2a">3.3</text>
<rect x="537.1" y="176.4" width="40.21" height="35.82" fill="none" stroke="#8a8a8a" stroke-width="0.35"/>
<line x1="537.1" y1="212.22" x2="537.1" y2="213.02" stroke="#444" stroke-width="0.25"/>
<text transform="translate(537.1 216.42) rotate(0.03)" font-size="3.5" text-anchor="middle" fill="#2a2a2a">0</text>
<line x1="547.15" y1="212.22" x2="547.15" y2="213.02" stroke="#444" stroke-width="0.25"/>
<text transform="translate(547.15 216.42) rotate(0.03)" font-size="3.5" text-anchor="middle" fill="#2a2a2a">6</text>
<line x1="557.2" y1="212.22" x2="557.2" y2="213.02" stroke="#444" stroke-width="0.25"/>
<text transform="translate(557.2 216.42) rotate(0.03)" font-size="3.5" text-anchor="middle" fill="#2a2a2a">12</text>
<line x1="567.26" y1="212.22" x2="567.26" y2="213.02" stroke="#444" stroke-width="0.25"/>
<text transform="translate(567.26 216.42) rotate(0.03)" font-size="3.5" text-anchor="middle" fill="#2a2a2a">18</text>
<line x1="577.31" y1="212.22" x2="577.31" y2="213.02" stroke="#444" stroke-width="0.25"/>
<text transform="translate(577.31 216.42) rotate(0.03)" font-size="3.5" text-anchor="middle" fill="#2a2a2a">24</text>
<path d="M537.1 185.68C538.32 186.25 541.98 188.15 544.42 189.1C546.86 190.05 549.31 191.38 551.75 191.38C554.19 191.38 556.77 190.02 559.08 189.1C561.38 188.17 563.42 186.6 565.59 185.84C567.76 185.08 570.15 184.97 572.1 184.54C574.05 184.1 576.44 183.45 577.31 183.24" fill="none" stroke="#3a3a3a" stroke-width="0.45"/>
<path d="M537.1 201.63C538.59 201.23 543.07 199.92 546.05 199.19C549.04 198.46 552.29 197.18 555 197.24C557.72 197.29 560.02 198.65 562.33 199.52C564.64 200.38 566.35 202.01 568.84 202.45C571.34 202.88 575.9 202.18 577.31 202.12" fill="none" stroke="#2f8fd0" stroke-width="0.7"/>
<path d="M537.1 199.52C538.32 200.28 541.84 202.72 544.42 204.08C547 205.43 549.85 207.52 552.56 207.66C555.28 207.79 558.26 206.03 560.7 204.89C563.15 203.75 565.32 201.77 567.22 200.82C569.12 199.87 570.42 199.41 572.1 199.19C573.78 198.97 576.44 199.46 577.31 199.52" fill="none" stroke="#a83232" stroke-width="0.7"/>
<line x1="545.56" y1="186.17" x2="545.56" y2="199.19" stroke="#222" stroke-width="0.32"/>
<line x1="545.06" y1="186.17" x2="546.06" y2="186.17" stroke="#222" stroke-width="0.3"/>
<line x1="545.06" y1="199.19" x2="546.06" y2="199.19" stroke="#222" stroke-width="0.3"/>
<line x1="545.56" y1="195.45" x2="545.56" y2="208.47" stroke="#222" stroke-width="0.32"/>
<line x1="545.06" y1="195.45" x2="546.06" y2="195.45" stroke="#222" stroke-width="0.3"/>
<line x1="545.06" y1="208.47" x2="546.06" y2="208.47" stroke="#222" stroke-width="0.3"/>
<line x1="545.56" y1="197.56" x2="545.56" y2="210.59" stroke="#222" stroke-width="0.32"/>
<line x1="545.06" y1="197.56" x2="546.06" y2="197.56" stroke="#222" stroke-width="0.3"/>
<line x1="545.06" y1="210.59" x2="546.06" y2="210.59" stroke="#222" stroke-width="0.3"/>
<line x1="555.49" y1="181.28" x2="555.49" y2="193.33" stroke="#222" stroke-width="0.32"/>
<line x1="554.99" y1="181.28" x2="555.99" y2="181.28" stroke="#222" stroke-width="0.3"/>
<line x1="554.99" y1="193.33" x2="555.99" y2="193.33" stroke="#222" stroke-width="0.3"/>
<line x1="555.49" y1="189.91" x2="555.49" y2="201.96" stroke="#222" stroke-width="0.32"/>
<line x1="554.99" y1="189.91" x2="555.99" y2="189.91" stroke="#222" stroke-width="0.3"/>
<line x1="554.99" y1="201.96" x2="555.99" y2="201.96" stroke="#222" stroke-width="0.3"/>
<line x1="555.49" y1="200.98" x2="555.49" y2="211.92" stroke="#222" stroke-width="0.32"/>
<line x1="554.99" y1="200.98" x2="555.99" y2="200.98" stroke="#222" stroke-width="0.3"/>
<line x1="554.99" y1="211.92" x2="555.99" y2="211.92" stroke="#222" stroke-width="0.3"/>
<line x1="565.59" y1="182.91" x2="565.59" y2="195.93" stroke="#222" stroke-width="0.32"/>
<line x1="565.09" y1="182.91" x2="566.09" y2="182.91" stroke="#222" stroke-width="0.3"/>
<line x1="565.09" y1="195.93" x2="566.09" y2="195.93" stroke="#222" stroke-width="0.3"/>
<line x1="565.59" y1="197.07" x2="565.59" y2="210.1" stroke="#222" stroke-width="0.32"/>
<line x1="565.09" y1="197.07" x2="566.09" y2="197.07" stroke="#222" stroke-width="0.3"/>
<line x1="565.09" y1="210.1" x2="566.09" y2="210.1" stroke="#222" stroke-width="0.3"/>
<line x1="565.59" y1="195.12" x2="565.59" y2="208.15" stroke="#222" stroke-width="0.32"/>
<line x1="565.09" y1="195.12" x2="566.09" y2="195.12" stroke="#222" stroke-width="0.3"/>
<line x1="565.09" y1="208.15" x2="566.09" y2="208.15" stroke="#222" stroke-width="0.3"/>
<line x1="575.68" y1="176.7" x2="575.68" y2="187.79" stroke="#222" stroke-width="0.32"/>
<line x1="575.18" y1="176.7" x2="576.18" y2="176.7" stroke="#222" stroke-width="0.3"/>
<line x1="575.18" y1="187.79" x2="576.18" y2="187.79" stroke="#222" stroke-width="0.3"/>
<line x1="575.68" y1="194.31" x2="575.68" y2="205.7" stroke="#222" stroke-width="0.32"/>
<line x1="575.18" y1="194.31" x2="576.18" y2="194.31" stroke="#222" stroke-width="0.3"/>
<line x1="575.18" y1="205.7" x2="576.18" y2="205.7" stroke="#222" stroke-width="0.3"/>
<line x1="575.68" y1="194.31" x2="575.68" y2="205.7" stroke="#222" stroke-width="0.32"/>
<line x1="575.18" y1="194.31" x2="576.18" y2="194.31" stroke="#222" stroke-width="0.3"/>
<line x1="575.18" y1="205.7" x2="576.18" y2="205.7" stroke="#222" stroke-width="0.3"/>
<circle cx="545.56" cy="192.68" r="1.25" fill="#6b6b6b" stroke="#222" stroke-width="0.25"/>
<circle cx="555.49" cy="187.31" r="1.25" fill="#6b6b6b" stroke="#222" stroke-width="0.25"/>
<circle cx="565.59" cy="189.42" r="1.25" fill="#6b6b6b" stroke="#222" stroke-width="0.25"/>
<circle cx="575.68" cy="182.1" r="1.25" fill="#6b6b6b" stroke="#222" stroke-width="0.25"/>
<circle cx="545.56" cy="201.96" r="1.25" fill="#2f86c4" stroke="#222" stroke-width="0.25"/>
<circle cx="555.49" cy="195.93" r="1.25" fill="#2f86c4" stroke="#222" stroke-width="0.25"/>
<circle cx="565.59" cy="203.59" r="1.25" fill="#2f86c4" stroke="#222" stroke-width="0.25"/>
<circle cx="575.68" cy="200" r="1.25" fill="#2f86c4" stroke="#222" stroke-width="0.25"/>
<circle cx="545.56" cy="204.08" r="1.25" fill="#9e1b1e" stroke="#222" stroke-width="0.25"/>
<circle cx="555.49" cy="207.01" r="1.25" fill="#9e1b1e" stroke="#222" stroke-width="0.25"/>
<circle cx="565.59" cy="201.63" r="1.25" fill="#9e1b1e" stroke="#222" stroke-width="0.25"/>
<circle cx="575.68" cy="200" r="1.25" fill="#9e1b1e" stroke="#222" stroke-width="0.25"/>
<text transform="translate(557.2 221.82) rotate(0.03)" font-size="4.1" text-anchor="middle" font-style="italic" fill="#222">Zeitgeber</text>
<text transform="translate(528.2 194.31) rotate(-89.97)" font-size="4.25" text-anchor="middle" fill="#222">Relative expression (CLR)</text>
<rect x="591.15" y="176.4" width="40.38" height="35.82" fill="#fff"/>
<rect x="611.18" y="176.4" width="20.35" height="35.82" fill="#d2d2d2"/>
<line x1="596.2" y1="176.4" x2="596.2" y2="212.22" stroke="#ececec" stroke-width="0.3"/>
<line x1="601.24" y1="176.4" x2="601.24" y2="212.22" stroke="#ececec" stroke-width="0.3"/>
<line x1="606.29" y1="176.4" x2="606.29" y2="212.22" stroke="#ececec" stroke-width="0.3"/>
<line x1="611.34" y1="176.4" x2="611.34" y2="212.22" stroke="#dcdcdc" stroke-width="0.3"/>
<line x1="616.39" y1="176.4" x2="616.39" y2="212.22" stroke="#dcdcdc" stroke-width="0.3"/>
<line x1="621.43" y1="176.4" x2="621.43" y2="212.22" stroke="#dcdcdc" stroke-width="0.3"/>
<line x1="626.48" y1="176.4" x2="626.48" y2="212.22" stroke="#dcdcdc" stroke-width="0.3"/>
<line x1="591.15" y1="188.61" x2="611.18" y2="188.61" stroke="#ececec" stroke-width="0.3"/>
<line x1="611.18" y1="188.61" x2="631.53" y2="188.61" stroke="#dcdcdc" stroke-width="0.3"/>
<line x1="590.35" y1="188.61" x2="591.15" y2="188.61" stroke="#444" stroke-width="0.25"/>
<text transform="translate(589.85 189.71) rotate(0.03)" font-size="3.5" text-anchor="end" fill="#2a2a2a">3.8</text>
<line x1="591.15" y1="202.12" x2="611.18" y2="202.12" stroke="#ececec" stroke-width="0.3"/>
<line x1="611.18" y1="202.12" x2="631.53" y2="202.12" stroke="#dcdcdc" stroke-width="0.3"/>
<line x1="590.35" y1="202.12" x2="591.15" y2="202.12" stroke="#444" stroke-width="0.25"/>
<text transform="translate(589.85 203.22) rotate(0.03)" font-size="3.5" text-anchor="end" fill="#2a2a2a">3.7</text>
<rect x="591.15" y="176.4" width="40.38" height="35.82" fill="none" stroke="#8a8a8a" stroke-width="0.35"/>
<line x1="591.15" y1="212.22" x2="591.15" y2="213.02" stroke="#444" stroke-width="0.25"/>
<text transform="translate(591.15 216.42) rotate(0.03)" font-size="3.5" text-anchor="middle" fill="#2a2a2a">0</text>
<line x1="601.24" y1="212.22" x2="601.24" y2="213.02" stroke="#444" stroke-width="0.25"/>
<text transform="translate(601.24 216.42) rotate(0.03)" font-size="3.5" text-anchor="middle" fill="#2a2a2a">6</text>
<line x1="611.34" y1="212.22" x2="611.34" y2="213.02" stroke="#444" stroke-width="0.25"/>
<text transform="translate(611.34 216.42) rotate(0.03)" font-size="3.5" text-anchor="middle" fill="#2a2a2a">12</text>
<line x1="621.43" y1="212.22" x2="621.43" y2="213.02" stroke="#444" stroke-width="0.25"/>
<text transform="translate(621.43 216.42) rotate(0.03)" font-size="3.5" text-anchor="middle" fill="#2a2a2a">18</text>
<line x1="631.53" y1="212.22" x2="631.53" y2="213.02" stroke="#444" stroke-width="0.25"/>
<text transform="translate(631.53 216.42) rotate(0.03)" font-size="3.5" text-anchor="middle" fill="#2a2a2a">24</text>
<path d="M591.15 183.24C592.32 184.27 596.03 187.58 598.15 189.42C600.27 191.27 602.09 193.22 603.85 194.31C605.61 195.39 606.97 196.75 608.73 195.93C610.5 195.12 612.67 191.65 614.43 189.42C616.2 187.2 617.96 183.94 619.32 182.58C620.67 181.23 621.22 181.36 622.57 181.28C623.93 181.2 625.96 181.69 627.46 182.1C628.95 182.5 630.85 183.45 631.53 183.72" fill="none" stroke="#3a3a3a" stroke-width="0.45"/>
<path d="M591.15 191.05C591.91 190.18 594.27 187.06 595.71 185.84C597.15 184.62 598.01 183.4 599.78 183.72C601.54 184.05 603.98 185.62 606.29 187.79C608.6 189.96 611.31 194.71 613.62 196.75C615.92 198.78 618.1 200.14 620.13 200C622.17 199.87 623.93 197.7 625.83 195.93C627.73 194.17 630.58 190.51 631.53 189.42" fill="none" stroke="#2f8fd0" stroke-width="0.7"/>
<path d="M591.15 198.38C591.91 199 594.27 201.31 595.71 202.12C597.15 202.94 598.01 203.7 599.78 203.26C601.54 202.83 603.98 201.33 606.29 199.52C608.6 197.7 611.45 194.04 613.62 192.35C615.79 190.67 617.42 189.5 619.32 189.42C621.22 189.34 622.98 190.37 625.01 191.86C627.05 193.36 630.44 197.29 631.53 198.38" fill="none" stroke="#a83232" stroke-width="0.7"/>
<line x1="599.45" y1="181.28" x2="599.45" y2="192.68" stroke="#222" stroke-width="0.32"/>
<line x1="598.95" y1="181.28" x2="599.95" y2="181.28" stroke="#222" stroke-width="0.3"/>
<line x1="598.95" y1="192.68" x2="599.95" y2="192.68" stroke="#222" stroke-width="0.3"/>
<line x1="599.45" y1="181.77" x2="599.45" y2="193.17" stroke="#222" stroke-width="0.32"/>
<line x1="598.95" y1="181.77" x2="599.95" y2="181.77" stroke="#222" stroke-width="0.3"/>
<line x1="598.95" y1="193.17" x2="599.95" y2="193.17" stroke="#222" stroke-width="0.3"/>
<line x1="599.45" y1="194.31" x2="599.45" y2="205.7" stroke="#222" stroke-width="0.32"/>
<line x1="598.95" y1="194.31" x2="599.95" y2="194.31" stroke="#222" stroke-width="0.3"/>
<line x1="598.95" y1="205.7" x2="599.95" y2="205.7" stroke="#222" stroke-width="0.3"/>
<line x1="609.55" y1="191.05" x2="609.55" y2="205.7" stroke="#222" stroke-width="0.32"/>
<line x1="609.05" y1="191.05" x2="610.05" y2="191.05" stroke="#222" stroke-width="0.3"/>
<line x1="609.05" y1="205.7" x2="610.05" y2="205.7" stroke="#222" stroke-width="0.3"/>
<line x1="609.55" y1="182.42" x2="609.55" y2="197.07" stroke="#222" stroke-width="0.32"/>
<line x1="609.05" y1="182.42" x2="610.05" y2="182.42" stroke="#222" stroke-width="0.3"/>
<line x1="609.05" y1="197.07" x2="610.05" y2="197.07" stroke="#222" stroke-width="0.3"/>
<line x1="609.55" y1="186.65" x2="609.55" y2="201.31" stroke="#222" stroke-width="0.32"/>
<line x1="609.05" y1="186.65" x2="610.05" y2="186.65" stroke="#222" stroke-width="0.3"/>
<line x1="609.05" y1="201.31" x2="610.05" y2="201.31" stroke="#222" stroke-width="0.3"/>
<line x1="619.64" y1="176.7" x2="619.64" y2="191.54" stroke="#222" stroke-width="0.32"/>
<line x1="619.14" y1="176.7" x2="620.14" y2="176.7" stroke="#222" stroke-width="0.3"/>
<line x1="619.14" y1="191.54" x2="620.14" y2="191.54" stroke="#222" stroke-width="0.3"/>
<line x1="619.64" y1="193.33" x2="619.64" y2="211.92" stroke="#222" stroke-width="0.32"/>
<line x1="619.14" y1="193.33" x2="620.14" y2="193.33" stroke="#222" stroke-width="0.3"/>
<line x1="619.14" y1="211.92" x2="620.14" y2="211.92" stroke="#222" stroke-width="0.3"/>
<line x1="619.64" y1="177.21" x2="619.64" y2="196.1" stroke="#222" stroke-width="0.32"/>
<line x1="619.14" y1="177.21" x2="620.14" y2="177.21" stroke="#222" stroke-width="0.3"/>
<line x1="619.14" y1="196.1" x2="620.14" y2="196.1" stroke="#222" stroke-width="0.3"/>
<line x1="629.57" y1="182.1" x2="629.57" y2="189.58" stroke="#222" stroke-width="0.32"/>
<line x1="629.07" y1="182.1" x2="630.07" y2="182.1" stroke="#222" stroke-width="0.3"/>
<line x1="629.07" y1="189.58" x2="630.07" y2="189.58" stroke="#222" stroke-width="0.3"/>
<line x1="629.57" y1="186" x2="629.57" y2="193.49" stroke="#222" stroke-width="0.32"/>
<line x1="629.07" y1="186" x2="630.07" y2="186" stroke="#222" stroke-width="0.3"/>
<line x1="629.07" y1="193.49" x2="630.07" y2="193.49" stroke="#222" stroke-width="0.3"/>
<line x1="629.57" y1="195.45" x2="629.57" y2="202.94" stroke="#222" stroke-width="0.32"/>
<line x1="629.07" y1="195.45" x2="630.07" y2="195.45" stroke="#222" stroke-width="0.3"/>
<line x1="629.07" y1="202.94" x2="630.07" y2="202.94" stroke="#222" stroke-width="0.3"/>
<circle cx="599.45" cy="186.98" r="1.25" fill="#6b6b6b" stroke="#222" stroke-width="0.25"/>
<circle cx="609.55" cy="198.38" r="1.25" fill="#6b6b6b" stroke="#222" stroke-width="0.25"/>
<circle cx="619.64" cy="182.1" r="1.25" fill="#6b6b6b" stroke="#222" stroke-width="0.25"/>
<circle cx="629.57" cy="185.84" r="1.25" fill="#6b6b6b" stroke="#222" stroke-width="0.25"/>
<circle cx="599.45" cy="187.47" r="1.25" fill="#2f86c4" stroke="#222" stroke-width="0.25"/>
<circle cx="609.55" cy="189.75" r="1.25" fill="#2f86c4" stroke="#222" stroke-width="0.25"/>
<circle cx="619.64" cy="202.77" r="1.25" fill="#2f86c4" stroke="#222" stroke-width="0.25"/>
<circle cx="629.57" cy="189.75" r="1.25" fill="#2f86c4" stroke="#222" stroke-width="0.25"/>
<circle cx="599.45" cy="200" r="1.25" fill="#9e1b1e" stroke="#222" stroke-width="0.25"/>
<circle cx="609.55" cy="193.98" r="1.25" fill="#9e1b1e" stroke="#222" stroke-width="0.25"/>
<circle cx="619.64" cy="186.65" r="1.25" fill="#9e1b1e" stroke="#222" stroke-width="0.25"/>
<circle cx="629.57" cy="199.19" r="1.25" fill="#9e1b1e" stroke="#222" stroke-width="0.25"/>
<text transform="translate(611.34 221.82) rotate(0.03)" font-size="4.1" text-anchor="middle" font-style="italic" fill="#222">Zeitgeber</text>
<text transform="translate(582.3 172.6) rotate(0.03)" font-size="5.25" text-anchor="middle" fill="#222">Glutamate</text>
<rect x="539.54" y="253.35" width="39.89" height="36.31" fill="#fff"/>
<rect x="559.56" y="253.35" width="19.86" height="36.31" fill="#d2d2d2"/>
<line x1="544.52" y1="253.35" x2="544.52" y2="289.66" stroke="#ececec" stroke-width="0.3"/>
<line x1="549.51" y1="253.35" x2="549.51" y2="289.66" stroke="#ececec" stroke-width="0.3"/>
<line x1="554.5" y1="253.35" x2="554.5" y2="289.66" stroke="#ececec" stroke-width="0.3"/>
<line x1="559.48" y1="253.35" x2="559.48" y2="289.66" stroke="#ececec" stroke-width="0.3"/>
<line x1="564.47" y1="253.35" x2="564.47" y2="289.66" stroke="#dcdcdc" stroke-width="0.3"/>
<line x1="569.45" y1="253.35" x2="569.45" y2="289.66" stroke="#dcdcdc" stroke-width="0.3"/>
<line x1="574.44" y1="253.35" x2="574.44" y2="289.66" stroke="#dcdcdc" stroke-width="0.3"/>
<line x1="539.54" y1="257.1" x2="559.56" y2="257.1" stroke="#ececec" stroke-width="0.3"/>
<line x1="559.56" y1="257.1" x2="579.43" y2="257.1" stroke="#dcdcdc" stroke-width="0.3"/>
<line x1="538.74" y1="257.1" x2="539.54" y2="257.1" stroke="#444" stroke-width="0.25"/>
<text transform="translate(538.24 258.2) rotate(0.03)" font-size="3.5" text-anchor="end" fill="#2a2a2a">2.8</text>
<line x1="539.54" y1="268" x2="559.56" y2="268" stroke="#ececec" stroke-width="0.3"/>
<line x1="559.56" y1="268" x2="579.43" y2="268" stroke="#dcdcdc" stroke-width="0.3"/>
<line x1="538.74" y1="268" x2="539.54" y2="268" stroke="#444" stroke-width="0.25"/>
<text transform="translate(538.24 269.1) rotate(0.03)" font-size="3.5" text-anchor="end" fill="#2a2a2a">2.7</text>
<line x1="539.54" y1="279.08" x2="559.56" y2="279.08" stroke="#ececec" stroke-width="0.3"/>
<line x1="559.56" y1="279.08" x2="579.43" y2="279.08" stroke="#dcdcdc" stroke-width="0.3"/>
<line x1="538.74" y1="279.08" x2="539.54" y2="279.08" stroke="#444" stroke-width="0.25"/>
<text transform="translate(538.24 280.18) rotate(0.03)" font-size="3.5" text-anchor="end" fill="#2a2a2a">2.6</text>
<rect x="539.54" y="253.35" width="39.89" height="36.31" fill="none" stroke="#8a8a8a" stroke-width="0.35"/>
<line x1="539.54" y1="289.66" x2="539.54" y2="290.46" stroke="#444" stroke-width="0.25"/>
<text transform="translate(539.54 293.86) rotate(0.03)" font-size="3.5" text-anchor="middle" fill="#2a2a2a">0</text>
<line x1="549.51" y1="289.66" x2="549.51" y2="290.46" stroke="#444" stroke-width="0.25"/>
<text transform="translate(549.51 293.86) rotate(0.03)" font-size="3.5" text-anchor="middle" fill="#2a2a2a">6</text>
<line x1="559.48" y1="289.66" x2="559.48" y2="290.46" stroke="#444" stroke-width="0.25"/>
<text transform="translate(559.48 293.86) rotate(0.03)" font-size="3.5" text-anchor="middle" fill="#2a2a2a">12</text>
<line x1="569.45" y1="289.66" x2="569.45" y2="290.46" stroke="#444" stroke-width="0.25"/>
<text transform="translate(569.45 293.86) rotate(0.03)" font-size="3.5" text-anchor="middle" fill="#2a2a2a">18</text>
<line x1="579.43" y1="289.66" x2="579.43" y2="290.46" stroke="#444" stroke-width="0.25"/>
<text transform="translate(579.43 293.86) rotate(0.03)" font-size="3.5" text-anchor="middle" fill="#2a2a2a">24</text>
<path d="M539.54 261.17C540.89 261.38 545.24 261.44 547.68 262.47C550.12 263.5 552.02 265.94 554.19 267.35C556.36 268.76 558.26 270.74 560.7 270.93C563.15 271.12 566.4 269.85 568.84 268.49C571.29 267.14 573.81 264.15 575.36 262.79C576.9 261.44 577.45 260.35 578.12 260.35C578.8 260.35 579.21 262.39 579.43 262.79" fill="none" stroke="#3a3a3a" stroke-width="0.45"/>
<path d="M539.54 268.49C540.89 269.58 544.83 273.38 547.68 275C550.53 276.63 553.78 278.26 556.63 278.26C559.48 278.26 562.2 276.55 564.77 275C567.35 273.46 570.2 270.34 572.1 268.98C574 267.62 574.95 266.95 576.17 266.86C577.39 266.78 578.88 268.22 579.43 268.49" fill="none" stroke="#2f8fd0" stroke-width="0.7"/>
<path d="M539.54 264.75C540.76 266.19 544.29 271.04 546.86 273.38C549.44 275.71 552.29 278.48 555 278.75C557.72 279.02 560.43 276.99 563.15 275C565.86 273.02 568.98 269.04 571.29 266.86C573.59 264.69 575.63 262.39 576.98 261.98C578.34 261.57 579.02 264.01 579.43 264.42" fill="none" stroke="#a83232" stroke-width="0.7"/>
<line x1="548" y1="257.1" x2="548" y2="266.86" stroke="#222" stroke-width="0.32"/>
<line x1="547.5" y1="257.1" x2="548.5" y2="257.1" stroke="#222" stroke-width="0.3"/>
<line x1="547.5" y1="266.86" x2="548.5" y2="266.86" stroke="#222" stroke-width="0.3"/>
<line x1="548" y1="278.75" x2="548" y2="288.52" stroke="#222" stroke-width="0.32"/>
<line x1="547.5" y1="278.75" x2="548.5" y2="278.75" stroke="#222" stroke-width="0.3"/>
<line x1="547.5" y1="288.52" x2="548.5" y2="288.52" stroke="#222" stroke-width="0.3"/>
<line x1="548" y1="268.98" x2="548" y2="278.75" stroke="#222" stroke-width="0.32"/>
<line x1="547.5" y1="268.98" x2="548.5" y2="268.98" stroke="#222" stroke-width="0.3"/>
<line x1="547.5" y1="278.75" x2="548.5" y2="278.75" stroke="#222" stroke-width="0.3"/>
<line x1="557.94" y1="262.79" x2="557.94" y2="278.42" stroke="#222" stroke-width="0.32"/>
<line x1="557.44" y1="262.79" x2="558.44" y2="262.79" stroke="#222" stroke-width="0.3"/>
<line x1="557.44" y1="278.42" x2="558.44" y2="278.42" stroke="#222" stroke-width="0.3"/>
<line x1="557.94" y1="262.79" x2="557.94" y2="278.42" stroke="#222" stroke-width="0.32"/>
<line x1="557.44" y1="262.79" x2="558.44" y2="262.79" stroke="#222" stroke-width="0.3"/>
<line x1="557.44" y1="278.42" x2="558.44" y2="278.42" stroke="#222" stroke-width="0.3"/>
<line x1="557.94" y1="269.31" x2="557.94" y2="284.94" stroke="#222" stroke-width="0.32"/>
<line x1="557.44" y1="269.31" x2="558.44" y2="269.31" stroke="#222" stroke-width="0.3"/>
<line x1="557.44" y1="284.94" x2="558.44" y2="284.94" stroke="#222" stroke-width="0.3"/>
<line x1="568.03" y1="261.17" x2="568.03" y2="271.59" stroke="#222" stroke-width="0.32"/>
<line x1="567.53" y1="261.17" x2="568.53" y2="261.17" stroke="#222" stroke-width="0.3"/>
<line x1="567.53" y1="271.59" x2="568.53" y2="271.59" stroke="#222" stroke-width="0.3"/>
<line x1="568.03" y1="273.54" x2="568.03" y2="283.96" stroke="#222" stroke-width="0.32"/>
<line x1="567.53" y1="273.54" x2="568.53" y2="273.54" stroke="#222" stroke-width="0.3"/>
<line x1="567.53" y1="283.96" x2="568.53" y2="283.96" stroke="#222" stroke-width="0.3"/>
<line x1="568.03" y1="265.4" x2="568.03" y2="275.82" stroke="#222" stroke-width="0.32"/>
<line x1="567.53" y1="265.4" x2="568.53" y2="265.4" stroke="#222" stroke-width="0.3"/>
<line x1="567.53" y1="275.82" x2="568.53" y2="275.82" stroke="#222" stroke-width="0.3"/>
<line x1="577.8" y1="254.65" x2="577.8" y2="266.05" stroke="#222" stroke-width="0.32"/>
<line x1="577.3" y1="254.65" x2="578.3" y2="254.65" stroke="#222" stroke-width="0.3"/>
<line x1="577.3" y1="266.05" x2="578.3" y2="266.05" stroke="#222" stroke-width="0.3"/>
<line x1="577.8" y1="255.14" x2="577.8" y2="266.54" stroke="#222" stroke-width="0.32"/>
<line x1="577.3" y1="255.14" x2="578.3" y2="255.14" stroke="#222" stroke-width="0.3"/>
<line x1="577.3" y1="266.54" x2="578.3" y2="266.54" stroke="#222" stroke-width="0.3"/>
<line x1="577.8" y1="256.77" x2="577.8" y2="268.17" stroke="#222" stroke-width="0.32"/>
<line x1="577.3" y1="256.77" x2="578.3" y2="256.77" stroke="#222" stroke-width="0.3"/>
<line x1="577.3" y1="268.17" x2="578.3" y2="268.17" stroke="#222" stroke-width="0.3"/>
<circle cx="548" cy="261.98" r="1.25" fill="#6b6b6b" stroke="#222" stroke-width="0.25"/>
<circle cx="557.94" cy="270.61" r="1.25" fill="#6b6b6b" stroke="#222" stroke-width="0.25"/>
<circle cx="568.03" cy="266.38" r="1.25" fill="#6b6b6b" stroke="#222" stroke-width="0.25"/>
<circle cx="577.8" cy="260.35" r="1.25" fill="#6b6b6b" stroke="#222" stroke-width="0.25"/>
<circle cx="548" cy="283.63" r="1.25" fill="#2f86c4" stroke="#222" stroke-width="0.25"/>
<circle cx="557.94" cy="270.61" r="1.25" fill="#2f86c4" stroke="#222" stroke-width="0.25"/>
<circle cx="568.03" cy="278.75" r="1.25" fill="#2f86c4" stroke="#222" stroke-width="0.25"/>
<circle cx="577.8" cy="260.84" r="1.25" fill="#2f86c4" stroke="#222" stroke-width="0.25"/>
<circle cx="548" cy="273.87" r="1.25" fill="#9e1b1e" stroke="#222" stroke-width="0.25"/>
<circle cx="557.94" cy="277.12" r="1.25" fill="#9e1b1e" stroke="#222" stroke-width="0.25"/>
<circle cx="568.03" cy="270.61" r="1.25" fill="#9e1b1e" stroke="#222" stroke-width="0.25"/>
<circle cx="577.8" cy="262.47" r="1.25" fill="#9e1b1e" stroke="#222" stroke-width="0.25"/>
<text transform="translate(559.48 299.26) rotate(0.03)" font-size="4.1" text-anchor="middle" font-style="italic" fill="#222">Zeitgeber</text>
<text transform="translate(529.54 271.5) rotate(-89.97)" font-size="4.25" text-anchor="middle" fill="#222">Relative expression (CLR)</text>
<rect x="590.5" y="253.35" width="40.54" height="36.31" fill="#fff"/>
<rect x="610.69" y="253.35" width="20.35" height="36.31" fill="#d2d2d2"/>
<line x1="595.57" y1="253.35" x2="595.57" y2="289.66" stroke="#ececec" stroke-width="0.3"/>
<line x1="600.63" y1="253.35" x2="600.63" y2="289.66" stroke="#ececec" stroke-width="0.3"/>
<line x1="605.7" y1="253.35" x2="605.7" y2="289.66" stroke="#ececec" stroke-width="0.3"/>
<line x1="610.77" y1="253.35" x2="610.77" y2="289.66" stroke="#dcdcdc" stroke-width="0.3"/>
<line x1="615.84" y1="253.35" x2="615.84" y2="289.66" stroke="#dcdcdc" stroke-width="0.3"/>
<line x1="620.9" y1="253.35" x2="620.9" y2="289.66" stroke="#dcdcdc" stroke-width="0.3"/>
<line x1="625.97" y1="253.35" x2="625.97" y2="289.66" stroke="#dcdcdc" stroke-width="0.3"/>
<line x1="590.5" y1="264.42" x2="610.69" y2="264.42" stroke="#ececec" stroke-width="0.3"/>
<line x1="610.69" y1="264.42" x2="631.04" y2="264.42" stroke="#dcdcdc" stroke-width="0.3"/>
<line x1="589.7" y1="264.42" x2="590.5" y2="264.42" stroke="#444" stroke-width="0.25"/>
<text transform="translate(589.2 265.52) rotate(0.03)" font-size="3.5" text-anchor="end" fill="#2a2a2a">3.1</text>
<line x1="590.5" y1="277.12" x2="610.69" y2="277.12" stroke="#ececec" stroke-width="0.3"/>
<line x1="610.69" y1="277.12" x2="631.04" y2="277.12" stroke="#dcdcdc" stroke-width="0.3"/>
<line x1="589.7" y1="277.12" x2="590.5" y2="277.12" stroke="#444" stroke-width="0.25"/>
<text transform="translate(589.2 278.22) rotate(0.03)" font-size="3.5" text-anchor="end" fill="#2a2a2a">3.0</text>
<rect x="590.5" y="253.35" width="40.54" height="36.31" fill="none" stroke="#8a8a8a" stroke-width="0.35"/>
<line x1="590.5" y1="289.66" x2="590.5" y2="290.46" stroke="#444" stroke-width="0.25"/>
<text transform="translate(590.5 293.86) rotate(0.03)" font-size="3.5" text-anchor="middle" fill="#2a2a2a">0</text>
<line x1="600.63" y1="289.66" x2="600.63" y2="290.46" stroke="#444" stroke-width="0.25"/>
<text transform="translate(600.63 293.86) rotate(0.03)" font-size="3.5" text-anchor="middle" fill="#2a2a2a">6</text>
<line x1="610.77" y1="289.66" x2="610.77" y2="290.46" stroke="#444" stroke-width="0.25"/>
<text transform="translate(610.77 293.86) rotate(0.03)" font-size="3.5" text-anchor="middle" fill="#2a2a2a">12</text>
<line x1="620.9" y1="289.66" x2="620.9" y2="290.46" stroke="#444" stroke-width="0.25"/>
<text transform="translate(620.9 293.86) rotate(0.03)" font-size="3.5" text-anchor="middle" fill="#2a2a2a">18</text>
<line x1="631.04" y1="289.66" x2="631.04" y2="290.46" stroke="#444" stroke-width="0.25"/>
<text transform="translate(631.04 293.86) rotate(0.03)" font-size="3.5" text-anchor="middle" fill="#2a2a2a">24</text>
<path d="M590.5 257.91C591.5 258.18 594.43 257.77 596.52 259.54C598.61 261.3 601 265.72 603.03 268.49C605.07 271.26 607.24 274.65 608.73 276.14C610.23 277.64 610.5 278.04 611.99 277.45C613.48 276.85 615.65 274.6 617.69 272.56C619.72 270.53 621.98 267.54 624.2 265.24C626.43 262.93 629.9 259.81 631.04 258.72" fill="none" stroke="#3a3a3a" stroke-width="0.45"/>
<path d="M590.5 264.42C591.77 265.24 595.65 267.68 598.15 269.31C600.65 270.93 603.17 273.11 605.48 274.19C607.78 275.28 609.68 276.09 611.99 275.82C614.3 275.55 617.01 273.92 619.32 272.56C621.62 271.21 623.87 269.04 625.83 267.68C627.78 266.32 630.17 264.96 631.04 264.42" fill="none" stroke="#2f8fd0" stroke-width="0.7"/>
<path d="M590.5 269.31C592.04 269.39 596.6 269.66 599.78 269.79C602.95 269.93 606.29 270.2 609.55 270.12C612.8 270.04 615.73 269.58 619.32 269.31C622.9 269.04 629.08 268.63 631.04 268.49" fill="none" stroke="#a83232" stroke-width="0.7"/>
<line x1="599.29" y1="254.33" x2="599.29" y2="264.1" stroke="#222" stroke-width="0.32"/>
<line x1="598.79" y1="254.33" x2="599.79" y2="254.33" stroke="#222" stroke-width="0.3"/>
<line x1="598.79" y1="264.1" x2="599.79" y2="264.1" stroke="#222" stroke-width="0.3"/>
<line x1="599.29" y1="266.86" x2="599.29" y2="276.63" stroke="#222" stroke-width="0.32"/>
<line x1="598.79" y1="266.86" x2="599.79" y2="266.86" stroke="#222" stroke-width="0.3"/>
<line x1="598.79" y1="276.63" x2="599.79" y2="276.63" stroke="#222" stroke-width="0.3"/>
<line x1="599.29" y1="264.75" x2="599.29" y2="274.52" stroke="#222" stroke-width="0.32"/>
<line x1="598.79" y1="264.75" x2="599.79" y2="264.75" stroke="#222" stroke-width="0.3"/>
<line x1="598.79" y1="274.52" x2="599.79" y2="274.52" stroke="#222" stroke-width="0.3"/>
<line x1="609.22" y1="274.19" x2="609.22" y2="288.84" stroke="#222" stroke-width="0.32"/>
<line x1="608.72" y1="274.19" x2="609.72" y2="274.19" stroke="#222" stroke-width="0.3"/>
<line x1="608.72" y1="288.84" x2="609.72" y2="288.84" stroke="#222" stroke-width="0.3"/>
<line x1="609.22" y1="267.19" x2="609.22" y2="281.84" stroke="#222" stroke-width="0.32"/>
<line x1="608.72" y1="267.19" x2="609.72" y2="267.19" stroke="#222" stroke-width="0.3"/>
<line x1="608.72" y1="281.84" x2="609.72" y2="281.84" stroke="#222" stroke-width="0.3"/>
<line x1="609.22" y1="262.79" x2="609.22" y2="277.45" stroke="#222" stroke-width="0.32"/>
<line x1="608.72" y1="262.79" x2="609.72" y2="262.79" stroke="#222" stroke-width="0.3"/>
<line x1="608.72" y1="277.45" x2="609.72" y2="277.45" stroke="#222" stroke-width="0.3"/>
<line x1="619.32" y1="261.98" x2="619.32" y2="271.75" stroke="#222" stroke-width="0.32"/>
<line x1="618.82" y1="261.98" x2="619.82" y2="261.98" stroke="#222" stroke-width="0.3"/>
<line x1="618.82" y1="271.75" x2="619.82" y2="271.75" stroke="#222" stroke-width="0.3"/>
<line x1="619.32" y1="268" x2="619.32" y2="277.77" stroke="#222" stroke-width="0.32"/>
<line x1="618.82" y1="268" x2="619.82" y2="268" stroke="#222" stroke-width="0.3"/>
<line x1="618.82" y1="277.77" x2="619.82" y2="277.77" stroke="#222" stroke-width="0.3"/>
<line x1="619.32" y1="263.61" x2="619.32" y2="273.38" stroke="#222" stroke-width="0.32"/>
<line x1="618.82" y1="263.61" x2="619.82" y2="263.61" stroke="#222" stroke-width="0.3"/>
<line x1="618.82" y1="273.38" x2="619.82" y2="273.38" stroke="#222" stroke-width="0.3"/>
<line x1="629.41" y1="258.72" x2="629.41" y2="268.49" stroke="#222" stroke-width="0.32"/>
<line x1="628.91" y1="258.72" x2="629.91" y2="258.72" stroke="#222" stroke-width="0.3"/>
<line x1="628.91" y1="268.49" x2="629.91" y2="268.49" stroke="#222" stroke-width="0.3"/>
<line x1="629.41" y1="258.72" x2="629.41" y2="268.49" stroke="#222" stroke-width="0.32"/>
<line x1="628.91" y1="258.72" x2="629.91" y2="258.72" stroke="#222" stroke-width="0.3"/>
<line x1="628.91" y1="268.49" x2="629.91" y2="268.49" stroke="#222" stroke-width="0.3"/>
<line x1="629.41" y1="264.42" x2="629.41" y2="274.19" stroke="#222" stroke-width="0.32"/>
<line x1="628.91" y1="264.42" x2="629.91" y2="264.42" stroke="#222" stroke-width="0.3"/>
<line x1="628.91" y1="274.19" x2="629.91" y2="274.19" stroke="#222" stroke-width="0.3"/>
<circle cx="599.29" cy="259.21" r="1.25" fill="#6b6b6b" stroke="#222" stroke-width="0.25"/>
<circle cx="609.22" cy="281.52" r="1.25" fill="#6b6b6b" stroke="#222" stroke-width="0.25"/>
<circle cx="619.32" cy="266.86" r="1.25" fill="#6b6b6b" stroke="#222" stroke-width="0.25"/>
<circle cx="629.41" cy="263.61" r="1.25" fill="#6b6b6b" stroke="#222" stroke-width="0.25"/>
<circle cx="599.29" cy="271.75" r="1.25" fill="#2f86c4" stroke="#222" stroke-width="0.25"/>
<circle cx="609.22" cy="274.52" r="1.25" fill="#2f86c4" stroke="#222" stroke-width="0.25"/>
<circle cx="619.32" cy="272.89" r="1.25" fill="#2f86c4" stroke="#222" stroke-width="0.25"/>
<circle cx="629.41" cy="263.61" r="1.25" fill="#2f86c4" stroke="#222" stroke-width="0.25"/>
<circle cx="599.29" cy="269.63" r="1.25" fill="#9e1b1e" stroke="#222" stroke-width="0.25"/>
<circle cx="609.22" cy="270.12" r="1.25" fill="#9e1b1e" stroke="#222" stroke-width="0.25"/>
<circle cx="619.32" cy="268.49" r="1.25" fill="#9e1b1e" stroke="#222" stroke-width="0.25"/>
<circle cx="629.41" cy="269.31" r="1.25" fill="#9e1b1e" stroke="#222" stroke-width="0.25"/>
<text transform="translate(610.77 299.26) rotate(0.03)" font-size="4.1" text-anchor="middle" font-style="italic" fill="#222">Zeitgeber</text>
<text transform="translate(583.5 249.5) rotate(0.03)" font-size="5.25" text-anchor="middle" fill="#222">Glutamine</text>
<rect x="469.44" y="233.43" width="40.32" height="36.51" fill="#fff"/>
<rect x="489.6" y="233.43" width="20.16" height="36.51" fill="#d2d2d2"/>
<line x1="474.48" y1="233.43" x2="474.48" y2="269.94" stroke="#ececec" stroke-width="0.3"/>
<line x1="479.52" y1="233.43" x2="479.52" y2="269.94" stroke="#ececec" stroke-width="0.3"/>
<line x1="484.56" y1="233.43" x2="484.56" y2="269.94" stroke="#ececec" stroke-width="0.3"/>
<line x1="489.6" y1="233.43" x2="489.6" y2="269.94" stroke="#dcdcdc" stroke-width="0.3"/>
<line x1="494.64" y1="233.43" x2="494.64" y2="269.94" stroke="#dcdcdc" stroke-width="0.3"/>
<line x1="499.68" y1="233.43" x2="499.68" y2="269.94" stroke="#dcdcdc" stroke-width="0.3"/>
<line x1="504.72" y1="233.43" x2="504.72" y2="269.94" stroke="#dcdcdc" stroke-width="0.3"/>
<line x1="469.44" y1="238.67" x2="489.6" y2="238.67" stroke="#ececec" stroke-width="0.3"/>
<line x1="489.6" y1="238.67" x2="509.76" y2="238.67" stroke="#dcdcdc" stroke-width="0.3"/>
<line x1="468.64" y1="238.67" x2="469.44" y2="238.67" stroke="#444" stroke-width="0.25"/>
<text transform="translate(468.14 239.77) rotate(0.03)" font-size="3.5" text-anchor="end" fill="#2a2a2a">-3.5</text>
<line x1="469.44" y1="248.98" x2="489.6" y2="248.98" stroke="#ececec" stroke-width="0.3"/>
<line x1="489.6" y1="248.98" x2="509.76" y2="248.98" stroke="#dcdcdc" stroke-width="0.3"/>
<line x1="468.64" y1="248.98" x2="469.44" y2="248.98" stroke="#444" stroke-width="0.25"/>
<text transform="translate(468.14 250.08) rotate(0.03)" font-size="3.5" text-anchor="end" fill="#2a2a2a">-4.0</text>
<line x1="469.44" y1="259.62" x2="489.6" y2="259.62" stroke="#ececec" stroke-width="0.3"/>
<line x1="489.6" y1="259.62" x2="509.76" y2="259.62" stroke="#dcdcdc" stroke-width="0.3"/>
<line x1="468.64" y1="259.62" x2="469.44" y2="259.62" stroke="#444" stroke-width="0.25"/>
<text transform="translate(468.14 260.72) rotate(0.03)" font-size="3.5" text-anchor="end" fill="#2a2a2a">-4.5</text>
<rect x="469.44" y="233.43" width="40.32" height="36.51" fill="none" stroke="#8a8a8a" stroke-width="0.35"/>
<line x1="469.44" y1="269.94" x2="469.44" y2="270.74" stroke="#444" stroke-width="0.25"/>
<text transform="translate(469.44 274.14) rotate(0.03)" font-size="3.5" text-anchor="middle" fill="#2a2a2a">0</text>
<line x1="479.52" y1="269.94" x2="479.52" y2="270.74" stroke="#444" stroke-width="0.25"/>
<text transform="translate(479.52 274.14) rotate(0.03)" font-size="3.5" text-anchor="middle" fill="#2a2a2a">6</text>
<line x1="489.6" y1="269.94" x2="489.6" y2="270.74" stroke="#444" stroke-width="0.25"/>
<text transform="translate(489.6 274.14) rotate(0.03)" font-size="3.5" text-anchor="middle" fill="#2a2a2a">12</text>
<line x1="499.68" y1="269.94" x2="499.68" y2="270.74" stroke="#444" stroke-width="0.25"/>
<text transform="translate(499.68 274.14) rotate(0.03)" font-size="3.5" text-anchor="middle" fill="#2a2a2a">18</text>
<line x1="509.76" y1="269.94" x2="509.76" y2="270.74" stroke="#444" stroke-width="0.25"/>
<text transform="translate(509.76 274.14) rotate(0.03)" font-size="3.5" text-anchor="middle" fill="#2a2a2a">24</text>
<path d="M469.44 256.13C470.56 255.6 473.94 254.67 476.11 252.95C478.28 251.23 480.34 247.74 482.46 245.81C484.58 243.88 486.83 242.16 488.81 241.37C490.79 240.57 492.51 240.44 494.37 241.05C496.22 241.66 498.07 243.16 499.92 245.02C501.77 246.87 503.84 250.31 505.48 252.16C507.12 254.01 509.05 255.47 509.76 256.13" fill="none" stroke="#3a3a3a" stroke-width="0.45"/>
<path d="M469.44 256.13C470.16 256.21 471.83 257 473.73 256.6C475.63 256.21 478.49 255.07 480.87 253.75C483.25 252.42 485.77 249.86 488.02 248.67C490.26 247.48 492.25 246.55 494.37 246.6C496.48 246.66 498.73 247.93 500.71 248.98C502.7 250.04 504.76 251.89 506.27 252.95C507.78 254.01 509.18 254.94 509.76 255.33" fill="none" stroke="#2f8fd0" stroke-width="0.7"/>
<path d="M469.44 245.81C470.56 246.55 473.68 248.72 476.11 250.25C478.54 251.79 481.53 254.57 484.05 255.02C486.56 255.47 488.94 254.28 491.19 252.95C493.44 251.63 495.69 248.4 497.54 247.08C499.39 245.76 500.26 245.23 502.3 245.02C504.34 244.8 508.52 245.68 509.76 245.81" fill="none" stroke="#a83232" stroke-width="0.7"/>
<line x1="478.02" y1="244.54" x2="478.02" y2="261.37" stroke="#222" stroke-width="0.32"/>
<line x1="477.52" y1="244.54" x2="478.52" y2="244.54" stroke="#222" stroke-width="0.3"/>
<line x1="477.52" y1="261.37" x2="478.52" y2="261.37" stroke="#222" stroke-width="0.3"/>
<line x1="478.02" y1="251.68" x2="478.02" y2="268.51" stroke="#222" stroke-width="0.32"/>
<line x1="477.52" y1="251.68" x2="478.52" y2="251.68" stroke="#222" stroke-width="0.3"/>
<line x1="477.52" y1="268.51" x2="478.52" y2="268.51" stroke="#222" stroke-width="0.3"/>
<line x1="478.02" y1="241.84" x2="478.02" y2="258.67" stroke="#222" stroke-width="0.32"/>
<line x1="477.52" y1="241.84" x2="478.52" y2="241.84" stroke="#222" stroke-width="0.3"/>
<line x1="477.52" y1="258.67" x2="478.52" y2="258.67" stroke="#222" stroke-width="0.3"/>
<line x1="488.02" y1="233.73" x2="488.02" y2="253.75" stroke="#222" stroke-width="0.32"/>
<line x1="487.52" y1="233.73" x2="488.52" y2="233.73" stroke="#222" stroke-width="0.3"/>
<line x1="487.52" y1="253.75" x2="488.52" y2="253.75" stroke="#222" stroke-width="0.3"/>
<line x1="488.02" y1="234.7" x2="488.02" y2="256.92" stroke="#222" stroke-width="0.32"/>
<line x1="487.52" y1="234.7" x2="488.52" y2="234.7" stroke="#222" stroke-width="0.3"/>
<line x1="487.52" y1="256.92" x2="488.52" y2="256.92" stroke="#222" stroke-width="0.3"/>
<line x1="488.02" y1="243.9" x2="488.02" y2="266.13" stroke="#222" stroke-width="0.32"/>
<line x1="487.52" y1="243.9" x2="488.52" y2="243.9" stroke="#222" stroke-width="0.3"/>
<line x1="487.52" y1="266.13" x2="488.52" y2="266.13" stroke="#222" stroke-width="0.3"/>
<line x1="498.02" y1="235.49" x2="498.02" y2="254.54" stroke="#222" stroke-width="0.32"/>
<line x1="497.52" y1="235.49" x2="498.52" y2="235.49" stroke="#222" stroke-width="0.3"/>
<line x1="497.52" y1="254.54" x2="498.52" y2="254.54" stroke="#222" stroke-width="0.3"/>
<line x1="498.02" y1="242.32" x2="498.02" y2="261.37" stroke="#222" stroke-width="0.32"/>
<line x1="497.52" y1="242.32" x2="498.52" y2="242.32" stroke="#222" stroke-width="0.3"/>
<line x1="497.52" y1="261.37" x2="498.52" y2="261.37" stroke="#222" stroke-width="0.3"/>
<line x1="498.02" y1="236.6" x2="498.02" y2="255.65" stroke="#222" stroke-width="0.32"/>
<line x1="497.52" y1="236.6" x2="498.52" y2="236.6" stroke="#222" stroke-width="0.3"/>
<line x1="497.52" y1="255.65" x2="498.52" y2="255.65" stroke="#222" stroke-width="0.3"/>
<line x1="508.17" y1="244.54" x2="508.17" y2="264.54" stroke="#222" stroke-width="0.32"/>
<line x1="507.67" y1="244.54" x2="508.67" y2="244.54" stroke="#222" stroke-width="0.3"/>
<line x1="507.67" y1="264.54" x2="508.67" y2="264.54" stroke="#222" stroke-width="0.3"/>
<line x1="508.17" y1="241.05" x2="508.17" y2="261.05" stroke="#222" stroke-width="0.32"/>
<line x1="507.67" y1="241.05" x2="508.67" y2="241.05" stroke="#222" stroke-width="0.3"/>
<line x1="507.67" y1="261.05" x2="508.67" y2="261.05" stroke="#222" stroke-width="0.3"/>
<line x1="508.17" y1="236.6" x2="508.17" y2="256.6" stroke="#222" stroke-width="0.32"/>
<line x1="507.67" y1="236.6" x2="508.67" y2="236.6" stroke="#222" stroke-width="0.3"/>
<line x1="507.67" y1="256.6" x2="508.67" y2="256.6" stroke="#222" stroke-width="0.3"/>
<circle cx="478.02" cy="252.95" r="1.25" fill="#6b6b6b" stroke="#222" stroke-width="0.25"/>
<circle cx="488.02" cy="242.63" r="1.25" fill="#6b6b6b" stroke="#222" stroke-width="0.25"/>
<circle cx="498.02" cy="245.02" r="1.25" fill="#6b6b6b" stroke="#222" stroke-width="0.25"/>
<circle cx="508.17" cy="254.54" r="1.25" fill="#6b6b6b" stroke="#222" stroke-width="0.25"/>
<circle cx="478.02" cy="260.1" r="1.25" fill="#2f86c4" stroke="#222" stroke-width="0.25"/>
<circle cx="488.02" cy="245.81" r="1.25" fill="#2f86c4" stroke="#222" stroke-width="0.25"/>
<circle cx="498.02" cy="251.84" r="1.25" fill="#2f86c4" stroke="#222" stroke-width="0.25"/>
<circle cx="508.17" cy="251.05" r="1.25" fill="#2f86c4" stroke="#222" stroke-width="0.25"/>
<circle cx="478.02" cy="250.25" r="1.25" fill="#9e1b1e" stroke="#222" stroke-width="0.25"/>
<circle cx="488.02" cy="255.02" r="1.25" fill="#9e1b1e" stroke="#222" stroke-width="0.25"/>
<circle cx="498.02" cy="246.13" r="1.25" fill="#9e1b1e" stroke="#222" stroke-width="0.25"/>
<circle cx="508.17" cy="246.6" r="1.25" fill="#9e1b1e" stroke="#222" stroke-width="0.25"/>
<text transform="translate(489.6 279.54) rotate(0.03)" font-size="4.1" text-anchor="middle" font-style="italic" fill="#222">Zeitgeber</text>
<text transform="translate(459.84 251.68) rotate(-89.97)" font-size="4.25" text-anchor="middle" fill="#222">Relative expression (CLR)</text>
<text transform="translate(490 231.2) rotate(0.03)" font-size="5.25" text-anchor="middle" fill="#222">2-oxoglutarate</text>
<rect x="652.03" y="232.2" width="40.59" height="36.75" fill="#fff"/>
<rect x="672.24" y="232.2" width="20.38" height="36.75" fill="#d2d2d2"/>
<line x1="657.1" y1="232.2" x2="657.1" y2="268.95" stroke="#ececec" stroke-width="0.3"/>
<line x1="662.18" y1="232.2" x2="662.18" y2="268.95" stroke="#ececec" stroke-width="0.3"/>
<line x1="667.25" y1="232.2" x2="667.25" y2="268.95" stroke="#ececec" stroke-width="0.3"/>
<line x1="672.33" y1="232.2" x2="672.33" y2="268.95" stroke="#dcdcdc" stroke-width="0.3"/>
<line x1="677.4" y1="232.2" x2="677.4" y2="268.95" stroke="#dcdcdc" stroke-width="0.3"/>
<line x1="682.47" y1="232.2" x2="682.47" y2="268.95" stroke="#dcdcdc" stroke-width="0.3"/>
<line x1="687.55" y1="232.2" x2="687.55" y2="268.95" stroke="#dcdcdc" stroke-width="0.3"/>
<line x1="652.03" y1="243.06" x2="672.24" y2="243.06" stroke="#ececec" stroke-width="0.3"/>
<line x1="672.24" y1="243.06" x2="692.62" y2="243.06" stroke="#dcdcdc" stroke-width="0.3"/>
<line x1="651.23" y1="243.06" x2="652.03" y2="243.06" stroke="#444" stroke-width="0.25"/>
<text transform="translate(650.73 244.16) rotate(0.03)" font-size="3.5" text-anchor="end" fill="#2a2a2a">-4</text>
<line x1="652.03" y1="255.59" x2="672.24" y2="255.59" stroke="#ececec" stroke-width="0.3"/>
<line x1="672.24" y1="255.59" x2="692.62" y2="255.59" stroke="#dcdcdc" stroke-width="0.3"/>
<line x1="651.23" y1="255.59" x2="652.03" y2="255.59" stroke="#444" stroke-width="0.25"/>
<text transform="translate(650.73 256.69) rotate(0.03)" font-size="3.5" text-anchor="end" fill="#2a2a2a">-5</text>
<line x1="652.03" y1="267.78" x2="672.24" y2="267.78" stroke="#ececec" stroke-width="0.3"/>
<line x1="672.24" y1="267.78" x2="692.62" y2="267.78" stroke="#dcdcdc" stroke-width="0.3"/>
<line x1="651.23" y1="267.78" x2="652.03" y2="267.78" stroke="#444" stroke-width="0.25"/>
<text transform="translate(650.73 268.88) rotate(0.03)" font-size="3.5" text-anchor="end" fill="#2a2a2a">-6</text>
<rect x="652.03" y="232.2" width="40.59" height="36.75" fill="none" stroke="#8a8a8a" stroke-width="0.35"/>
<line x1="652.03" y1="268.95" x2="652.03" y2="269.75" stroke="#444" stroke-width="0.25"/>
<text transform="translate(652.03 273.15) rotate(0.03)" font-size="3.5" text-anchor="middle" fill="#2a2a2a">0</text>
<line x1="662.18" y1="268.95" x2="662.18" y2="269.75" stroke="#444" stroke-width="0.25"/>
<text transform="translate(662.18 273.15) rotate(0.03)" font-size="3.5" text-anchor="middle" fill="#2a2a2a">6</text>
<line x1="672.33" y1="268.95" x2="672.33" y2="269.75" stroke="#444" stroke-width="0.25"/>
<text transform="translate(672.33 273.15) rotate(0.03)" font-size="3.5" text-anchor="middle" fill="#2a2a2a">12</text>
<line x1="682.47" y1="268.95" x2="682.47" y2="269.75" stroke="#444" stroke-width="0.25"/>
<text transform="translate(682.47 273.15) rotate(0.03)" font-size="3.5" text-anchor="middle" fill="#2a2a2a">18</text>
<line x1="692.62" y1="268.95" x2="692.62" y2="269.75" stroke="#444" stroke-width="0.25"/>
<text transform="translate(692.62 273.15) rotate(0.03)" font-size="3.5" text-anchor="middle" fill="#2a2a2a">24</text>
<path d="M652.03 243.06C653.09 243.34 656.2 244.31 658.38 244.73C660.55 245.15 662.55 245.7 665.06 245.56C667.56 245.43 670.63 244.53 673.41 243.89C676.2 243.25 678.56 242.75 681.76 241.72C684.97 240.69 690.81 238.38 692.62 237.71" fill="none" stroke="#3a3a3a" stroke-width="0.45"/>
<path d="M652.03 252.75C653.09 252.3 656.2 249.88 658.38 250.07C660.55 250.27 662.83 252.08 665.06 253.92C667.29 255.75 669.65 259.51 671.74 261.1C673.83 262.69 675.5 263.44 677.59 263.44C679.68 263.44 682.18 262.41 684.27 261.1C686.36 259.79 688.72 256.87 690.12 255.59C691.51 254.31 692.21 253.78 692.62 253.42" fill="none" stroke="#2f8fd0" stroke-width="0.7"/>
<path d="M652.03 240.55C653.09 240.75 655.93 241.92 658.38 241.72C660.83 241.53 663.94 240.19 666.73 239.38C669.51 238.58 672.58 237.38 675.08 236.88C677.59 236.38 679.54 236.24 681.76 236.38C683.99 236.52 686.64 237.3 688.45 237.71C690.26 238.13 691.93 238.69 692.62 238.88" fill="none" stroke="#a83232" stroke-width="0.7"/>
<line x1="660.38" y1="241.39" x2="660.38" y2="248.07" stroke="#222" stroke-width="0.32"/>
<line x1="659.88" y1="241.39" x2="660.88" y2="241.39" stroke="#222" stroke-width="0.3"/>
<line x1="659.88" y1="248.07" x2="660.88" y2="248.07" stroke="#222" stroke-width="0.3"/>
<line x1="660.38" y1="245.56" x2="660.38" y2="252.25" stroke="#222" stroke-width="0.32"/>
<line x1="659.88" y1="245.56" x2="660.88" y2="245.56" stroke="#222" stroke-width="0.3"/>
<line x1="659.88" y1="252.25" x2="660.88" y2="252.25" stroke="#222" stroke-width="0.3"/>
<line x1="660.38" y1="238.55" x2="660.38" y2="245.23" stroke="#222" stroke-width="0.32"/>
<line x1="659.88" y1="238.55" x2="660.88" y2="238.55" stroke="#222" stroke-width="0.3"/>
<line x1="659.88" y1="245.23" x2="660.88" y2="245.23" stroke="#222" stroke-width="0.3"/>
<line x1="670.4" y1="239.72" x2="670.4" y2="248.07" stroke="#222" stroke-width="0.32"/>
<line x1="669.9" y1="239.72" x2="670.9" y2="239.72" stroke="#222" stroke-width="0.3"/>
<line x1="669.9" y1="248.07" x2="670.9" y2="248.07" stroke="#222" stroke-width="0.3"/>
<line x1="670.4" y1="258.93" x2="670.4" y2="264.94" stroke="#222" stroke-width="0.32"/>
<line x1="669.9" y1="258.93" x2="670.9" y2="258.93" stroke="#222" stroke-width="0.3"/>
<line x1="669.9" y1="264.94" x2="670.9" y2="264.94" stroke="#222" stroke-width="0.3"/>
<line x1="670.4" y1="234.71" x2="670.4" y2="241.39" stroke="#222" stroke-width="0.32"/>
<line x1="669.9" y1="234.71" x2="670.9" y2="234.71" stroke="#222" stroke-width="0.3"/>
<line x1="669.9" y1="241.39" x2="670.9" y2="241.39" stroke="#222" stroke-width="0.3"/>
<line x1="680.43" y1="239.72" x2="680.43" y2="246.4" stroke="#222" stroke-width="0.32"/>
<line x1="679.93" y1="239.72" x2="680.93" y2="239.72" stroke="#222" stroke-width="0.3"/>
<line x1="679.93" y1="246.4" x2="680.93" y2="246.4" stroke="#222" stroke-width="0.3"/>
<line x1="680.43" y1="252.08" x2="680.43" y2="268.12" stroke="#222" stroke-width="0.32"/>
<line x1="679.93" y1="252.08" x2="680.93" y2="252.08" stroke="#222" stroke-width="0.3"/>
<line x1="679.93" y1="268.12" x2="680.93" y2="268.12" stroke="#222" stroke-width="0.3"/>
<line x1="680.43" y1="234.37" x2="680.43" y2="239.38" stroke="#222" stroke-width="0.32"/>
<line x1="679.93" y1="234.37" x2="680.93" y2="234.37" stroke="#222" stroke-width="0.3"/>
<line x1="679.93" y1="239.38" x2="680.93" y2="239.38" stroke="#222" stroke-width="0.3"/>
<line x1="690.45" y1="235.54" x2="690.45" y2="242.22" stroke="#222" stroke-width="0.32"/>
<line x1="689.95" y1="235.54" x2="690.95" y2="235.54" stroke="#222" stroke-width="0.3"/>
<line x1="689.95" y1="242.22" x2="690.95" y2="242.22" stroke="#222" stroke-width="0.3"/>
<line x1="690.45" y1="248.74" x2="690.45" y2="264.78" stroke="#222" stroke-width="0.32"/>
<line x1="689.95" y1="248.74" x2="690.95" y2="248.74" stroke="#222" stroke-width="0.3"/>
<line x1="689.95" y1="264.78" x2="690.95" y2="264.78" stroke="#222" stroke-width="0.3"/>
<line x1="690.45" y1="236.38" x2="690.45" y2="241.39" stroke="#222" stroke-width="0.32"/>
<line x1="689.95" y1="236.38" x2="690.95" y2="236.38" stroke="#222" stroke-width="0.3"/>
<line x1="689.95" y1="241.39" x2="690.95" y2="241.39" stroke="#222" stroke-width="0.3"/>
<circle cx="660.38" cy="244.73" r="1.25" fill="#6b6b6b" stroke="#222" stroke-width="0.25"/>
<circle cx="670.4" cy="243.89" r="1.25" fill="#6b6b6b" stroke="#222" stroke-width="0.25"/>
<circle cx="680.43" cy="243.06" r="1.25" fill="#6b6b6b" stroke="#222" stroke-width="0.25"/>
<circle cx="690.45" cy="238.88" r="1.25" fill="#6b6b6b" stroke="#222" stroke-width="0.25"/>
<circle cx="660.38" cy="248.91" r="1.25" fill="#2f86c4" stroke="#222" stroke-width="0.25"/>
<circle cx="670.4" cy="261.94" r="1.25" fill="#2f86c4" stroke="#222" stroke-width="0.25"/>
<circle cx="680.43" cy="260.1" r="1.25" fill="#2f86c4" stroke="#222" stroke-width="0.25"/>
<circle cx="690.45" cy="256.76" r="1.25" fill="#2f86c4" stroke="#222" stroke-width="0.25"/>
<circle cx="660.38" cy="241.89" r="1.25" fill="#9e1b1e" stroke="#222" stroke-width="0.25"/>
<circle cx="670.4" cy="238.05" r="1.25" fill="#9e1b1e" stroke="#222" stroke-width="0.25"/>
<circle cx="680.43" cy="236.88" r="1.25" fill="#9e1b1e" stroke="#222" stroke-width="0.25"/>
<circle cx="690.45" cy="238.88" r="1.25" fill="#9e1b1e" stroke="#222" stroke-width="0.25"/>
<text transform="translate(672.33 278.55) rotate(0.03)" font-size="4.1" text-anchor="middle" font-style="italic" fill="#222">Zeitgeber</text>
<text transform="translate(672 230.2) rotate(0.03)" font-size="5.25" text-anchor="middle" fill="#222">2-oxoglutarate</text>
<text transform="translate(508.3 29.2) rotate(0.03)" font-size="7.4" font-weight="bold" fill="#111">Amygdala</text>
<text transform="translate(626.4 29.2) rotate(0.03)" font-size="7.4" font-weight="bold" fill="#111">Hippocampus</text>
<circle cx="688.4" cy="29.8" r="2.1" fill="#6b6b6b" stroke="#333" stroke-width="0.3"/>
<text transform="translate(696.4 31.4) rotate(0.03)" font-size="4.4" fill="#222">CV</text>
<circle cx="688.4" cy="39.6" r="2.1" fill="#2f86c4" stroke="#333" stroke-width="0.3"/>
<text transform="translate(696.4 41.2) rotate(0.03)" font-size="4.4" fill="#222">GF</text>
<circle cx="688.4" cy="49.3" r="2.1" fill="#9e1b1e" stroke="#333" stroke-width="0.3"/>
<text transform="translate(696.4 50.9) rotate(0.03)" font-size="4.4" fill="#222">ABX</text>
<path d="M566 30.5L568 29.5L570.9 30.6L574.1 28.4L577 30.5L580.9 28.4L583.5 30.5L587.2 28.4L590.2 30.3L593.3 28.4L596.5 30.3L599.8 28.4L602.6 30.5" fill="none" stroke="#222" stroke-width="0.4"/>
<line x1="567.7" y1="29.5" x2="567.7" y2="26" stroke="#222" stroke-width="0.4"/>
<line x1="568.4" y1="29.5" x2="568.4" y2="26" stroke="#222" stroke-width="0.4"/>
<line x1="580.6" y1="28.4" x2="580.6" y2="25.8" stroke="#222" stroke-width="0.4"/>
<line x1="581.3" y1="28.4" x2="581.3" y2="25.8" stroke="#222" stroke-width="0.4"/>
<line x1="589.9" y1="30.3" x2="589.9" y2="33" stroke="#222" stroke-width="0.4"/>
<line x1="590.6" y1="30.3" x2="590.6" y2="33" stroke="#222" stroke-width="0.4"/>
<line x1="599.5" y1="28.4" x2="599.5" y2="25.8" stroke="#222" stroke-width="0.4"/>
<line x1="600.2" y1="28.4" x2="600.2" y2="25.8" stroke="#222" stroke-width="0.4"/>
<line x1="570.9" y1="30.6" x2="571.3" y2="33" stroke="#222" stroke-width="0.4"/>
<line x1="587.2" y1="28.4" x2="587.8" y2="25" stroke="#222" stroke-width="0.4"/>
<line x1="587.8" y1="25" x2="589.8" y2="23.8" stroke="#222" stroke-width="0.4"/>
<text transform="translate(563.4 31.4) rotate(0.03)" font-size="3" text-anchor="middle" fill="#222">HO</text>
<text transform="translate(572.4 35.6) rotate(0.03)" font-size="3" text-anchor="middle" fill="#222">NH₂</text>
<text transform="translate(592.2 24.2) rotate(0.03)" font-size="3" text-anchor="middle" fill="#222">SH</text>
<text transform="translate(605 31.4) rotate(0.03)" font-size="3" text-anchor="middle" fill="#222">OH</text>
<text transform="translate(568 25.4) rotate(0.03)" font-size="3" text-anchor="middle" fill="#222">O</text>
<text transform="translate(580.9 25.2) rotate(0.03)" font-size="3" text-anchor="middle" fill="#222">O</text>
<text transform="translate(590.2 35.4) rotate(0.03)" font-size="3" text-anchor="middle" fill="#222">O</text>
<text transform="translate(599.8 25.2) rotate(0.03)" font-size="3" text-anchor="middle" fill="#222">O</text>
<text transform="translate(583.6 33.6) rotate(0.03)" font-size="3" text-anchor="middle" fill="#222">H</text>
<text transform="translate(593.4 27.2) rotate(0.03)" font-size="3" text-anchor="middle" fill="#222">H</text>
<path d="M491 82.6L494.4 80.7L498.5 83.1L502.2 81" fill="none" stroke="#222" stroke-width="0.4"/>
<line x1="498.8" y1="83.7" x2="502.5" y2="81.6" stroke="#222" stroke-width="0.4"/>
<line x1="498.5" y1="83.1" x2="498.5" y2="87.2" stroke="#222" stroke-width="0.4"/>
<text transform="translate(487.8 85) rotate(0.03)" font-size="3" text-anchor="middle" fill="#222">H₂N</text>
<text transform="translate(503.6 81.3) rotate(0.03)" font-size="3" text-anchor="middle" fill="#222">O</text>
<text transform="translate(500.4 89.6) rotate(0.03)" font-size="3" text-anchor="middle" fill="#222">OH</text>
<path d="M682.6 64.1L686 62.2L690.1 64.6L693.8 62.5" fill="none" stroke="#222" stroke-width="0.4"/>
<line x1="690.4" y1="65.2" x2="694.1" y2="63.1" stroke="#222" stroke-width="0.4"/>
<line x1="690.1" y1="64.6" x2="690.1" y2="68.7" stroke="#222" stroke-width="0.4"/>
<text transform="translate(679.4 66.5) rotate(0.03)" font-size="3" text-anchor="middle" fill="#222">H₂N</text>
<text transform="translate(695.2 62.8) rotate(0.03)" font-size="3" text-anchor="middle" fill="#222">O</text>
<text transform="translate(692 71.1) rotate(0.03)" font-size="3" text-anchor="middle" fill="#222">OH</text>
<path d="M571.7 157.9L575 156L579 158L583.1 156L587.2 157.9L591.6 156L595.3 157.9" fill="none" stroke="#222" stroke-width="0.4"/>
<line x1="574.7" y1="156" x2="574.7" y2="152.4" stroke="#222" stroke-width="0.4"/>
<line x1="575.4" y1="156" x2="575.4" y2="152.4" stroke="#222" stroke-width="0.4"/>
<line x1="591.3" y1="156" x2="591.3" y2="152.4" stroke="#222" stroke-width="0.4"/>
<line x1="592" y1="156" x2="592" y2="152.4" stroke="#222" stroke-width="0.4"/>
<line x1="587.2" y1="157.9" x2="587.2" y2="162" stroke="#222" stroke-width="0.4"/>
<text transform="translate(569.4 158.6) rotate(0.03)" font-size="3" text-anchor="middle" fill="#222">⁻O</text>
<text transform="translate(597.6 158.6) rotate(0.03)" font-size="3" text-anchor="middle" fill="#222">O⁻</text>
<text transform="translate(588.6 165) rotate(0.03)" font-size="3" text-anchor="middle" fill="#222">NH₂</text>
<text transform="translate(575 152) rotate(0.03)" font-size="3" text-anchor="middle" fill="#222">O</text>
<text transform="translate(591.6 152) rotate(0.03)" font-size="3" text-anchor="middle" fill="#222">O</text>
<text transform="translate(586 154.8) rotate(0.03)" font-size="3" text-anchor="middle" fill="#222">H</text>
<path d="M570.9 235.4L574.5 233.4L578.2 235.4L582.3 233.4L586.4 235.4L590.4 233.4L593.3 235" fill="none" stroke="#222" stroke-width="0.4"/>
<line x1="574.2" y1="233.4" x2="574.2" y2="229.6" stroke="#222" stroke-width="0.4"/>
<line x1="574.9" y1="233.4" x2="574.9" y2="229.6" stroke="#222" stroke-width="0.4"/>
<line x1="590.1" y1="233.4" x2="590.1" y2="229.6" stroke="#222" stroke-width="0.4"/>
<line x1="590.8" y1="233.4" x2="590.8" y2="229.6" stroke="#222" stroke-width="0.4"/>
<line x1="586.4" y1="235.4" x2="586.4" y2="238.8" stroke="#222" stroke-width="0.4"/>
<text transform="translate(567.8 236.4) rotate(0.03)" font-size="3" text-anchor="middle" fill="#222">H₂N</text>
<text transform="translate(596.2 236.4) rotate(0.03)" font-size="3" text-anchor="middle" fill="#222">OH</text>
<text transform="translate(588 241.8) rotate(0.03)" font-size="3" text-anchor="middle" fill="#222">NH₂</text>
<text transform="translate(574.5 229.2) rotate(0.03)" font-size="3" text-anchor="middle" fill="#222">O</text>
<text transform="translate(590.4 229.2) rotate(0.03)" font-size="3" text-anchor="middle" fill="#222">O</text>
<path d="M680.9 193.4L684.6 191.3L688.7 193.9L693.4 191.3L696 193.4" fill="none" stroke="#222" stroke-width="0.4"/>
<line x1="693.1" y1="191.3" x2="693.1" y2="187.4" stroke="#222" stroke-width="0.4"/>
<line x1="693.8" y1="191.3" x2="693.8" y2="187.4" stroke="#222" stroke-width="0.4"/>
<line x1="688.7" y1="193.9" x2="688.7" y2="197.6" stroke="#222" stroke-width="0.4"/>
<text transform="translate(678.6 194.8) rotate(0.03)" font-size="3" text-anchor="middle" fill="#222">HS</text>
<text transform="translate(698.9 194.8) rotate(0.03)" font-size="3" text-anchor="middle" fill="#222">OH</text>
<text transform="translate(690.6 200.6) rotate(0.03)" font-size="3" text-anchor="middle" fill="#222">NH₂</text>
<text transform="translate(693.4 187) rotate(0.03)" font-size="3" text-anchor="middle" fill="#222">O</text>
<path d="M480.1 292L482.5 290.4L486.3 292.5L490.2 290.4L494.2 292.5L498.4 290.4L500.8 292" fill="none" stroke="#222" stroke-width="0.4"/>
<line x1="482.2" y1="290.4" x2="482.2" y2="287.2" stroke="#222" stroke-width="0.4"/>
<line x1="482.9" y1="290.4" x2="482.9" y2="287.2" stroke="#222" stroke-width="0.4"/>
<line x1="498.1" y1="290.4" x2="498.1" y2="287.2" stroke="#222" stroke-width="0.4"/>
<line x1="498.8" y1="290.4" x2="498.8" y2="287.2" stroke="#222" stroke-width="0.4"/>
<line x1="486" y1="292.5" x2="486" y2="295.6" stroke="#222" stroke-width="0.4"/>
<line x1="486.7" y1="292.5" x2="486.7" y2="295.6" stroke="#222" stroke-width="0.4"/>
<text transform="translate(477.3 293.3) rotate(0.03)" font-size="3" text-anchor="middle" fill="#222">HO</text>
<text transform="translate(503.5 293.3) rotate(0.03)" font-size="3" text-anchor="middle" fill="#222">OH</text>
<text transform="translate(482.5 286.9) rotate(0.03)" font-size="3" text-anchor="middle" fill="#222">O</text>
<text transform="translate(498.4 286.9) rotate(0.03)" font-size="3" text-anchor="middle" fill="#222">O</text>
<text transform="translate(486.3 298.6) rotate(0.03)" font-size="3" text-anchor="middle" fill="#222">O</text>
<path d="M663.8 290.7L666.2 289.1L670 291.2L673.9 289.1L677.9 291.2L682.1 289.1L684.5 290.7" fill="none" stroke="#222" stroke-width="0.4"/>
<line x1="665.9" y1="289.1" x2="665.9" y2="285.9" stroke="#222" stroke-width="0.4"/>
<line x1="666.6" y1="289.1" x2="666.6" y2="285.9" stroke="#222" stroke-width="0.4"/>
<line x1="681.8" y1="289.1" x2="681.8" y2="285.9" stroke="#222" stroke-width="0.4"/>
<line x1="682.5" y1="289.1" x2="682.5" y2="285.9" stroke="#222" stroke-width="0.4"/>
<line x1="669.7" y1="291.2" x2="669.7" y2="294.3" stroke="#222" stroke-width="0.4"/>
<line x1="670.4" y1="291.2" x2="670.4" y2="294.3" stroke="#222" stroke-width="0.4"/>
<text transform="translate(661 292) rotate(0.03)" font-size="3" text-anchor="middle" fill="#222">HO</text>
<text transform="translate(687.2 292) rotate(0.03)" font-size="3" text-anchor="middle" fill="#222">OH</text>
<text transform="translate(666.2 285.6) rotate(0.03)" font-size="3" text-anchor="middle" fill="#222">O</text>
<text transform="translate(682.1 285.6) rotate(0.03)" font-size="3" text-anchor="middle" fill="#222">O</text>
<text transform="translate(670 297.3) rotate(0.03)" font-size="3" text-anchor="middle" fill="#222">O</text>
<text transform="translate(17.2 26.5) rotate(0.03)" font-size="13.2" font-weight="bold" fill="#000">A</text>
<text transform="translate(126.3 26.5) rotate(0.03)" font-size="13.2" font-weight="bold" fill="#000">B</text>
<text transform="translate(254 26.5) rotate(0.03)" font-size="13.2" font-weight="bold" fill="#000">C</text>
<text transform="translate(17.2 155.4) rotate(0.03)" font-size="13.2" font-weight="bold" fill="#000">D</text>
<text transform="translate(225.5 155.1) rotate(0.03)" font-size="13.2" font-weight="bold" fill="#000">E</text>
<text transform="translate(17 367.8) rotate(0.03)" font-size="13.2" font-weight="bold" fill="#000">F</text>
<text transform="translate(221.8 367.8) rotate(0.03)" font-size="13.2" font-weight="bold" fill="#000">G</text>
<text transform="translate(468.6 26.4) rotate(0.03)" font-size="13.2" font-weight="bold" fill="#000">H</text>
<text transform="translate(615.2 26.4) rotate(0.03)" font-size="13.2" font-weight="bold" fill="#000">I</text>
<text transform="translate(440.6 331.3) rotate(0.03)" font-size="13.2" font-weight="bold" fill="#000">J</text>
<text transform="translate(589.6 331.2) rotate(0.03)" font-size="13.2" font-weight="bold" fill="#000">K</text>
</svg>
</body></html>
